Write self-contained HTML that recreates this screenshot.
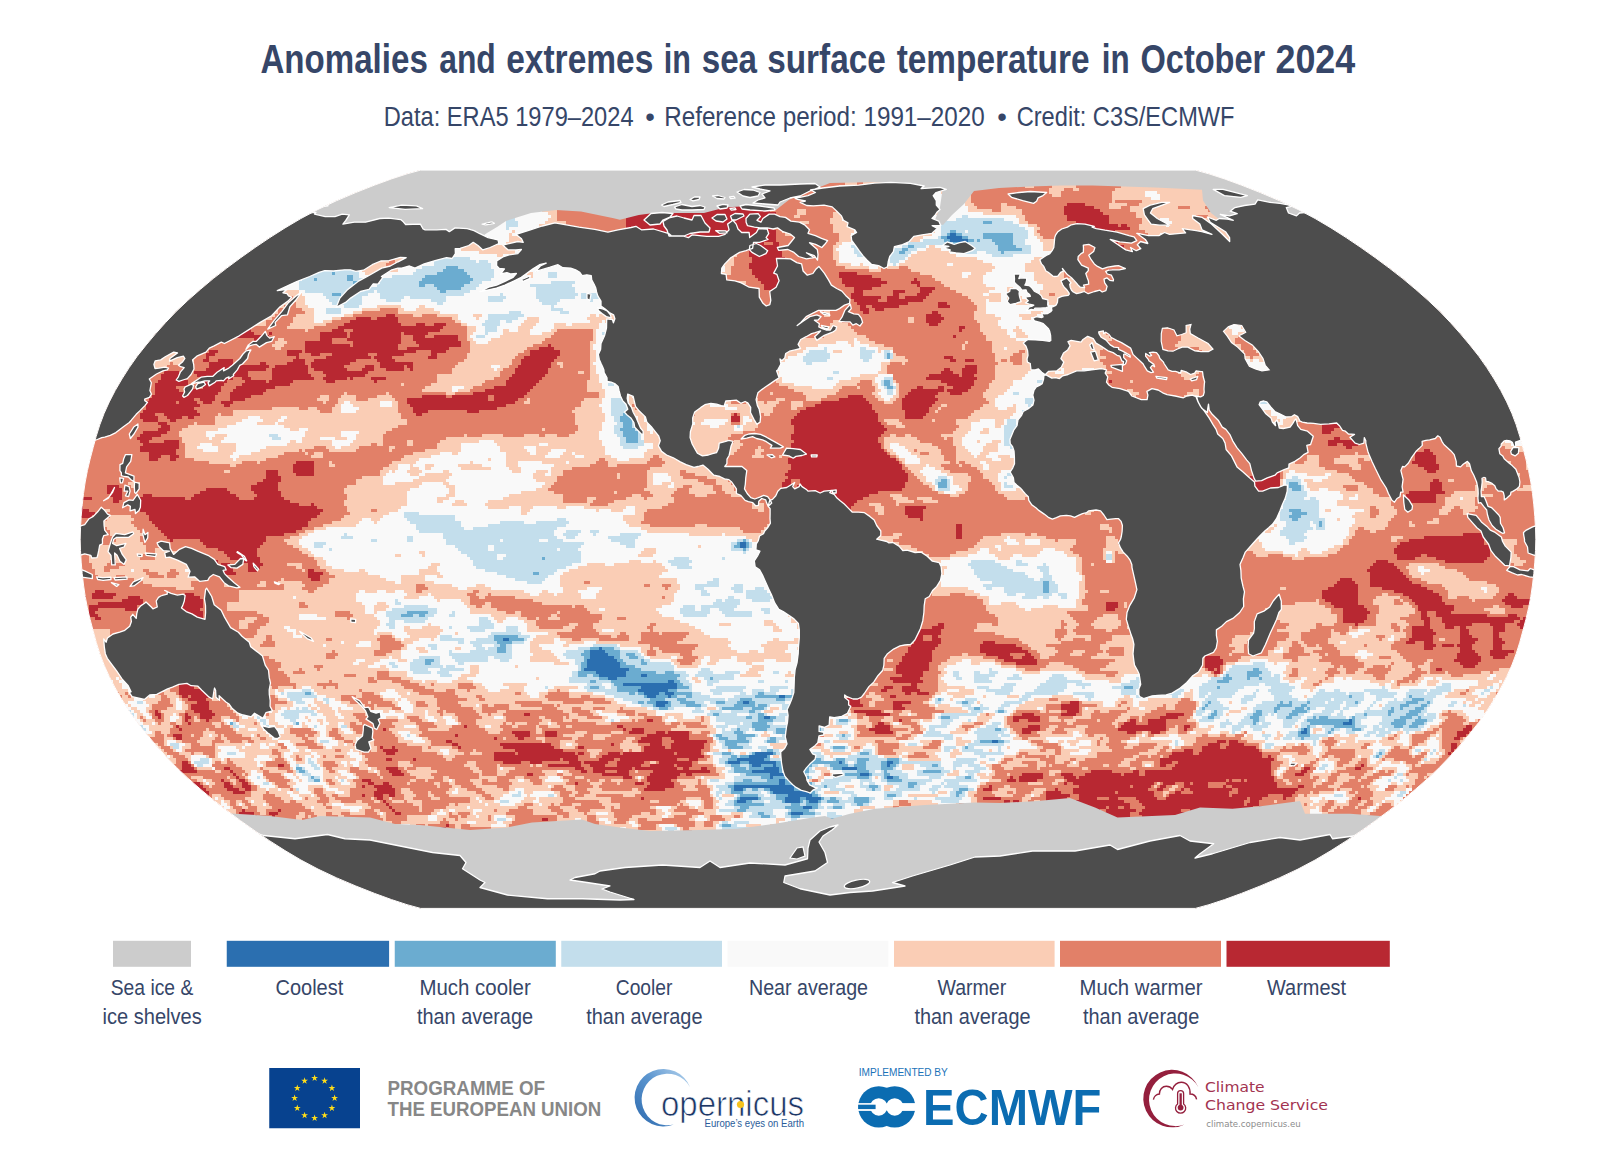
<!DOCTYPE html>
<html lang="en"><head><meta charset="utf-8"><title>Anomalies and extremes in sea surface temperature in October 2024</title>
<style>
html,body{margin:0;padding:0;background:#fff;}
body{width:1600px;height:1160px;overflow:hidden;}
svg{display:block;}
text{font-family:"Liberation Sans",sans-serif;}
</style></head><body>
<svg width="1600" height="1160" viewBox="0 0 1600 1160">
<defs>
<clipPath id="globe"><path d="M1195.4,908.4L1208.9,904.7L1224.5,899.6L1241.7,893.3L1260.2,886.0L1279.3,877.9L1298.0,869.1L1315.1,860.0L1331.0,850.6L1346.2,840.9L1360.9,831.0L1375.3,820.8L1389.3,810.4L1402.8,799.9L1415.7,789.1L1428.1,778.2L1439.7,767.2L1450.3,756.1L1460.3,744.9L1469.8,733.6L1478.8,722.3L1486.8,710.9L1494.1,699.5L1500.8,688.0L1506.7,676.6L1511.9,665.1L1516.2,653.7L1519.8,642.2L1522.9,630.8L1525.9,619.4L1528.6,607.9L1530.8,596.5L1532.5,585.0L1533.8,573.6L1534.8,562.1L1535.5,550.7L1535.8,539.2L1535.5,527.8L1534.8,516.4L1533.8,504.9L1532.5,493.5L1530.8,482.0L1528.6,470.6L1525.9,459.1L1522.9,447.7L1519.8,436.3L1516.2,424.8L1511.9,413.4L1506.7,401.9L1500.8,390.5L1494.1,379.0L1486.8,367.6L1478.8,356.2L1469.8,344.9L1460.3,333.6L1450.3,322.4L1439.7,311.3L1428.1,300.3L1415.7,289.4L1402.8,278.6L1389.3,268.1L1375.3,257.7L1360.9,247.5L1346.2,237.6L1331.0,227.9L1315.1,218.5L1298.0,209.4L1279.3,200.6L1260.2,192.5L1241.7,185.2L1224.5,178.9L1208.9,173.8L1195.4,170.1L420.6,170.1L407.1,173.8L391.5,178.9L374.3,185.2L355.8,192.5L336.7,200.6L318.0,209.4L300.9,218.5L285.0,227.9L269.8,237.6L255.1,247.5L240.7,257.7L226.7,268.1L213.2,278.6L200.3,289.4L187.9,300.3L176.3,311.3L165.7,322.4L155.7,333.6L146.2,344.9L137.2,356.2L129.2,367.6L121.9,379.0L115.2,390.5L109.3,401.9L104.1,413.4L99.8,424.8L96.2,436.3L93.1,447.7L90.1,459.1L87.4,470.6L85.2,482.0L83.5,493.5L82.2,504.9L81.2,516.4L80.5,527.8L80.2,539.2L80.5,550.7L81.2,562.1L82.2,573.6L83.5,585.0L85.2,596.5L87.4,607.9L90.1,619.4L93.1,630.8L96.2,642.2L99.8,653.7L104.1,665.1L109.3,676.6L115.2,688.0L121.9,699.5L129.2,710.9L137.2,722.3L146.2,733.6L155.7,744.9L165.7,756.1L176.3,767.2L187.9,778.2L200.3,789.1L213.2,799.9L226.7,810.4L240.7,820.8L255.1,831.0L269.8,840.9L285.0,850.6L300.9,860.0L318.0,869.1L336.7,877.9L355.8,886.0L374.3,893.3L391.5,899.6L407.1,904.7L420.6,908.4Z"/></clipPath>
<clipPath id="inl"><path d="M1162.9,349.4L1161.2,341.3L1161.3,333.6L1162.4,328.2L1167.5,327.8L1174.0,330.0L1176.9,335.8L1181.7,334.5L1186.2,332.7L1186.1,325.5L1191.0,324.6L1189.8,329.1L1190.3,333.6L1198.1,338.1L1208.1,343.5L1213.0,349.0L1208.4,351.7L1201.0,351.7L1195.0,350.8L1187.8,347.1L1182.2,347.1L1177.5,349.0L1173.0,351.2L1168.0,350.8ZM1228.1,326.9L1234.0,324.6L1241.7,325.5L1245.7,332.2L1241.6,334.5L1238.7,335.8L1244.9,340.4L1252.2,344.9L1258.4,351.7L1263.0,358.5L1265.2,365.3L1269.1,369.9L1262.0,370.8L1255.5,369.0L1249.4,366.2L1245.1,358.5L1244.7,354.0L1237.6,347.1L1231.5,342.6L1227.1,335.8L1223.5,331.3Z"/></clipPath>

</defs>
<rect width="1600" height="1160" fill="#fff"/>
<text y="72.9" font-size="40.2" font-weight="bold" fill="#364668"><tspan x="260.45" textLength="167.35" lengthAdjust="spacingAndGlyphs">Anomalies</tspan> <tspan x="439.2" textLength="56.6" lengthAdjust="spacingAndGlyphs">and</tspan> <tspan x="506.2" textLength="147.1" lengthAdjust="spacingAndGlyphs">extremes</tspan> <tspan x="663.7" textLength="27.1" lengthAdjust="spacingAndGlyphs">in</tspan> <tspan x="701.7" textLength="55.35" lengthAdjust="spacingAndGlyphs">sea</tspan> <tspan x="767.2" textLength="118.6" lengthAdjust="spacingAndGlyphs">surface</tspan> <tspan x="896.7" textLength="192.85" lengthAdjust="spacingAndGlyphs">temperature</tspan> <tspan x="1101.7" textLength="27.85" lengthAdjust="spacingAndGlyphs">in</tspan> <tspan x="1140.45" textLength="124.85" lengthAdjust="spacingAndGlyphs">October</tspan> <tspan x="1275.45" textLength="79.85" lengthAdjust="spacingAndGlyphs">2024</tspan></text>
<text y="125.7" font-size="27.3" font-weight="normal" fill="#364668"><tspan x="383.7" textLength="249.9" lengthAdjust="spacingAndGlyphs">Data: ERA5 1979–2024</tspan> <tspan x="645.3">•</tspan> <tspan x="664.2" textLength="320.5" lengthAdjust="spacingAndGlyphs">Reference period: 1991–2020</tspan> <tspan x="997.3">•</tspan> <tspan x="1016.7" textLength="217.85" lengthAdjust="spacingAndGlyphs">Credit: C3S/ECMWF</tspan></text>
<g clip-path="url(#globe)">
<rect x="60" y="160" width="1500" height="760" fill="#e8957c"/>
<g id="oc" fill="none" stroke-width="3.3" shape-rendering="crispEdges"><rect x="60" y="160" width="1500" height="760" fill="#e28068" stroke="none"/>
<path d="M626,171.5h75M704,171.5h57M626,174.5h72M704,174.5h57M629,177.5h57M689,177.5h6M704,177.5h57M632,180.5h129M635,183.5h129M635,186.5h132M632,189.5h69M704,189.5h66M632,192.5h72M719,192.5h48M632,195.5h78M716,195.5h48M629,198.5h135M623,201.5h141M623,204.5h141M1067,204.5h18M623,207.5h51M677,207.5h87M1064,207.5h30M620,210.5h51M677,210.5h21M704,210.5h66M1064,210.5h36M623,213.5h153M1064,213.5h39M626,216.5h150M1067,216.5h42M626,219.5h150M1067,219.5h42M626,222.5h153M1076,222.5h33M626,225.5h150M1079,225.5h39M1121,225.5h6M626,228.5h147M1076,228.5h54M593,231.5h9M626,231.5h150M1082,231.5h33M623,234.5h153M1085,234.5h15M623,237.5h153M1088,237.5h12M635,240.5h141M1091,240.5h21M1127,240.5h3M638,243.5h66M728,243.5h36M773,243.5h6M1094,243.5h24M638,246.5h63M737,246.5h42M1094,246.5h30M638,249.5h63M743,249.5h36M797,249.5h3M1100,249.5h24M635,252.5h63M749,252.5h33M1103,252.5h12M1121,252.5h3M635,255.5h60M749,255.5h33M1106,255.5h9M632,258.5h60M752,258.5h33M635,261.5h42M683,261.5h6M752,261.5h36M668,264.5h18M749,264.5h45M668,267.5h24M749,267.5h45M668,270.5h21M752,270.5h42M1109,270.5h3M668,273.5h18M752,273.5h48M839,273.5h18M668,276.5h15M755,276.5h45M839,276.5h33M668,279.5h18M758,279.5h42M842,279.5h39M914,279.5h3M668,282.5h15M761,282.5h36M842,282.5h45M911,282.5h9M668,285.5h12M764,285.5h36M845,285.5h36M917,285.5h3M671,288.5h9M764,288.5h30M854,288.5h18M920,288.5h15M677,291.5h6M854,291.5h9M893,291.5h12M920,291.5h12M209,294.5h9M851,294.5h12M893,294.5h6M917,294.5h12M209,297.5h12M749,297.5h6M851,297.5h30M887,297.5h12M905,297.5h21M209,300.5h15M854,300.5h24M887,300.5h36M212,303.5h12M857,303.5h51M938,303.5h9M209,306.5h12M860,306.5h6M872,306.5h27M938,306.5h12M209,309.5h9M860,309.5h9M875,309.5h9M209,312.5h15M863,312.5h6M932,312.5h6M209,315.5h21M386,315.5h9M926,315.5h15M221,318.5h6M356,318.5h15M377,318.5h21M926,318.5h18M350,321.5h48M926,321.5h15M344,324.5h57M416,324.5h9M434,324.5h12M725,324.5h6M929,324.5h9M338,327.5h105M959,327.5h6M233,330.5h3M242,330.5h9M332,330.5h12M353,330.5h87M959,330.5h3M227,333.5h27M269,333.5h3M320,333.5h27M350,333.5h51M404,333.5h24M227,336.5h42M320,336.5h27M350,336.5h51M413,336.5h12M434,336.5h24M953,336.5h3M254,339.5h9M320,339.5h12M347,339.5h54M413,339.5h45M305,342.5h27M353,342.5h48M416,342.5h45M305,345.5h45M353,345.5h45M419,345.5h42M548,345.5h3M305,348.5h93M407,348.5h42M539,348.5h15M209,351.5h9M287,351.5h15M305,351.5h111M431,351.5h15M530,351.5h30M206,354.5h9M245,354.5h3M287,354.5h12M311,354.5h9M332,354.5h36M377,354.5h27M431,354.5h6M530,354.5h30M206,357.5h3M296,357.5h3M326,357.5h45M374,357.5h18M428,357.5h9M524,357.5h33M944,357.5h9M203,360.5h6M218,360.5h15M293,360.5h12M314,360.5h42M377,360.5h18M521,360.5h33M950,360.5h6M965,360.5h9M209,363.5h24M260,363.5h6M287,363.5h18M311,363.5h39M380,363.5h33M521,363.5h30M209,366.5h60M275,366.5h33M311,366.5h33M365,366.5h9M380,366.5h24M407,366.5h6M518,366.5h33M965,366.5h12M206,369.5h60M272,369.5h36M314,369.5h33M362,369.5h12M386,369.5h18M410,369.5h3M515,369.5h33M944,369.5h6M962,369.5h15M164,372.5h15M194,372.5h54M272,372.5h36M323,372.5h45M515,372.5h33M941,372.5h12M962,372.5h15M161,375.5h21M197,375.5h51M272,375.5h39M326,375.5h39M512,375.5h33M929,375.5h30M962,375.5h12M161,378.5h24M206,378.5h27M242,378.5h9M272,378.5h42M323,378.5h24M350,378.5h3M371,378.5h15M509,378.5h33M926,378.5h51M158,381.5h30M203,381.5h24M245,381.5h21M269,381.5h24M326,381.5h9M374,381.5h3M506,381.5h33M941,381.5h33M1109,381.5h3M155,384.5h33M203,384.5h21M242,384.5h48M506,384.5h30M947,384.5h27M155,387.5h21M203,387.5h18M236,387.5h39M494,387.5h39M917,387.5h6M938,387.5h6M953,387.5h18M155,390.5h24M188,390.5h33M233,390.5h33M485,390.5h45M911,390.5h33M947,390.5h21M155,393.5h63M230,393.5h33M473,393.5h54M908,393.5h30M950,393.5h12M152,396.5h63M230,396.5h21M422,396.5h24M452,396.5h36M494,396.5h30M848,396.5h15M905,396.5h30M149,399.5h45M200,399.5h15M230,399.5h15M407,399.5h81M494,399.5h24M839,399.5h27M902,399.5h36M146,402.5h30M179,402.5h18M203,402.5h9M221,402.5h12M407,402.5h108M821,402.5h48M902,402.5h33M146,405.5h54M224,405.5h6M410,405.5h96M815,405.5h57M902,405.5h30M1091,405.5h9M146,408.5h48M413,408.5h84M806,408.5h66M902,408.5h27M1091,408.5h9M143,411.5h54M413,411.5h15M467,411.5h12M800,411.5h75M905,411.5h24M1097,411.5h6M140,414.5h15M164,414.5h36M416,414.5h6M734,414.5h3M797,414.5h81M905,414.5h21M140,417.5h18M167,417.5h15M188,417.5h6M731,417.5h9M794,417.5h84M905,417.5h18M143,420.5h15M170,420.5h6M731,420.5h9M791,420.5h87M1094,420.5h3M158,423.5h9M791,423.5h90M1094,423.5h6M1322,423.5h15M80,426.5h6M161,426.5h9M794,426.5h90M1322,426.5h18M1415,426.5h9M158,429.5h12M794,429.5h93M1322,429.5h12M1343,429.5h9M1418,429.5h9M143,432.5h24M794,432.5h90M1322,432.5h9M140,435.5h21M791,435.5h90M137,438.5h15M791,438.5h87M1334,438.5h6M1400,438.5h6M140,441.5h9M164,441.5h15M794,441.5h84M1328,441.5h27M1400,441.5h6M143,444.5h36M791,444.5h90M1328,444.5h9M1343,444.5h15M140,447.5h39M791,447.5h90M1346,447.5h6M140,450.5h36M791,450.5h93M1424,450.5h6M149,453.5h27M791,453.5h96M1382,453.5h6M1415,453.5h18M149,456.5h12M170,456.5h9M791,456.5h99M1379,456.5h18M1415,456.5h21M149,459.5h9M170,459.5h6M788,459.5h108M1379,459.5h21M1415,459.5h21M296,462.5h18M788,462.5h111M1412,462.5h24M293,465.5h21M791,465.5h111M1418,465.5h21M293,468.5h21M791,468.5h111M1424,468.5h15M266,471.5h12M293,471.5h21M788,471.5h117M1253,471.5h27M1427,471.5h9M266,474.5h12M296,474.5h18M785,474.5h123M1253,474.5h27M266,477.5h15M788,477.5h120M1250,477.5h30M263,480.5h18M785,480.5h6M800,480.5h108M1241,480.5h39M1433,480.5h6M257,483.5h21M782,483.5h9M800,483.5h105M1235,483.5h45M1430,483.5h12M107,486.5h12M251,486.5h27M782,486.5h12M797,486.5h108M1241,486.5h39M1430,486.5h12M107,489.5h15M206,489.5h21M251,489.5h27M782,489.5h120M1241,489.5h39M1430,489.5h12M107,492.5h15M200,492.5h30M254,492.5h27M779,492.5h99M1232,492.5h6M1241,492.5h27M1409,492.5h36M80,495.5h3M110,495.5h12M143,495.5h9M194,495.5h42M257,495.5h24M779,495.5h18M800,495.5h69M1223,495.5h15M1244,495.5h24M1406,495.5h30M80,498.5h12M113,498.5h9M140,498.5h45M191,498.5h48M254,498.5h30M782,498.5h12M806,498.5h57M1220,498.5h51M1406,498.5h30M113,501.5h6M137,501.5h153M785,501.5h6M806,501.5h51M1220,501.5h39M1409,501.5h27M137,504.5h162M311,504.5h3M779,504.5h15M809,504.5h45M1235,504.5h18M80,507.5h3M140,507.5h177M782,507.5h12M812,507.5h39M905,507.5h21M80,510.5h9M140,510.5h183M815,510.5h36M905,510.5h18M1202,510.5h12M80,513.5h15M146,513.5h174M821,513.5h30M905,513.5h18M1199,513.5h15M80,516.5h12M149,516.5h168M821,516.5h30M908,516.5h15M1202,516.5h9M149,519.5h162M818,519.5h33M920,519.5h3M152,522.5h156M818,522.5h33M155,525.5h153M821,525.5h27M956,525.5h6M1196,525.5h9M158,528.5h144M824,528.5h27M956,528.5h6M1196,528.5h6M1535,528.5h3M161,531.5h135M824,531.5h24M956,531.5h6M164,534.5h120M824,534.5h18M956,534.5h6M1463,534.5h21M167,537.5h99M827,537.5h6M956,537.5h6M1424,537.5h60M170,540.5h3M200,540.5h66M1409,540.5h75M203,543.5h60M1400,543.5h84M206,546.5h54M1397,546.5h93M218,549.5h39M1394,549.5h96M224,552.5h33M1394,552.5h96M227,555.5h30M1397,555.5h24M1427,555.5h63M230,558.5h30M1397,558.5h18M1436,558.5h51M215,561.5h3M242,561.5h18M1376,561.5h12M1445,561.5h39M221,564.5h9M248,564.5h15M1373,564.5h21M221,567.5h12M248,567.5h12M1370,567.5h27M224,570.5h9M248,570.5h9M308,570.5h6M1367,570.5h33M224,573.5h12M308,573.5h15M1172,573.5h3M1370,573.5h33M308,576.5h12M1370,576.5h36M311,579.5h9M1340,579.5h12M1370,579.5h39M1337,582.5h18M1370,582.5h42M1334,585.5h24M1370,585.5h51M1328,588.5h30M1382,588.5h45M95,591.5h9M1322,591.5h36M1394,591.5h39M92,594.5h24M185,594.5h9M1322,594.5h36M1403,594.5h36M1508,594.5h6M80,597.5h6M92,597.5h21M128,597.5h12M179,597.5h21M1322,597.5h36M1409,597.5h33M1505,597.5h12M80,600.5h6M122,600.5h21M176,600.5h27M1325,600.5h33M1412,600.5h30M1502,600.5h36M98,603.5h45M176,603.5h27M1106,603.5h12M1331,603.5h27M1415,603.5h30M1505,603.5h33M89,606.5h48M176,606.5h27M1106,606.5h12M1334,606.5h30M1418,606.5h36M1511,606.5h12M89,609.5h9M125,609.5h12M158,609.5h9M170,609.5h30M1106,609.5h9M1343,609.5h24M1418,609.5h36M89,612.5h6M155,612.5h48M881,612.5h12M1343,612.5h27M1421,612.5h6M1436,612.5h15M89,615.5h9M143,615.5h9M158,615.5h45M884,615.5h12M917,615.5h6M1343,615.5h24M1421,615.5h6M1436,615.5h51M1508,615.5h9M95,618.5h6M143,618.5h6M161,618.5h42M884,618.5h9M914,618.5h9M1343,618.5h24M1421,618.5h9M1442,618.5h78M1523,618.5h6M182,621.5h21M917,621.5h3M1343,621.5h21M1424,621.5h6M1442,621.5h72M1520,621.5h12M182,624.5h15M938,624.5h6M1355,624.5h3M1424,624.5h6M1445,624.5h27M1490,624.5h15M1517,624.5h21M134,627.5h6M149,627.5h18M179,627.5h15M932,627.5h12M1412,627.5h18M1445,627.5h9M1460,627.5h6M1493,627.5h12M1520,627.5h18M137,630.5h18M179,630.5h15M920,630.5h21M1412,630.5h21M1460,630.5h9M1493,630.5h12M1532,630.5h6M137,633.5h12M182,633.5h18M914,633.5h27M1193,633.5h21M1412,633.5h24M1460,633.5h9M1493,633.5h6M1532,633.5h6M134,636.5h15M182,636.5h21M914,636.5h9M932,636.5h6M1187,636.5h27M1412,636.5h21M1460,636.5h12M1493,636.5h6M137,639.5h12M182,639.5h21M914,639.5h9M932,639.5h9M1190,639.5h21M1409,639.5h24M1460,639.5h18M1493,639.5h9M182,642.5h18M914,642.5h27M983,642.5h12M1193,642.5h15M1262,642.5h3M1406,642.5h9M1424,642.5h9M1460,642.5h15M1493,642.5h12M191,645.5h6M911,645.5h27M980,645.5h36M1199,645.5h15M1256,645.5h9M1424,645.5h12M1442,645.5h12M1457,645.5h15M1493,645.5h9M908,648.5h27M980,648.5h42M1202,648.5h12M1424,648.5h9M1460,648.5h12M1493,648.5h9M908,651.5h24M980,651.5h48M1208,651.5h3M1460,651.5h15M1490,651.5h24M905,654.5h27M986,654.5h24M1025,654.5h6M1457,654.5h21M1490,654.5h18M902,657.5h30M998,657.5h15M1022,657.5h12M1205,657.5h15M1457,657.5h24M1493,657.5h12M902,660.5h30M1004,660.5h33M1205,660.5h18M1454,660.5h27M851,663.5h15M899,663.5h30M1016,663.5h21M1205,663.5h18M1460,663.5h18M851,666.5h18M896,666.5h33M1205,666.5h15M1463,666.5h12M854,669.5h12M896,669.5h33M1208,669.5h6M1217,669.5h3M1436,669.5h6M854,672.5h18M896,672.5h27M1214,672.5h6M854,675.5h18M902,675.5h21M890,678.5h30M185,681.5h6M848,681.5h12M893,681.5h30M179,684.5h12M911,684.5h6M179,687.5h15M884,687.5h9M902,687.5h15M179,690.5h24M881,690.5h6M902,690.5h18M179,693.5h27M905,693.5h6M917,693.5h12M182,696.5h6M191,696.5h18M890,696.5h6M188,699.5h18M845,699.5h15M197,702.5h12M836,702.5h24M893,702.5h18M1070,702.5h9M191,705.5h18M827,705.5h36M893,705.5h9M1061,705.5h18M191,708.5h18M833,708.5h6M893,708.5h12M1061,708.5h18M155,711.5h3M194,711.5h18M854,711.5h27M1067,711.5h12M155,714.5h6M185,714.5h3M200,714.5h15M524,714.5h6M866,714.5h24M1022,714.5h12M1061,714.5h15M1166,714.5h18M158,717.5h3M185,717.5h6M200,717.5h12M1013,717.5h27M1160,717.5h18M185,720.5h3M206,720.5h3M647,720.5h6M899,720.5h3M1013,720.5h6M1028,720.5h12M1130,720.5h6M1148,720.5h18M188,723.5h3M878,723.5h6M1124,723.5h12M1148,723.5h18M176,726.5h3M464,726.5h3M617,726.5h6M875,726.5h15M1028,726.5h12M1121,726.5h45M1184,726.5h6M1466,726.5h6M179,729.5h3M383,729.5h3M623,729.5h3M632,729.5h12M869,729.5h21M1022,729.5h18M1118,729.5h48M1184,729.5h3M1463,729.5h9M512,732.5h18M545,732.5h12M629,732.5h15M656,732.5h9M668,732.5h21M875,732.5h18M1022,732.5h9M1127,732.5h9M1151,732.5h9M1457,732.5h12M173,735.5h9M455,735.5h3M515,735.5h15M545,735.5h12M647,735.5h42M1457,735.5h9M176,738.5h6M494,738.5h3M518,738.5h6M641,738.5h21M671,738.5h18M1454,738.5h6M446,741.5h6M638,741.5h24M674,741.5h33M1217,741.5h9M1229,741.5h9M452,744.5h6M500,744.5h51M611,744.5h3M650,744.5h12M671,744.5h33M1208,744.5h12M1229,744.5h15M1451,744.5h6M380,747.5h3M392,747.5h3M458,747.5h3M503,747.5h51M578,747.5h6M644,747.5h21M671,747.5h33M1202,747.5h18M1226,747.5h30M1451,747.5h6M383,750.5h15M515,750.5h48M644,750.5h57M1184,750.5h9M1202,750.5h57M1451,750.5h3M1472,750.5h6M386,753.5h9M494,753.5h21M518,753.5h57M578,753.5h6M608,753.5h12M623,753.5h51M677,753.5h24M1172,753.5h21M1199,753.5h63M1448,753.5h3M1472,753.5h3M494,756.5h84M602,756.5h102M1169,756.5h93M1268,756.5h3M1526,756.5h3M386,759.5h6M413,759.5h3M494,759.5h66M563,759.5h15M599,759.5h15M620,759.5h57M689,759.5h9M1160,759.5h114M182,762.5h6M503,762.5h18M530,762.5h12M569,762.5h12M584,762.5h24M617,762.5h27M659,762.5h33M1160,762.5h12M1178,762.5h93M1532,762.5h6M155,765.5h9M182,765.5h9M278,765.5h6M548,765.5h33M590,765.5h15M617,765.5h24M650,765.5h24M677,765.5h15M1160,765.5h6M1175,765.5h96M1361,765.5h3M1526,765.5h12M155,768.5h12M182,768.5h12M224,768.5h6M386,768.5h12M575,768.5h9M593,768.5h39M635,768.5h42M683,768.5h6M701,768.5h6M1172,768.5h99M1304,768.5h6M1355,768.5h6M1520,768.5h9M1532,768.5h6M158,771.5h9M179,771.5h18M230,771.5h3M389,771.5h12M581,771.5h6M593,771.5h12M617,771.5h12M653,771.5h57M1091,771.5h21M1133,771.5h6M1145,771.5h126M1301,771.5h6M1520,771.5h3M1532,771.5h6M164,774.5h3M233,774.5h3M392,774.5h12M527,774.5h6M602,774.5h27M650,774.5h30M686,774.5h6M1022,774.5h21M1061,774.5h12M1085,774.5h36M1124,774.5h15M1145,774.5h126M1295,774.5h9M1526,774.5h12M236,777.5h3M623,777.5h9M647,777.5h30M1010,777.5h3M1019,777.5h24M1064,777.5h12M1079,777.5h195M1520,777.5h12M1535,777.5h3M221,780.5h3M239,780.5h6M362,780.5h9M647,780.5h24M1007,780.5h9M1019,780.5h18M1067,780.5h159M1229,780.5h3M1241,780.5h3M1247,780.5h27M1517,780.5h9M188,783.5h12M224,783.5h6M242,783.5h6M368,783.5h6M383,783.5h6M575,783.5h3M635,783.5h9M650,783.5h24M1064,783.5h3M1073,783.5h81M1163,783.5h12M1184,783.5h6M1193,783.5h15M1226,783.5h51M1514,783.5h9M191,786.5h12M224,786.5h9M242,786.5h9M362,786.5h3M374,786.5h18M647,786.5h27M989,786.5h3M1079,786.5h51M1133,786.5h18M1160,786.5h6M1184,786.5h24M1223,786.5h3M1232,786.5h45M1298,786.5h6M1508,786.5h15M1532,786.5h6M194,789.5h12M227,789.5h12M245,789.5h6M377,789.5h18M644,789.5h21M983,789.5h9M1055,789.5h3M1073,789.5h75M1157,789.5h6M1181,789.5h3M1190,789.5h42M1238,789.5h60M1484,789.5h9M1505,789.5h18M1529,789.5h3M200,792.5h9M233,792.5h12M374,792.5h21M1046,792.5h15M1073,792.5h42M1118,792.5h36M1175,792.5h6M1193,792.5h36M1238,792.5h57M1469,792.5h3M1481,792.5h9M1508,792.5h12M203,795.5h6M362,795.5h3M374,795.5h9M389,795.5h6M1046,795.5h24M1079,795.5h75M1169,795.5h60M1232,795.5h36M1283,795.5h9M1511,795.5h9M203,798.5h3M377,798.5h6M641,798.5h3M983,798.5h18M1046,798.5h21M1079,798.5h18M1109,798.5h9M1136,798.5h21M1166,798.5h81M1250,798.5h12M1283,798.5h3M1358,798.5h3M1448,798.5h3M1514,798.5h3M203,801.5h6M383,801.5h3M1004,801.5h6M1013,801.5h6M1046,801.5h15M1076,801.5h48M1139,801.5h105M1250,801.5h9M1406,801.5h3M1442,801.5h9M176,804.5h6M206,804.5h3M386,804.5h3M1010,804.5h6M1025,804.5h3M1073,804.5h57M1142,804.5h102M1247,804.5h12M1286,804.5h3M1439,804.5h12M176,807.5h15M389,807.5h3M968,807.5h9M998,807.5h18M1031,807.5h12M1070,807.5h36M1109,807.5h9M1124,807.5h6M1145,807.5h108M1259,807.5h9M1286,807.5h3M1439,807.5h9M173,810.5h18M203,810.5h9M242,810.5h3M278,810.5h3M392,810.5h3M1031,810.5h3M1073,810.5h12M1094,810.5h6M1106,810.5h30M1142,810.5h39M1190,810.5h48M1259,810.5h3M1391,810.5h6M1439,810.5h3M1463,810.5h3M128,813.5h3M152,813.5h3M176,813.5h12M206,813.5h9M239,813.5h15M269,813.5h9M395,813.5h6M1070,813.5h18M1094,813.5h36M1139,813.5h96M1388,813.5h6M206,816.5h9M239,816.5h18M272,816.5h3M1061,816.5h9M1076,816.5h9M1088,816.5h42M1142,816.5h63M1214,816.5h18M242,819.5h18M353,819.5h3M542,819.5h6M1058,819.5h3M1079,819.5h54M1142,819.5h60M1223,819.5h3M1277,819.5h3M1364,819.5h6M1397,819.5h6M1445,819.5h6M1466,819.5h3M251,822.5h12M329,822.5h6M353,822.5h3M371,822.5h3M1055,822.5h9M1076,822.5h126M1238,822.5h6M1274,822.5h6M1361,822.5h9M1394,822.5h9M1451,822.5h18M254,825.5h12M284,825.5h6M332,825.5h6M446,825.5h3M1058,825.5h3M1079,825.5h126M1214,825.5h3M1238,825.5h6M1274,825.5h3M1301,825.5h6M1361,825.5h12M1451,825.5h12M260,828.5h12M290,828.5h3M437,828.5h9M527,828.5h3M545,828.5h6M1088,828.5h24M1121,828.5h78M1208,828.5h6M1238,828.5h6M1268,828.5h6M1358,828.5h15M1418,828.5h3M161,831.5h3M266,831.5h9M362,831.5h6M371,831.5h6M437,831.5h12M527,831.5h30M1082,831.5h27M1118,831.5h30M1160,831.5h36M1208,831.5h3M1217,831.5h6M1238,831.5h3M1361,831.5h6M1415,831.5h12M1454,831.5h3M1463,831.5h9M161,834.5h6M209,834.5h3M269,834.5h9M350,834.5h3M362,834.5h15M440,834.5h6M470,834.5h3M527,834.5h33M995,834.5h3M1016,834.5h3M1079,834.5h51M1133,834.5h9M1160,834.5h39M1202,834.5h9M1214,834.5h9M1235,834.5h3M1292,834.5h3M1301,834.5h6M1412,834.5h9M1460,834.5h24M113,837.5h3M131,837.5h24M164,837.5h3M179,837.5h6M212,837.5h3M245,837.5h6M272,837.5h9M353,837.5h3M512,837.5h9M530,837.5h36M635,837.5h6M992,837.5h3M1076,837.5h48M1133,837.5h6M1157,837.5h63M1229,837.5h6M1289,837.5h18M1313,837.5h9M1409,837.5h6M1430,837.5h6M1457,837.5h6M1469,837.5h12M116,840.5h9M134,840.5h30M167,840.5h3M182,840.5h3M245,840.5h9M308,840.5h3M347,840.5h9M512,840.5h3M539,840.5h12M599,840.5h9M989,840.5h12M1073,840.5h18M1097,840.5h24M1127,840.5h12M1154,840.5h63M1289,840.5h15M1310,840.5h3M1331,840.5h6M1409,840.5h9M122,843.5h6M140,843.5h3M149,843.5h18M248,843.5h9M311,843.5h3M350,843.5h12M515,843.5h6M527,843.5h3M536,843.5h15M560,843.5h3M989,843.5h9M1070,843.5h15M1097,843.5h12M1124,843.5h12M1148,843.5h24M1175,843.5h9M1187,843.5h12M1229,843.5h3M1259,843.5h6M1325,843.5h9M1388,843.5h15M1409,843.5h9M161,846.5h9M200,846.5h3M215,846.5h6M254,846.5h6M263,846.5h6M356,846.5h6M413,846.5h6M563,846.5h3M599,846.5h3M1070,846.5h9M1094,846.5h39M1148,846.5h27M1187,846.5h9M1226,846.5h3M1238,846.5h3M1253,846.5h12M1322,846.5h6M1385,846.5h15M1412,846.5h3M1469,846.5h6M191,849.5h3M200,849.5h6M218,849.5h6M248,849.5h9M266,849.5h9M401,849.5h21M1043,849.5h9M1067,849.5h6M1094,849.5h42M1145,849.5h15M1163,849.5h42M1211,849.5h9M1250,849.5h12M1316,849.5h6M1367,849.5h6M1385,849.5h9M1418,849.5h3M1466,849.5h9M128,852.5h3M170,852.5h6M191,852.5h12M206,852.5h3M212,852.5h6M221,852.5h6M245,852.5h15M269,852.5h9M317,852.5h9M404,852.5h18M497,852.5h18M992,852.5h9M1091,852.5h66M1160,852.5h27M1193,852.5h27M1229,852.5h9M1268,852.5h3M1313,852.5h6M1364,852.5h6M1385,852.5h3M1442,852.5h6M1469,852.5h3M113,855.5h24M170,855.5h9M194,855.5h12M248,855.5h18M269,855.5h12M320,855.5h9M392,855.5h6M419,855.5h6M461,855.5h3M500,855.5h9M512,855.5h6M1073,855.5h42M1124,855.5h93M1220,855.5h24M1307,855.5h9M1364,855.5h6M1439,855.5h9M113,858.5h18M140,858.5h3M173,858.5h9M200,858.5h6M248,858.5h12M263,858.5h12M284,858.5h3M323,858.5h6M368,858.5h3M386,858.5h15M419,858.5h6M458,858.5h12M506,858.5h3M518,858.5h3M1067,858.5h48M1142,858.5h72M1217,858.5h30M1289,858.5h12M1304,858.5h6M1364,858.5h6M119,861.5h12M167,861.5h18M203,861.5h6M218,861.5h3M251,861.5h9M269,861.5h6M401,861.5h3M422,861.5h3M1064,861.5h66M1133,861.5h111M1271,861.5h3M1286,861.5h9M1301,861.5h3M1379,861.5h3M128,864.5h6M146,864.5h6M167,864.5h24M209,864.5h9M257,864.5h6M326,864.5h3M470,864.5h3M557,864.5h3M1058,864.5h123M1184,864.5h60M1268,864.5h3M1295,864.5h6M149,867.5h9M170,867.5h9M182,867.5h12M311,867.5h3M329,867.5h3M347,867.5h3M470,867.5h9M557,867.5h15M1058,867.5h117M1187,867.5h42M1235,867.5h6M1295,867.5h3M1496,867.5h12M152,870.5h9M242,870.5h6M296,870.5h6M329,870.5h9M347,870.5h9M461,870.5h21M557,870.5h9M626,870.5h6M986,870.5h3M1061,870.5h27M1103,870.5h48M1160,870.5h12M1190,870.5h24M1217,870.5h6M1235,870.5h3M1292,870.5h3M1490,870.5h15M113,873.5h9M155,873.5h6M248,873.5h6M332,873.5h9M350,873.5h9M464,873.5h9M479,873.5h9M506,873.5h12M557,873.5h9M1010,873.5h6M1037,873.5h3M1058,873.5h87M1163,873.5h12M1190,873.5h18M1226,873.5h12M1286,873.5h6M1427,873.5h3M113,876.5h12M170,876.5h6M236,876.5h12M296,876.5h3M335,876.5h21M512,876.5h6M578,876.5h6M1010,876.5h6M1064,876.5h9M1079,876.5h42M1124,876.5h21M1160,876.5h18M1187,876.5h9M1208,876.5h6M1220,876.5h18M1283,876.5h3M1352,876.5h6M1475,876.5h6M158,879.5h3M236,879.5h18M269,879.5h3M290,879.5h3M314,879.5h3M338,879.5h6M347,879.5h9M380,879.5h6M419,879.5h9M473,879.5h9M485,879.5h9M500,879.5h3M989,879.5h3M1028,879.5h6M1061,879.5h54M1118,879.5h33M1157,879.5h21M1181,879.5h9M1202,879.5h42M1265,879.5h12M1343,879.5h9M1409,879.5h3M1427,879.5h9M1469,879.5h6M194,882.5h3M245,882.5h30M290,882.5h6M314,882.5h9M341,882.5h12M377,882.5h9M425,882.5h6M473,882.5h24M500,882.5h12M557,882.5h9M1025,882.5h6M1055,882.5h54M1112,882.5h39M1157,882.5h87M1265,882.5h12M1343,882.5h3M1403,882.5h3M1427,882.5h3M197,885.5h6M257,885.5h15M308,885.5h3M314,885.5h12M347,885.5h6M380,885.5h6M419,885.5h3M428,885.5h9M470,885.5h42M1016,885.5h9M1061,885.5h3M1070,885.5h24M1112,885.5h24M1139,885.5h6M1154,885.5h18M1178,885.5h66M1262,885.5h15M1400,885.5h3M1409,885.5h3M1424,885.5h3M1514,885.5h9M119,888.5h3M200,888.5h9M260,888.5h9M311,888.5h12M377,888.5h6M419,888.5h3M437,888.5h3M464,888.5h12M503,888.5h9M572,888.5h9M1019,888.5h3M1067,888.5h6M1085,888.5h9M1112,888.5h18M1151,888.5h18M1175,888.5h27M1205,888.5h39M1247,888.5h27M1403,888.5h9M1424,888.5h3M1514,888.5h9M125,891.5h3M134,891.5h9M167,891.5h6M260,891.5h9M311,891.5h12M347,891.5h3M359,891.5h3M371,891.5h15M425,891.5h15M464,891.5h9M542,891.5h12M572,891.5h12M1037,891.5h3M1064,891.5h21M1109,891.5h27M1145,891.5h18M1172,891.5h12M1187,891.5h81M1403,891.5h9M1472,891.5h3M1514,891.5h3M140,894.5h9M170,894.5h9M263,894.5h9M314,894.5h9M377,894.5h15M431,894.5h15M491,894.5h3M548,894.5h6M578,894.5h6M1067,894.5h15M1109,894.5h39M1157,894.5h6M1172,894.5h3M1187,894.5h81M1382,894.5h6M1400,894.5h9M1466,894.5h6M86,897.5h3M143,897.5h12M272,897.5h3M308,897.5h15M380,897.5h15M434,897.5h9M494,897.5h3M539,897.5h6M1067,897.5h78M1154,897.5h6M1178,897.5h72M1256,897.5h9M1274,897.5h6M1412,897.5h6M1463,897.5h6M1523,897.5h3M80,900.5h24M143,900.5h12M308,900.5h15M386,900.5h6M434,900.5h9M542,900.5h3M578,900.5h15M623,900.5h12M1007,900.5h3M1064,900.5h78M1175,900.5h33M1223,900.5h21M1262,900.5h3M1271,900.5h6M1337,900.5h3M1391,900.5h3M1406,900.5h9M1433,900.5h3M1463,900.5h9M1481,900.5h3M1520,900.5h9M80,903.5h30M146,903.5h12M218,903.5h3M317,903.5h6M353,903.5h6M380,903.5h30M539,903.5h12M578,903.5h27M989,903.5h6M1061,903.5h12M1088,903.5h27M1121,903.5h24M1178,903.5h24M1223,903.5h18M1247,903.5h6M1256,903.5h15M1283,903.5h3M1331,903.5h6M1385,903.5h6M1403,903.5h6M1463,903.5h18M1517,903.5h18M80,906.5h39M152,906.5h12M248,906.5h3M302,906.5h12M350,906.5h15M401,906.5h12M461,906.5h9M515,906.5h3M542,906.5h15M578,906.5h18M1034,906.5h9M1058,906.5h15M1088,906.5h18M1124,906.5h21M1184,906.5h18M1220,906.5h18M1244,906.5h21M1331,906.5h18M1379,906.5h15M1436,906.5h6M1463,906.5h18M1499,906.5h3M1514,906.5h21" stroke="#b82832"/>
<path d="M323,171.5h51M380,171.5h60M476,171.5h15M548,171.5h12M575,171.5h9M593,171.5h12M824,171.5h9M869,171.5h36M935,171.5h21M962,171.5h18M1079,171.5h3M1115,171.5h54M1187,171.5h18M1208,171.5h120M1334,171.5h39M1421,171.5h117M131,174.5h3M323,174.5h114M473,174.5h18M533,174.5h9M545,174.5h15M869,174.5h36M938,174.5h45M1079,174.5h3M1112,174.5h57M1184,174.5h141M1331,174.5h21M1358,174.5h15M1421,174.5h114M110,177.5h27M167,177.5h12M323,177.5h78M413,177.5h27M455,177.5h30M533,177.5h39M869,177.5h36M938,177.5h39M1079,177.5h6M1112,177.5h57M1181,177.5h162M1358,177.5h12M1385,177.5h9M1421,177.5h18M1448,177.5h87M95,180.5h45M167,180.5h12M221,180.5h9M323,180.5h117M458,180.5h24M533,180.5h39M866,180.5h39M938,180.5h36M1064,180.5h9M1079,180.5h6M1115,180.5h63M1187,180.5h189M1379,180.5h9M1424,180.5h21M1448,180.5h3M1457,180.5h3M1472,180.5h66M83,183.5h57M170,183.5h6M224,183.5h9M329,183.5h114M473,183.5h12M530,183.5h39M845,183.5h12M863,183.5h42M947,183.5h27M1028,183.5h3M1058,183.5h18M1118,183.5h48M1190,183.5h138M1334,183.5h45M1415,183.5h123M83,186.5h57M155,186.5h9M227,186.5h3M332,186.5h129M479,186.5h9M527,186.5h42M839,186.5h18M866,186.5h42M941,186.5h30M1025,186.5h9M1052,186.5h24M1121,186.5h48M1172,186.5h6M1187,186.5h36M1229,186.5h150M1412,186.5h126M83,189.5h36M125,189.5h39M338,189.5h57M413,189.5h51M527,189.5h42M842,189.5h18M866,189.5h42M938,189.5h24M1049,189.5h15M1073,189.5h6M1115,189.5h111M1232,189.5h105M1340,189.5h36M1409,189.5h15M1430,189.5h15M1448,189.5h36M1493,189.5h45M80,192.5h36M125,192.5h30M344,192.5h51M419,192.5h42M530,192.5h27M563,192.5h6M845,192.5h60M941,192.5h27M1049,192.5h12M1112,192.5h33M1157,192.5h180M1346,192.5h30M1412,192.5h6M1436,192.5h24M1463,192.5h21M1493,192.5h45M80,195.5h36M122,195.5h33M272,195.5h6M326,195.5h6M344,195.5h54M419,195.5h42M542,195.5h15M839,195.5h66M947,195.5h24M1052,195.5h9M1112,195.5h33M1160,195.5h192M1361,195.5h3M1412,195.5h6M1433,195.5h30M1469,195.5h60M80,198.5h9M104,198.5h12M125,198.5h33M254,198.5h6M344,198.5h51M422,198.5h27M452,198.5h9M542,198.5h15M563,198.5h9M839,198.5h72M950,198.5h21M1112,198.5h39M1160,198.5h204M1406,198.5h12M1430,198.5h96M80,201.5h6M110,201.5h57M344,201.5h48M422,201.5h39M545,201.5h24M839,201.5h30M884,201.5h30M953,201.5h18M1112,201.5h3M1142,201.5h204M1403,201.5h18M1430,201.5h108M80,204.5h12M110,204.5h60M260,204.5h6M326,204.5h6M338,204.5h57M422,204.5h39M542,204.5h24M836,204.5h39M884,204.5h39M950,204.5h12M965,204.5h9M1001,204.5h6M1109,204.5h18M1139,204.5h69M1235,204.5h81M1331,204.5h6M1373,204.5h9M1400,204.5h24M1430,204.5h36M1469,204.5h33M1508,204.5h30M80,207.5h12M101,207.5h54M323,207.5h81M416,207.5h48M542,207.5h18M836,207.5h90M968,207.5h9M1001,207.5h15M1109,207.5h12M1130,207.5h48M1190,207.5h15M1220,207.5h60M1307,207.5h9M1397,207.5h141M80,210.5h81M323,210.5h81M416,210.5h54M542,210.5h15M797,210.5h9M836,210.5h93M968,210.5h24M1001,210.5h21M1130,210.5h78M1220,210.5h57M1394,210.5h72M1475,210.5h63M80,213.5h87M323,213.5h75M422,213.5h57M548,213.5h9M797,213.5h9M833,213.5h63M905,213.5h33M983,213.5h39M1136,213.5h135M1280,213.5h15M1385,213.5h63M1454,213.5h12M1478,213.5h60M80,216.5h36M122,216.5h21M155,216.5h9M191,216.5h3M323,216.5h72M434,216.5h24M464,216.5h18M551,216.5h6M794,216.5h6M833,216.5h96M1016,216.5h9M1136,216.5h60M1208,216.5h90M1379,216.5h66M1454,216.5h9M1478,216.5h60M80,219.5h6M95,219.5h18M125,219.5h27M161,219.5h3M323,219.5h75M440,219.5h18M470,219.5h18M548,219.5h9M830,219.5h12M851,219.5h75M1019,219.5h6M1142,219.5h18M1169,219.5h30M1202,219.5h81M1292,219.5h6M1376,219.5h42M1424,219.5h36M1478,219.5h60M80,222.5h6M98,222.5h30M137,222.5h9M164,222.5h3M323,222.5h21M350,222.5h48M440,222.5h51M545,222.5h21M800,222.5h9M830,222.5h30M866,222.5h21M890,222.5h39M1019,222.5h9M1142,222.5h15M1172,222.5h57M1238,222.5h24M1268,222.5h15M1289,222.5h9M1376,222.5h81M1478,222.5h60M80,225.5h9M101,225.5h36M164,225.5h18M326,225.5h69M455,225.5h30M539,225.5h27M833,225.5h24M866,225.5h18M893,225.5h24M920,225.5h15M1028,225.5h9M1139,225.5h27M1169,225.5h90M1274,225.5h24M1373,225.5h78M1481,225.5h57M80,228.5h9M98,228.5h42M161,228.5h21M224,228.5h12M329,228.5h69M455,228.5h27M539,228.5h24M785,228.5h6M833,228.5h21M866,228.5h18M896,228.5h39M1034,228.5h6M1139,228.5h63M1208,228.5h57M1271,228.5h33M1367,228.5h84M1478,228.5h60M80,231.5h69M161,231.5h18M224,231.5h12M335,231.5h66M455,231.5h27M512,231.5h3M530,231.5h30M782,231.5h12M833,231.5h21M869,231.5h9M896,231.5h12M911,231.5h24M1034,231.5h3M1145,231.5h147M1370,231.5h81M1475,231.5h63M80,234.5h72M164,234.5h9M347,234.5h57M458,234.5h24M509,234.5h3M524,234.5h45M785,234.5h9M839,234.5h12M866,234.5h6M893,234.5h12M914,234.5h18M1034,234.5h6M1148,234.5h12M1166,234.5h126M1370,234.5h57M1430,234.5h21M1475,234.5h51M80,237.5h78M161,237.5h15M230,237.5h6M239,237.5h12M359,237.5h45M461,237.5h18M509,237.5h63M839,237.5h15M899,237.5h24M1037,237.5h6M1058,237.5h18M1151,237.5h24M1178,237.5h33M1214,237.5h48M1268,237.5h18M1373,237.5h66M1448,237.5h21M1481,237.5h48M80,240.5h48M134,240.5h45M236,240.5h15M272,240.5h3M287,240.5h6M359,240.5h42M461,240.5h27M509,240.5h63M590,240.5h6M839,240.5h12M902,240.5h18M1040,240.5h39M1154,240.5h108M1265,240.5h15M1385,240.5h54M1454,240.5h9M1484,240.5h48M80,243.5h15M104,243.5h24M149,243.5h30M239,243.5h12M284,243.5h3M356,243.5h36M464,243.5h24M506,243.5h63M584,243.5h15M836,243.5h6M1043,243.5h30M1142,243.5h138M1355,243.5h90M1484,243.5h45M80,246.5h21M116,246.5h15M152,246.5h51M239,246.5h15M353,246.5h45M464,246.5h150M833,246.5h6M929,246.5h6M1043,246.5h30M1139,246.5h12M1157,246.5h60M1223,246.5h30M1349,246.5h99M1481,246.5h48M80,249.5h30M113,249.5h93M239,249.5h15M368,249.5h36M461,249.5h54M518,249.5h57M590,249.5h27M713,249.5h15M833,249.5h3M926,249.5h15M1043,249.5h30M1139,249.5h114M1346,249.5h24M1379,249.5h66M1481,249.5h57M80,252.5h123M212,252.5h3M356,252.5h48M416,252.5h3M479,252.5h36M524,252.5h24M593,252.5h6M605,252.5h15M707,252.5h27M833,252.5h6M917,252.5h33M1058,252.5h12M1139,252.5h114M1346,252.5h24M1382,252.5h24M1421,252.5h18M1481,252.5h57M80,255.5h69M152,255.5h51M359,255.5h45M416,255.5h9M497,255.5h6M614,255.5h6M704,255.5h9M722,255.5h15M833,255.5h6M872,255.5h3M911,255.5h45M1058,255.5h18M1139,255.5h120M1322,255.5h9M1346,255.5h60M1418,255.5h21M1484,255.5h54M80,258.5h102M197,258.5h6M362,258.5h42M419,258.5h9M617,258.5h6M704,258.5h9M719,258.5h15M833,258.5h6M908,258.5h69M1034,258.5h9M1061,258.5h15M1151,258.5h102M1319,258.5h15M1346,258.5h54M1403,258.5h39M1484,258.5h54M80,261.5h102M197,261.5h9M362,261.5h27M395,261.5h9M617,261.5h9M704,261.5h12M719,261.5h15M836,261.5h3M878,261.5h9M905,261.5h78M1031,261.5h15M1058,261.5h18M1148,261.5h102M1322,261.5h75M1409,261.5h24M1484,261.5h54M80,264.5h105M197,264.5h15M362,264.5h24M395,264.5h6M509,264.5h12M620,264.5h9M701,264.5h33M836,264.5h15M860,264.5h3M878,264.5h9M899,264.5h48M953,264.5h39M1025,264.5h24M1052,264.5h21M1139,264.5h81M1229,264.5h9M1244,264.5h9M1325,264.5h78M1415,264.5h9M1481,264.5h57M80,267.5h141M362,267.5h36M509,267.5h15M620,267.5h15M704,267.5h18M725,267.5h6M845,267.5h24M878,267.5h3M887,267.5h12M908,267.5h87M1025,267.5h48M1139,267.5h96M1247,267.5h6M1325,267.5h96M1430,267.5h12M1448,267.5h9M1475,267.5h63M80,270.5h117M203,270.5h21M362,270.5h36M515,270.5h9M623,270.5h27M710,270.5h12M725,270.5h6M869,270.5h12M911,270.5h81M1025,270.5h45M1151,270.5h78M1325,270.5h93M1427,270.5h30M1472,270.5h63M80,273.5h111M203,273.5h21M365,273.5h9M527,273.5h6M635,273.5h24M719,273.5h12M920,273.5h42M971,273.5h15M1034,273.5h30M1178,273.5h45M1325,273.5h84M1430,273.5h18M1472,273.5h66M86,276.5h24M125,276.5h24M155,276.5h36M206,276.5h18M530,276.5h3M650,276.5h9M932,276.5h30M968,276.5h15M1034,276.5h30M1184,276.5h33M1325,276.5h90M1433,276.5h21M1475,276.5h15M1502,276.5h36M86,279.5h24M119,279.5h81M215,279.5h12M653,279.5h6M704,279.5h3M935,279.5h48M1034,279.5h39M1187,279.5h18M1322,279.5h96M1436,279.5h18M1469,279.5h9M1490,279.5h6M1502,279.5h36M80,282.5h30M113,282.5h87M218,282.5h24M653,282.5h6M737,282.5h9M941,282.5h42M1037,282.5h42M1187,282.5h27M1319,282.5h96M1436,282.5h21M1472,282.5h9M1484,282.5h54M80,285.5h24M113,285.5h51M170,285.5h30M218,285.5h21M650,285.5h9M944,285.5h42M1043,285.5h39M1187,285.5h36M1271,285.5h6M1292,285.5h9M1313,285.5h78M1409,285.5h6M1451,285.5h9M1475,285.5h51M1535,285.5h3M80,288.5h72M170,288.5h30M218,288.5h24M650,288.5h9M950,288.5h45M1007,288.5h6M1043,288.5h42M1163,288.5h6M1187,288.5h33M1310,288.5h84M1412,288.5h6M1475,288.5h9M1490,288.5h36M1535,288.5h3M80,291.5h75M167,291.5h30M233,291.5h12M284,291.5h15M647,291.5h12M956,291.5h33M1007,291.5h6M1040,291.5h45M1187,291.5h30M1310,291.5h90M1472,291.5h9M1493,291.5h30M80,294.5h72M164,294.5h33M236,294.5h6M275,294.5h27M650,294.5h9M962,294.5h21M989,294.5h12M1007,294.5h9M1034,294.5h15M1055,294.5h30M1184,294.5h36M1307,294.5h93M1475,294.5h9M1493,294.5h33M80,297.5h72M167,297.5h30M239,297.5h3M275,297.5h12M293,297.5h12M653,297.5h9M968,297.5h33M1007,297.5h15M1034,297.5h51M1181,297.5h39M1307,297.5h93M1481,297.5h48M80,300.5h72M170,300.5h30M239,300.5h3M272,300.5h15M293,300.5h12M641,300.5h9M653,300.5h12M812,300.5h9M971,300.5h15M989,300.5h12M1007,300.5h36M1046,300.5h39M1181,300.5h39M1301,300.5h54M1361,300.5h12M1379,300.5h21M1484,300.5h51M80,303.5h36M119,303.5h36M173,303.5h24M239,303.5h6M272,303.5h15M296,303.5h9M644,303.5h27M812,303.5h12M974,303.5h12M1016,303.5h21M1049,303.5h36M1124,303.5h3M1181,303.5h39M1292,303.5h18M1322,303.5h33M1364,303.5h6M1379,303.5h15M1460,303.5h3M1475,303.5h24M1508,303.5h30M86,306.5h24M119,306.5h81M239,306.5h12M263,306.5h21M296,306.5h12M377,306.5h24M419,306.5h6M647,306.5h27M818,306.5h3M977,306.5h9M1070,306.5h15M1193,306.5h27M1289,306.5h24M1319,306.5h36M1361,306.5h24M1457,306.5h42M1505,306.5h33M95,309.5h18M116,309.5h84M233,309.5h45M302,309.5h12M362,309.5h18M398,309.5h6M416,309.5h18M623,309.5h6M647,309.5h30M977,309.5h9M1070,309.5h18M1190,309.5h33M1289,309.5h96M1463,309.5h33M1505,309.5h33M95,312.5h99M233,312.5h45M305,312.5h9M353,312.5h9M398,312.5h42M605,312.5h9M623,312.5h6M650,312.5h27M824,312.5h6M974,312.5h12M1031,312.5h12M1073,312.5h15M1190,312.5h33M1286,312.5h39M1334,312.5h51M1472,312.5h15M1514,312.5h24M83,315.5h45M140,315.5h51M248,315.5h27M296,315.5h18M344,315.5h9M413,315.5h9M437,315.5h21M473,315.5h9M590,315.5h6M599,315.5h30M653,315.5h24M824,315.5h6M974,315.5h21M1019,315.5h18M1073,315.5h15M1187,315.5h36M1250,315.5h12M1286,315.5h33M1334,315.5h42M1472,315.5h12M1514,315.5h24M80,318.5h45M143,318.5h15M164,318.5h27M245,318.5h27M293,318.5h21M332,318.5h9M452,318.5h6M476,318.5h3M527,318.5h12M587,318.5h27M620,318.5h6M653,318.5h24M908,318.5h6M974,318.5h27M1022,318.5h9M1076,318.5h21M1184,318.5h39M1250,318.5h18M1283,318.5h30M1325,318.5h48M1472,318.5h12M1490,318.5h48M80,321.5h45M143,321.5h15M167,321.5h24M248,321.5h18M293,321.5h21M323,321.5h9M455,321.5h6M524,321.5h15M590,321.5h12M605,321.5h6M653,321.5h24M833,321.5h9M908,321.5h6M977,321.5h21M1061,321.5h9M1076,321.5h24M1178,321.5h42M1253,321.5h18M1274,321.5h72M1355,321.5h18M1487,321.5h48M80,324.5h45M134,324.5h24M170,324.5h15M188,324.5h12M251,324.5h15M290,324.5h36M461,324.5h6M521,324.5h15M554,324.5h12M572,324.5h27M608,324.5h6M653,324.5h27M788,324.5h18M830,324.5h18M980,324.5h18M1067,324.5h45M1163,324.5h57M1238,324.5h111M1352,324.5h27M1487,324.5h51M80,327.5h42M131,327.5h24M173,327.5h30M287,327.5h27M467,327.5h9M518,327.5h15M554,327.5h45M611,327.5h6M623,327.5h9M650,327.5h30M785,327.5h24M824,327.5h27M980,327.5h21M1016,327.5h3M1070,327.5h36M1160,327.5h60M1226,327.5h3M1241,327.5h78M1325,327.5h66M1436,327.5h3M1487,327.5h51M80,330.5h39M131,330.5h24M167,330.5h33M305,330.5h3M467,330.5h9M503,330.5h6M518,330.5h12M551,330.5h6M593,330.5h3M614,330.5h21M641,330.5h15M665,330.5h15M779,330.5h27M824,330.5h30M980,330.5h27M1013,330.5h9M1052,330.5h6M1073,330.5h33M1175,330.5h57M1244,330.5h150M1490,330.5h48M80,333.5h75M167,333.5h24M467,333.5h6M503,333.5h27M542,333.5h12M593,333.5h3M614,333.5h63M773,333.5h24M824,333.5h33M983,333.5h24M1016,333.5h9M1058,333.5h24M1091,333.5h15M1181,333.5h51M1238,333.5h93M1337,333.5h39M1388,333.5h6M1496,333.5h42M80,336.5h75M167,336.5h21M467,336.5h3M500,336.5h51M593,336.5h3M611,336.5h66M704,336.5h6M773,336.5h27M824,336.5h42M986,336.5h24M1016,336.5h12M1061,336.5h48M1181,336.5h57M1253,336.5h117M1394,336.5h9M1412,336.5h12M1496,336.5h42M80,339.5h75M164,339.5h27M278,339.5h6M467,339.5h6M491,339.5h54M593,339.5h3M626,339.5h9M644,339.5h33M707,339.5h3M773,339.5h81M857,339.5h12M986,339.5h30M1061,339.5h51M1181,339.5h54M1262,339.5h81M1352,339.5h12M1394,339.5h9M1412,339.5h9M1496,339.5h42M80,342.5h126M275,342.5h12M470,342.5h6M488,342.5h54M590,342.5h6M626,342.5h9M650,342.5h36M773,342.5h63M848,342.5h6M860,342.5h15M965,342.5h3M992,342.5h33M1058,342.5h48M1178,342.5h57M1262,342.5h51M1322,342.5h21M1352,342.5h6M1397,342.5h3M1412,342.5h9M1508,342.5h30M80,345.5h123M272,345.5h12M470,345.5h63M590,345.5h3M623,345.5h15M647,345.5h42M773,345.5h45M851,345.5h3M869,345.5h15M962,345.5h3M992,345.5h36M1052,345.5h51M1175,345.5h66M1256,345.5h54M1325,345.5h36M1406,345.5h15M1490,345.5h9M1508,345.5h12M1529,345.5h9M80,348.5h114M275,348.5h6M470,348.5h57M590,348.5h3M638,348.5h69M773,348.5h33M878,348.5h15M962,348.5h3M992,348.5h12M1007,348.5h27M1052,348.5h51M1178,348.5h12M1199,348.5h42M1253,348.5h63M1325,348.5h18M1349,348.5h9M1487,348.5h33M1529,348.5h9M80,351.5h114M470,351.5h54M590,351.5h6M638,351.5h99M779,351.5h24M833,351.5h9M878,351.5h3M992,351.5h27M1025,351.5h9M1046,351.5h54M1178,351.5h21M1202,351.5h42M1256,351.5h9M1271,351.5h24M1304,351.5h39M1379,351.5h12M1487,351.5h51M80,354.5h114M467,354.5h51M590,354.5h6M653,354.5h45M704,354.5h30M752,354.5h6M764,354.5h9M782,354.5h15M893,354.5h3M995,354.5h18M1022,354.5h78M1181,354.5h39M1223,354.5h21M1259,354.5h30M1301,354.5h45M1376,354.5h27M1487,354.5h51M80,357.5h18M101,357.5h93M467,357.5h48M590,357.5h6M665,357.5h66M770,357.5h18M893,357.5h12M995,357.5h15M1022,357.5h84M1181,357.5h15M1205,357.5h45M1253,357.5h27M1304,357.5h42M1487,357.5h48M80,360.5h114M464,360.5h48M590,360.5h6M674,360.5h3M686,360.5h39M770,360.5h15M890,360.5h18M995,360.5h6M1007,360.5h3M1022,360.5h78M1181,360.5h15M1208,360.5h36M1250,360.5h3M1259,360.5h6M1274,360.5h12M1307,360.5h9M1322,360.5h21M1484,360.5h21M1517,360.5h18M80,363.5h54M137,363.5h33M173,363.5h15M458,363.5h54M557,363.5h6M590,363.5h3M686,363.5h36M770,363.5h9M881,363.5h9M902,363.5h3M998,363.5h15M1022,363.5h81M1178,363.5h21M1202,363.5h42M1274,363.5h12M1307,363.5h3M1319,363.5h24M1484,363.5h18M1517,363.5h21M80,366.5h51M137,366.5h30M455,366.5h36M500,366.5h9M560,366.5h3M590,366.5h6M677,366.5h42M767,366.5h9M881,366.5h6M995,366.5h36M1034,366.5h72M1178,366.5h72M1268,366.5h15M1301,366.5h12M1319,366.5h21M1427,366.5h6M1487,366.5h15M1517,366.5h21M92,369.5h27M140,369.5h3M452,369.5h42M497,369.5h6M590,369.5h6M677,369.5h39M770,369.5h6M881,369.5h6M995,369.5h36M1040,369.5h21M1064,369.5h18M1094,369.5h12M1178,369.5h48M1238,369.5h12M1286,369.5h48M1481,369.5h24M1520,369.5h18M110,372.5h6M452,372.5h48M578,372.5h6M590,372.5h6M677,372.5h39M770,372.5h9M878,372.5h9M995,372.5h33M1043,372.5h12M1064,372.5h15M1091,372.5h21M1178,372.5h21M1211,372.5h3M1235,372.5h12M1286,372.5h45M1481,372.5h27M1526,372.5h12M149,375.5h3M437,375.5h63M590,375.5h9M677,375.5h6M689,375.5h27M770,375.5h9M860,375.5h18M995,375.5h30M1046,375.5h36M1091,375.5h9M1181,375.5h15M1208,375.5h9M1235,375.5h9M1286,375.5h27M1481,375.5h39M1535,375.5h3M437,378.5h57M590,378.5h9M677,378.5h42M773,378.5h9M851,378.5h24M995,378.5h27M1052,378.5h27M1091,378.5h9M1184,378.5h12M1235,378.5h9M1295,378.5h21M1481,378.5h42M437,381.5h48M587,381.5h12M623,381.5h9M677,381.5h45M776,381.5h6M839,381.5h21M872,381.5h3M893,381.5h3M992,381.5h21M1052,381.5h48M1130,381.5h3M1238,381.5h6M1295,381.5h21M1484,381.5h42M401,384.5h3M431,384.5h51M587,384.5h15M623,384.5h9M680,384.5h45M779,384.5h15M836,384.5h21M872,384.5h6M896,384.5h3M989,384.5h24M1052,384.5h6M1061,384.5h33M1238,384.5h6M1289,384.5h27M1493,384.5h45M425,387.5h27M464,387.5h9M587,387.5h15M626,387.5h6M683,387.5h39M788,387.5h24M833,387.5h9M857,387.5h3M875,387.5h3M896,387.5h3M989,387.5h21M1067,387.5h21M1235,387.5h9M1292,387.5h12M1307,387.5h12M1496,387.5h42M422,390.5h30M458,390.5h12M587,390.5h18M680,390.5h42M794,390.5h45M875,390.5h6M896,390.5h3M986,390.5h21M1040,390.5h15M1064,390.5h24M1127,390.5h6M1193,390.5h6M1238,390.5h9M1295,390.5h6M1313,390.5h9M1394,390.5h6M1493,390.5h45M344,393.5h3M386,393.5h3M446,393.5h9M599,393.5h6M677,393.5h45M770,393.5h3M803,393.5h33M872,393.5h6M896,393.5h3M983,393.5h21M1043,393.5h42M1130,393.5h9M1187,393.5h12M1238,393.5h12M1295,393.5h9M1487,393.5h51M320,396.5h9M341,396.5h15M377,396.5h15M599,396.5h6M629,396.5h3M671,396.5h57M806,396.5h21M875,396.5h6M893,396.5h6M983,396.5h15M1046,396.5h36M1133,396.5h3M1184,396.5h15M1232,396.5h21M1298,396.5h9M1487,396.5h51M317,399.5h12M338,399.5h18M368,399.5h27M527,399.5h3M584,399.5h18M629,399.5h6M668,399.5h60M749,399.5h9M776,399.5h9M806,399.5h15M878,399.5h6M890,399.5h6M986,399.5h9M1046,399.5h30M1181,399.5h18M1229,399.5h21M1298,399.5h6M1487,399.5h51M323,402.5h3M338,402.5h6M350,402.5h30M392,402.5h6M524,402.5h6M581,402.5h21M629,402.5h9M671,402.5h60M746,402.5h18M767,402.5h12M791,402.5h12M884,402.5h9M989,402.5h6M1055,402.5h24M1184,402.5h12M1229,402.5h18M1295,402.5h12M1322,402.5h3M1481,402.5h57M335,405.5h6M353,405.5h27M392,405.5h6M581,405.5h18M629,405.5h3M635,405.5h3M668,405.5h42M728,405.5h48M791,405.5h12M941,405.5h6M983,405.5h12M1013,405.5h3M1058,405.5h21M1187,405.5h15M1244,405.5h6M1295,405.5h12M1316,405.5h9M1484,405.5h54M89,408.5h12M272,408.5h27M308,408.5h9M332,408.5h9M359,408.5h39M575,408.5h27M632,408.5h3M638,408.5h3M662,408.5h63M737,408.5h36M791,408.5h6M938,408.5h3M980,408.5h18M1007,408.5h9M1058,408.5h24M1175,408.5h6M1193,408.5h9M1247,408.5h9M1295,408.5h12M1316,408.5h9M1382,408.5h6M1487,408.5h51M89,411.5h12M233,411.5h87M332,411.5h9M356,411.5h42M572,411.5h30M632,411.5h9M659,411.5h114M935,411.5h3M974,411.5h42M1073,411.5h12M1172,411.5h12M1247,411.5h24M1295,411.5h15M1385,411.5h6M1484,411.5h30M1520,411.5h12M86,414.5h15M218,414.5h3M233,414.5h168M575,414.5h30M635,414.5h9M662,414.5h27M695,414.5h36M740,414.5h21M764,414.5h6M971,414.5h42M1073,414.5h12M1175,414.5h21M1247,414.5h24M1292,414.5h21M1472,414.5h60M80,417.5h24M215,417.5h33M260,417.5h21M287,417.5h114M575,417.5h30M638,417.5h6M659,417.5h72M740,417.5h3M749,417.5h9M968,417.5h42M1073,417.5h12M1178,417.5h27M1250,417.5h27M1286,417.5h24M1469,417.5h39M1511,417.5h27M101,420.5h3M215,420.5h27M263,420.5h15M284,420.5h123M575,420.5h30M638,420.5h6M656,420.5h48M728,420.5h3M740,420.5h3M752,420.5h6M884,420.5h15M932,420.5h3M956,420.5h24M995,420.5h9M1073,420.5h9M1181,420.5h24M1256,420.5h24M1283,420.5h24M1361,420.5h6M1472,420.5h33M1511,420.5h9M1529,420.5h9M194,423.5h3M215,423.5h21M257,423.5h18M278,423.5h129M575,423.5h27M638,423.5h9M656,423.5h33M695,423.5h6M725,423.5h6M740,423.5h3M746,423.5h12M887,423.5h15M956,423.5h15M995,423.5h9M1076,423.5h6M1187,423.5h15M1256,423.5h6M1283,423.5h12M1358,423.5h18M1475,423.5h21M1505,423.5h18M1532,423.5h6M188,426.5h39M284,426.5h114M578,426.5h24M638,426.5h9M653,426.5h57M719,426.5h15M743,426.5h15M896,426.5h9M959,426.5h12M995,426.5h6M1076,426.5h9M1256,426.5h36M1358,426.5h21M1454,426.5h6M1472,426.5h24M1502,426.5h24M1532,426.5h6M182,429.5h36M290,429.5h9M308,429.5h84M542,429.5h3M578,429.5h24M641,429.5h6M653,429.5h81M743,429.5h12M956,429.5h15M983,429.5h6M1079,429.5h6M1256,429.5h36M1451,429.5h72M1529,429.5h9M179,432.5h27M305,432.5h36M359,432.5h27M575,432.5h24M641,432.5h9M653,432.5h90M953,432.5h15M980,432.5h9M1079,432.5h6M1172,432.5h12M1256,432.5h39M1445,432.5h9M1457,432.5h12M1478,432.5h24M1505,432.5h33M179,435.5h27M215,435.5h12M305,435.5h36M356,435.5h27M464,435.5h3M482,435.5h21M524,435.5h15M545,435.5h12M569,435.5h30M644,435.5h18M671,435.5h60M890,435.5h6M905,435.5h6M941,435.5h24M1079,435.5h9M1175,435.5h9M1256,435.5h39M1466,435.5h21M1490,435.5h12M1508,435.5h30M182,438.5h27M212,438.5h12M302,438.5h18M335,438.5h12M356,438.5h27M446,438.5h153M644,438.5h15M671,438.5h57M884,438.5h33M944,438.5h3M953,438.5h9M1079,438.5h9M1259,438.5h39M1469,438.5h69M80,441.5h3M182,441.5h39M290,441.5h6M302,441.5h30M353,441.5h30M407,441.5h6M440,441.5h39M494,441.5h108M644,441.5h84M734,441.5h6M884,441.5h36M953,441.5h9M977,441.5h3M992,441.5h9M1079,441.5h9M1271,441.5h27M1475,441.5h30M185,444.5h15M212,444.5h24M287,444.5h45M350,444.5h21M377,444.5h6M407,444.5h6M437,444.5h24M497,444.5h42M548,444.5h54M653,444.5h90M884,444.5h6M899,444.5h33M953,444.5h9M986,444.5h12M1082,444.5h9M1271,444.5h15M1472,444.5h39M185,447.5h12M218,447.5h18M266,447.5h48M326,447.5h9M341,447.5h18M389,447.5h6M437,447.5h24M500,447.5h24M536,447.5h69M653,447.5h87M758,447.5h3M884,447.5h6M905,447.5h33M956,447.5h9M983,447.5h15M1079,447.5h21M1274,447.5h12M1469,447.5h18M1505,447.5h33M185,450.5h18M218,450.5h18M260,450.5h39M302,450.5h3M329,450.5h27M389,450.5h3M425,450.5h36M500,450.5h27M536,450.5h15M566,450.5h39M647,450.5h90M755,450.5h9M887,450.5h6M908,450.5h6M917,450.5h24M956,450.5h12M983,450.5h15M1073,450.5h30M1511,450.5h12M185,453.5h48M251,453.5h33M305,453.5h3M314,453.5h9M413,453.5h27M452,453.5h6M506,453.5h24M536,453.5h12M563,453.5h9M575,453.5h30M644,453.5h90M755,453.5h6M890,453.5h6M911,453.5h9M929,453.5h12M956,453.5h15M980,453.5h9M1058,453.5h45M1202,453.5h15M1289,453.5h9M1355,453.5h3M185,456.5h45M239,456.5h39M311,456.5h12M404,456.5h27M506,456.5h39M560,456.5h15M584,456.5h27M644,456.5h9M659,456.5h48M710,456.5h18M752,456.5h12M779,456.5h3M896,456.5h3M917,456.5h27M956,456.5h18M977,456.5h9M998,456.5h12M1019,456.5h9M1052,456.5h51M1202,456.5h18M1286,456.5h15M1307,456.5h12M1340,456.5h30M1490,456.5h6M194,459.5h39M236,459.5h30M401,459.5h18M488,459.5h3M506,459.5h93M605,459.5h12M629,459.5h21M662,459.5h36M716,459.5h9M899,459.5h6M920,459.5h24M956,459.5h36M1001,459.5h99M1205,459.5h12M1286,459.5h9M1307,459.5h12M1334,459.5h24M1364,459.5h6M1460,459.5h9M1481,459.5h18M1532,459.5h6M209,462.5h33M257,462.5h3M329,462.5h3M392,462.5h24M470,462.5h3M506,462.5h12M542,462.5h24M569,462.5h27M608,462.5h39M665,462.5h36M713,462.5h12M902,462.5h3M920,462.5h30M956,462.5h3M965,462.5h15M986,462.5h66M1079,462.5h18M1208,462.5h18M1283,462.5h12M1304,462.5h15M1334,462.5h24M1463,462.5h12M1490,462.5h21M1526,462.5h12M230,465.5h6M329,465.5h6M389,465.5h9M410,465.5h3M425,465.5h9M458,465.5h24M506,465.5h12M554,465.5h36M608,465.5h9M662,465.5h60M905,465.5h21M929,465.5h12M959,465.5h3M971,465.5h12M989,465.5h42M1037,465.5h12M1082,465.5h15M1133,465.5h9M1208,465.5h18M1277,465.5h42M1349,465.5h12M1466,465.5h18M1505,465.5h3M1526,465.5h12M383,468.5h15M410,468.5h9M425,468.5h6M461,468.5h30M509,468.5h12M551,468.5h21M650,468.5h75M908,468.5h15M935,468.5h9M977,468.5h6M989,468.5h24M1016,468.5h6M1037,468.5h12M1085,468.5h12M1133,468.5h12M1211,468.5h9M1280,468.5h45M1352,468.5h9M1475,468.5h12M1526,468.5h3M224,471.5h6M380,471.5h9M392,471.5h3M407,471.5h15M443,471.5h6M512,471.5h9M536,471.5h12M551,471.5h12M647,471.5h33M686,471.5h42M911,471.5h9M941,471.5h9M980,471.5h21M1040,471.5h9M1085,471.5h15M1283,471.5h6M1295,471.5h42M1481,471.5h6M1511,471.5h6M380,474.5h6M410,474.5h9M425,474.5h27M533,474.5h12M551,474.5h12M617,474.5h3M647,474.5h6M668,474.5h12M695,474.5h36M914,474.5h9M947,474.5h21M983,474.5h15M1040,474.5h9M1088,474.5h18M1283,474.5h3M1307,474.5h18M1331,474.5h18M1511,474.5h9M362,477.5h21M419,477.5h30M533,477.5h24M617,477.5h3M647,477.5h6M671,477.5h12M707,477.5h21M917,477.5h9M953,477.5h18M983,477.5h15M1037,477.5h9M1097,477.5h9M1283,477.5h3M1328,477.5h24M1487,477.5h12M356,480.5h27M413,480.5h33M536,480.5h21M647,480.5h6M671,480.5h27M716,480.5h12M920,480.5h6M953,480.5h18M989,480.5h9M1028,480.5h18M1088,480.5h15M1280,480.5h3M1304,480.5h9M1322,480.5h33M1448,480.5h6M1478,480.5h18M128,483.5h12M356,483.5h27M395,483.5h27M443,483.5h6M545,483.5h9M647,483.5h6M662,483.5h9M674,483.5h30M716,483.5h15M923,483.5h9M953,483.5h15M992,483.5h9M1034,483.5h12M1082,483.5h18M1133,483.5h12M1280,483.5h3M1307,483.5h57M1391,483.5h6M1478,483.5h15M131,486.5h6M347,486.5h72M446,486.5h9M542,486.5h9M647,486.5h21M674,486.5h9M692,486.5h21M722,486.5h12M929,486.5h6M959,486.5h9M995,486.5h6M1037,486.5h9M1079,486.5h21M1133,486.5h15M1196,486.5h6M1280,486.5h3M1307,486.5h36M1358,486.5h9M1475,486.5h12M1523,486.5h9M344,489.5h66M449,489.5h6M536,489.5h12M644,489.5h33M689,489.5h24M722,489.5h12M932,489.5h3M962,489.5h6M995,489.5h6M1016,489.5h9M1034,489.5h9M1085,489.5h12M1133,489.5h18M1175,489.5h6M1193,489.5h12M1280,489.5h3M1310,489.5h9M1328,489.5h18M1358,489.5h15M1475,489.5h9M1517,489.5h21M344,492.5h63M449,492.5h6M521,492.5h33M614,492.5h3M650,492.5h24M689,492.5h27M725,492.5h15M938,492.5h6M956,492.5h9M998,492.5h45M1088,492.5h9M1163,492.5h12M1277,492.5h6M1340,492.5h33M1454,492.5h27M1532,492.5h6M347,495.5h60M446,495.5h9M509,495.5h54M632,495.5h9M653,495.5h18M695,495.5h12M731,495.5h15M890,495.5h12M950,495.5h9M1004,495.5h30M1163,495.5h9M1277,495.5h3M1343,495.5h12M1358,495.5h21M1451,495.5h42M347,498.5h60M437,498.5h12M503,498.5h60M587,498.5h9M626,498.5h18M647,498.5h27M893,498.5h15M917,498.5h15M1007,498.5h18M1277,498.5h3M1343,498.5h6M1358,498.5h33M1445,498.5h15M1463,498.5h12M344,501.5h63M437,501.5h6M455,501.5h9M488,501.5h75M587,501.5h6M614,501.5h60M896,501.5h18M923,501.5h15M1277,501.5h3M1337,501.5h54M1445,501.5h30M344,504.5h63M452,504.5h15M485,504.5h105M608,504.5h60M752,504.5h12M869,504.5h12M896,504.5h3M1103,504.5h3M1274,504.5h6M1337,504.5h54M1445,504.5h30M347,507.5h54M488,507.5h21M521,507.5h12M557,507.5h9M584,507.5h42M635,507.5h27M752,507.5h12M875,507.5h9M1088,507.5h9M1100,507.5h6M1268,507.5h9M1349,507.5h21M1376,507.5h18M1442,507.5h12M1460,507.5h18M104,510.5h6M347,510.5h24M377,510.5h21M521,510.5h9M596,510.5h3M611,510.5h12M635,510.5h12M758,510.5h6M875,510.5h9M1088,510.5h6M1235,510.5h15M1262,510.5h12M1325,510.5h6M1364,510.5h6M1379,510.5h18M1439,510.5h12M1463,510.5h12M350,513.5h39M521,513.5h6M635,513.5h9M878,513.5h6M1085,513.5h6M1223,513.5h45M1355,513.5h15M1379,513.5h18M1439,513.5h9M1463,513.5h6M110,516.5h21M344,516.5h39M623,516.5h21M1223,516.5h12M1352,516.5h18M1376,516.5h18M107,519.5h27M341,519.5h21M371,519.5h9M623,519.5h21M1226,519.5h9M1337,519.5h3M1355,519.5h36M1433,519.5h6M104,522.5h27M332,522.5h27M374,522.5h3M626,522.5h15M770,522.5h3M1220,522.5h15M1355,522.5h33M1409,522.5h3M1427,522.5h12M104,525.5h30M323,525.5h33M629,525.5h21M695,525.5h12M767,525.5h15M785,525.5h6M1100,525.5h9M1220,525.5h9M1250,525.5h3M1274,525.5h3M1352,525.5h36M1409,525.5h6M107,528.5h30M314,528.5h12M641,528.5h99M764,528.5h27M1100,528.5h12M1130,528.5h3M1217,528.5h27M1268,528.5h6M1349,528.5h9M1364,528.5h21M110,531.5h30M305,531.5h9M647,531.5h96M761,531.5h27M1109,531.5h3M1124,531.5h15M1214,531.5h33M1265,531.5h6M1349,531.5h6M1370,531.5h6M110,534.5h33M299,534.5h9M689,534.5h33M725,534.5h45M773,534.5h18M893,534.5h9M1001,534.5h24M1031,534.5h6M1127,534.5h12M1211,534.5h42M1349,534.5h6M116,537.5h24M290,537.5h12M746,537.5h21M782,537.5h9M872,537.5h27M983,537.5h24M1010,537.5h36M1106,537.5h9M1229,537.5h24M1346,537.5h6M1391,537.5h12M1496,537.5h3M116,540.5h24M284,540.5h15M752,540.5h12M779,540.5h9M866,540.5h27M980,540.5h24M1016,540.5h9M1040,540.5h15M1058,540.5h18M1106,540.5h12M1229,540.5h30M1343,540.5h6M1391,540.5h6M1493,540.5h24M110,543.5h33M287,543.5h12M782,543.5h6M836,543.5h6M869,543.5h30M977,543.5h30M1019,543.5h6M1040,543.5h36M1106,543.5h12M1127,543.5h3M1238,543.5h24M1343,543.5h6M1499,543.5h18M98,546.5h48M293,546.5h9M698,546.5h3M782,546.5h24M836,546.5h6M866,546.5h45M974,546.5h21M1001,546.5h72M1106,546.5h24M1139,546.5h9M1247,546.5h15M1334,546.5h9M1502,546.5h12M92,549.5h54M155,549.5h12M299,549.5h9M644,549.5h12M782,549.5h45M836,549.5h6M854,549.5h63M968,549.5h12M989,549.5h9M1001,549.5h42M1055,549.5h15M1103,549.5h27M1142,549.5h3M1247,549.5h18M1301,549.5h6M1328,549.5h12M1499,549.5h15M89,552.5h57M155,552.5h21M302,552.5h9M419,552.5h6M641,552.5h15M788,552.5h60M851,552.5h72M956,552.5h21M989,552.5h51M1064,552.5h9M1103,552.5h3M1112,552.5h3M1118,552.5h12M1196,552.5h18M1253,552.5h30M1298,552.5h12M1322,552.5h15M1499,552.5h15M89,555.5h54M155,555.5h30M191,555.5h9M308,555.5h6M395,555.5h6M422,555.5h3M638,555.5h15M812,555.5h117M950,555.5h18M995,555.5h18M1022,555.5h15M1067,555.5h12M1103,555.5h3M1112,555.5h3M1199,555.5h27M1256,555.5h12M1283,555.5h12M1298,555.5h30M1502,555.5h15M89,558.5h51M155,558.5h33M314,558.5h9M821,558.5h9M842,558.5h15M869,558.5h81M998,558.5h12M1076,558.5h6M1103,558.5h3M1112,558.5h3M1202,558.5h24M1292,558.5h12M1505,558.5h15M89,561.5h21M116,561.5h72M317,561.5h9M629,561.5h12M653,561.5h3M836,561.5h105M1076,561.5h6M1112,561.5h3M1202,561.5h18M1511,561.5h15M92,564.5h15M125,564.5h78M287,564.5h15M317,564.5h9M431,564.5h9M587,564.5h18M614,564.5h48M836,564.5h102M1076,564.5h6M1091,564.5h3M1208,564.5h12M1409,564.5h30M1514,564.5h9M92,567.5h12M119,567.5h84M296,567.5h6M320,567.5h12M428,567.5h9M578,567.5h87M839,567.5h72M917,567.5h30M1076,567.5h6M1217,567.5h9M1406,567.5h12M1424,567.5h21M95,570.5h9M110,570.5h21M134,570.5h9M149,570.5h21M176,570.5h9M191,570.5h6M302,570.5h3M326,570.5h18M359,570.5h6M419,570.5h18M569,570.5h99M839,570.5h72M917,570.5h27M1076,570.5h6M1217,570.5h9M1409,570.5h9M1430,570.5h27M95,573.5h51M158,573.5h9M179,573.5h18M329,573.5h39M419,573.5h21M563,573.5h99M836,573.5h39M881,573.5h63M1079,573.5h3M1409,573.5h12M1424,573.5h39M98,576.5h18M125,576.5h24M164,576.5h3M176,576.5h24M335,576.5h45M401,576.5h24M437,576.5h6M560,576.5h99M827,576.5h51M884,576.5h24M914,576.5h27M1082,576.5h3M1412,576.5h54M134,579.5h66M281,579.5h3M329,579.5h57M401,579.5h24M560,579.5h117M776,579.5h3M824,579.5h54M881,579.5h27M917,579.5h24M1082,579.5h3M1421,579.5h48M143,582.5h48M260,582.5h6M278,582.5h24M329,582.5h66M401,582.5h33M560,582.5h24M590,582.5h87M776,582.5h6M824,582.5h45M875,582.5h33M923,582.5h18M1079,582.5h6M1145,582.5h6M1427,582.5h60M152,585.5h39M224,585.5h9M257,585.5h9M284,585.5h21M323,585.5h93M425,585.5h27M476,585.5h9M560,585.5h84M650,585.5h12M671,585.5h9M821,585.5h42M878,585.5h9M896,585.5h45M1079,585.5h6M1142,585.5h15M1442,585.5h54M176,588.5h18M284,588.5h18M317,588.5h99M428,588.5h30M467,588.5h24M563,588.5h24M602,588.5h63M668,588.5h12M806,588.5h6M821,588.5h15M842,588.5h18M908,588.5h60M1079,588.5h6M1148,588.5h9M1280,588.5h6M1445,588.5h36M1487,588.5h12M239,591.5h69M314,591.5h45M365,591.5h12M386,591.5h9M404,591.5h12M422,591.5h51M479,591.5h45M542,591.5h6M563,591.5h15M599,591.5h78M809,591.5h3M818,591.5h12M848,591.5h9M911,591.5h63M1079,591.5h9M1100,591.5h9M1448,591.5h36M1487,591.5h12M239,594.5h117M407,594.5h21M431,594.5h36M476,594.5h12M491,594.5h39M539,594.5h15M557,594.5h24M596,594.5h78M806,594.5h24M839,594.5h15M908,594.5h15M932,594.5h18M965,594.5h15M1079,594.5h6M1382,594.5h6M1448,594.5h48M239,597.5h54M296,597.5h60M404,597.5h15M434,597.5h36M479,597.5h6M515,597.5h66M596,597.5h66M665,597.5h9M803,597.5h54M977,597.5h12M1079,597.5h6M1376,597.5h24M1448,597.5h9M1469,597.5h24M239,600.5h117M437,600.5h3M461,600.5h9M533,600.5h141M800,600.5h54M983,600.5h6M1076,600.5h6M1217,600.5h12M1316,600.5h3M1373,600.5h21M1400,600.5h3M1472,600.5h3M227,603.5h72M305,603.5h57M377,603.5h9M464,603.5h6M485,603.5h6M542,603.5h129M797,603.5h57M983,603.5h6M1001,603.5h15M1076,603.5h6M1124,603.5h3M1133,603.5h9M1184,603.5h9M1214,603.5h18M1295,603.5h24M1373,603.5h21M1403,603.5h6M227,606.5h72M308,606.5h57M374,606.5h15M467,606.5h9M482,606.5h9M572,606.5h3M584,606.5h78M794,606.5h12M812,606.5h36M986,606.5h33M1043,606.5h15M1076,606.5h12M1124,606.5h3M1130,606.5h18M1211,606.5h12M1229,606.5h9M1280,606.5h45M1379,606.5h33M1493,606.5h6M227,609.5h138M374,609.5h12M470,609.5h27M587,609.5h12M605,609.5h51M788,609.5h66M986,609.5h39M1031,609.5h57M1133,609.5h18M1226,609.5h15M1265,609.5h6M1277,609.5h54M1379,609.5h36M1484,609.5h21M257,612.5h78M350,612.5h15M374,612.5h3M470,612.5h36M515,612.5h6M557,612.5h3M590,612.5h69M788,612.5h66M989,612.5h78M1133,612.5h42M1232,612.5h3M1277,612.5h54M1379,612.5h36M1490,612.5h15M263,615.5h36M317,615.5h18M353,615.5h21M491,615.5h30M551,615.5h6M602,615.5h60M788,615.5h57M995,615.5h75M1103,615.5h15M1130,615.5h45M1277,615.5h60M1376,615.5h33M245,618.5h12M269,618.5h30M326,618.5h21M350,618.5h27M494,618.5h12M518,618.5h9M536,618.5h3M548,618.5h12M602,618.5h15M626,618.5h48M791,618.5h51M998,618.5h75M1097,618.5h21M1133,618.5h45M1277,618.5h60M1376,618.5h24M239,621.5h15M269,621.5h111M497,621.5h6M524,621.5h12M599,621.5h81M764,621.5h9M791,621.5h36M830,621.5h12M998,621.5h63M1064,621.5h12M1094,621.5h27M1133,621.5h48M1220,621.5h6M1280,621.5h57M1376,621.5h30M239,624.5h9M266,624.5h114M428,624.5h3M527,624.5h9M569,624.5h9M593,624.5h57M656,624.5h33M719,624.5h12M764,624.5h12M797,624.5h42M977,624.5h15M998,624.5h63M1067,624.5h12M1091,624.5h30M1130,624.5h51M1289,624.5h27M1322,624.5h12M1376,624.5h15M1397,624.5h12M80,627.5h9M239,627.5h9M260,627.5h24M290,627.5h87M404,627.5h6M422,627.5h18M527,627.5h12M563,627.5h12M593,627.5h54M653,627.5h42M773,627.5h6M797,627.5h42M977,627.5h84M1064,627.5h12M1094,627.5h24M1127,627.5h51M1286,627.5h30M1349,627.5h3M1358,627.5h33M1400,627.5h6M80,630.5h30M257,630.5h30M296,630.5h78M404,630.5h39M527,630.5h45M596,630.5h6M614,630.5h36M653,630.5h48M773,630.5h9M809,630.5h51M974,630.5h81M1067,630.5h6M1106,630.5h6M1130,630.5h6M1142,630.5h33M1259,630.5h3M1277,630.5h33M1331,630.5h3M1349,630.5h9M1370,630.5h24M1400,630.5h3M86,633.5h24M257,633.5h36M296,633.5h78M377,633.5h15M407,633.5h33M455,633.5h3M548,633.5h9M599,633.5h21M626,633.5h15M659,633.5h3M689,633.5h15M812,633.5h36M995,633.5h60M1067,633.5h9M1130,633.5h42M1250,633.5h15M1289,633.5h12M1331,633.5h9M1346,633.5h3M1364,633.5h42M80,636.5h33M254,636.5h12M272,636.5h21M302,636.5h78M392,636.5h3M410,636.5h27M536,636.5h24M611,636.5h6M629,636.5h12M686,636.5h24M800,636.5h45M881,636.5h3M1004,636.5h51M1064,636.5h27M1112,636.5h60M1235,636.5h18M1259,636.5h3M1289,636.5h12M1331,636.5h21M1358,636.5h18M1385,636.5h6M1394,636.5h12M80,639.5h30M236,639.5h30M272,639.5h54M332,639.5h45M395,639.5h6M404,639.5h15M431,639.5h3M533,639.5h21M560,639.5h12M581,639.5h18M629,639.5h12M683,639.5h45M773,639.5h6M794,639.5h51M875,639.5h27M1019,639.5h39M1061,639.5h12M1085,639.5h6M1112,639.5h63M1232,639.5h18M1286,639.5h15M1328,639.5h51M1382,639.5h6M1394,639.5h6M1439,639.5h6M80,642.5h27M245,642.5h18M275,642.5h66M344,642.5h15M371,642.5h9M401,642.5h12M530,642.5h24M566,642.5h18M596,642.5h42M677,642.5h54M767,642.5h48M821,642.5h21M878,642.5h15M1022,642.5h39M1106,642.5h66M1232,642.5h15M1277,642.5h15M1298,642.5h6M1328,642.5h12M1346,642.5h48M80,645.5h30M245,645.5h15M275,645.5h48M326,645.5h30M371,645.5h9M404,645.5h3M530,645.5h9M563,645.5h6M620,645.5h30M698,645.5h30M761,645.5h27M800,645.5h42M1028,645.5h18M1100,645.5h72M1229,645.5h15M1277,645.5h15M1301,645.5h6M1316,645.5h3M1334,645.5h30M1367,645.5h24M80,648.5h45M137,648.5h18M245,648.5h135M401,648.5h6M416,648.5h9M455,648.5h6M530,648.5h12M641,648.5h9M653,648.5h6M695,648.5h36M764,648.5h24M797,648.5h45M1031,648.5h24M1100,648.5h9M1124,648.5h51M1235,648.5h9M1274,648.5h6M1283,648.5h6M1304,648.5h18M1337,648.5h54M1523,648.5h3M80,651.5h45M131,651.5h27M242,651.5h90M335,651.5h39M392,651.5h9M419,651.5h9M530,651.5h21M641,651.5h6M656,651.5h6M692,651.5h45M749,651.5h9M764,651.5h21M800,651.5h9M821,651.5h6M833,651.5h9M1037,651.5h21M1073,651.5h12M1103,651.5h3M1124,651.5h75M1232,651.5h12M1268,651.5h6M1283,651.5h6M1304,651.5h9M1340,651.5h18M1367,651.5h30M1520,651.5h12M86,654.5h75M239,654.5h87M338,654.5h36M386,654.5h15M533,654.5h21M644,654.5h3M656,654.5h24M692,654.5h99M836,654.5h6M866,654.5h6M962,654.5h6M1040,654.5h15M1070,654.5h12M1097,654.5h12M1124,654.5h78M1229,654.5h3M1268,654.5h15M1310,654.5h9M1325,654.5h3M1340,654.5h15M1373,654.5h27M1517,654.5h12M89,657.5h60M155,657.5h6M236,657.5h27M269,657.5h57M335,657.5h54M392,657.5h9M530,657.5h27M650,657.5h21M677,657.5h6M698,657.5h6M710,657.5h21M737,657.5h54M836,657.5h6M869,657.5h6M950,657.5h33M1040,657.5h9M1091,657.5h105M1241,657.5h42M1298,657.5h24M1355,657.5h6M1367,657.5h12M1391,657.5h12M86,660.5h60M158,660.5h6M200,660.5h3M236,660.5h24M275,660.5h81M365,660.5h15M398,660.5h9M530,660.5h30M671,660.5h6M695,660.5h6M710,660.5h9M737,660.5h27M776,660.5h15M800,660.5h12M833,660.5h6M887,660.5h6M947,660.5h15M971,660.5h24M1115,660.5h27M1160,660.5h39M1238,660.5h12M1268,660.5h24M1298,660.5h21M1358,660.5h48M1427,660.5h6M1532,660.5h6M80,663.5h3M86,663.5h45M158,663.5h6M200,663.5h9M239,663.5h6M254,663.5h6M281,663.5h72M359,663.5h15M554,663.5h15M674,663.5h6M692,663.5h9M707,663.5h9M746,663.5h6M806,663.5h3M827,663.5h12M941,663.5h15M971,663.5h9M995,663.5h6M1049,663.5h15M1109,663.5h33M1160,663.5h18M1187,663.5h12M1226,663.5h9M1274,663.5h3M1289,663.5h42M1364,663.5h27M1394,663.5h18M1424,663.5h6M1514,663.5h6M1529,663.5h9M80,666.5h48M158,666.5h3M242,666.5h3M257,666.5h6M281,666.5h33M323,666.5h45M380,666.5h6M470,666.5h9M515,666.5h3M677,666.5h21M752,666.5h12M818,666.5h27M938,666.5h9M1001,666.5h15M1046,666.5h27M1106,666.5h33M1187,666.5h15M1223,666.5h3M1286,666.5h48M1340,666.5h3M1364,666.5h9M1385,666.5h3M1391,666.5h21M1418,666.5h12M1511,666.5h6M1529,666.5h9M80,669.5h6M92,669.5h33M155,669.5h6M239,669.5h24M278,669.5h21M302,669.5h15M320,669.5h69M470,669.5h9M749,669.5h15M815,669.5h15M839,669.5h6M884,669.5h9M938,669.5h6M1016,669.5h9M1040,669.5h39M1100,669.5h39M1187,669.5h3M1196,669.5h9M1223,669.5h3M1286,669.5h6M1298,669.5h15M1316,669.5h12M1337,669.5h9M1358,669.5h9M1391,669.5h24M1421,669.5h9M1499,669.5h15M80,672.5h45M155,672.5h6M236,672.5h27M284,672.5h9M305,672.5h72M389,672.5h18M470,672.5h9M746,672.5h12M788,672.5h3M815,672.5h12M839,672.5h3M941,672.5h6M1022,672.5h18M1076,672.5h9M1118,672.5h21M1187,672.5h24M1283,672.5h9M1298,672.5h27M1340,672.5h6M1355,672.5h9M1388,672.5h24M1427,672.5h3M1445,672.5h3M1481,672.5h9M1493,672.5h27M80,675.5h48M137,675.5h3M152,675.5h12M239,675.5h6M257,675.5h6M287,675.5h57M356,675.5h21M389,675.5h18M461,675.5h15M740,675.5h21M785,675.5h9M827,675.5h18M938,675.5h6M1082,675.5h24M1115,675.5h9M1193,675.5h9M1208,675.5h6M1217,675.5h3M1286,675.5h3M1298,675.5h30M1334,675.5h39M1385,675.5h24M1421,675.5h30M1463,675.5h27M1496,675.5h33M83,678.5h9M107,678.5h9M119,678.5h9M161,678.5h6M239,678.5h3M260,678.5h3M290,678.5h78M374,678.5h3M401,678.5h12M458,678.5h9M536,678.5h3M692,678.5h6M818,678.5h12M938,678.5h3M1085,678.5h36M1283,678.5h18M1307,678.5h18M1328,678.5h6M1343,678.5h3M1352,678.5h24M1385,678.5h18M1418,678.5h6M1433,678.5h3M1442,678.5h45M1493,678.5h18M1514,678.5h24M89,681.5h15M113,681.5h6M167,681.5h3M239,681.5h6M260,681.5h6M290,681.5h39M332,681.5h36M377,681.5h15M410,681.5h12M425,681.5h12M452,681.5h21M695,681.5h6M797,681.5h33M938,681.5h6M1109,681.5h12M1289,681.5h6M1304,681.5h15M1322,681.5h12M1370,681.5h21M1394,681.5h3M1409,681.5h3M1415,681.5h6M1427,681.5h12M1478,681.5h21M1502,681.5h3M1514,681.5h18M92,684.5h30M149,684.5h3M164,684.5h6M239,684.5h6M260,684.5h6M296,684.5h21M338,684.5h63M419,684.5h12M434,684.5h24M473,684.5h9M503,684.5h24M824,684.5h6M869,684.5h9M938,684.5h9M1301,684.5h12M1319,684.5h3M1379,684.5h6M1391,684.5h6M1400,684.5h18M1427,684.5h9M1478,684.5h15M1499,684.5h6M1511,684.5h27M98,687.5h24M131,687.5h3M146,687.5h21M215,687.5h3M239,687.5h12M260,687.5h12M278,687.5h15M296,687.5h6M311,687.5h12M326,687.5h9M338,687.5h66M425,687.5h33M476,687.5h9M509,687.5h15M554,687.5h24M818,687.5h9M938,687.5h27M1301,687.5h15M1391,687.5h9M1469,687.5h18M1499,687.5h39M107,690.5h21M149,690.5h6M158,690.5h3M164,690.5h6M209,690.5h3M242,690.5h33M278,690.5h6M314,690.5h45M362,690.5h24M395,690.5h18M434,690.5h12M455,690.5h12M470,690.5h18M500,690.5h24M548,690.5h9M560,690.5h9M809,690.5h12M938,690.5h9M959,690.5h15M1190,690.5h3M1310,690.5h3M1454,690.5h12M1469,690.5h6M1496,690.5h6M1505,690.5h3M1511,690.5h15M1529,690.5h6M86,693.5h3M110,693.5h3M119,693.5h6M128,693.5h3M155,693.5h3M164,693.5h12M212,693.5h6M233,693.5h42M317,693.5h45M374,693.5h6M398,693.5h9M410,693.5h9M455,693.5h60M521,693.5h6M539,693.5h9M569,693.5h24M818,693.5h6M839,693.5h12M869,693.5h6M935,693.5h6M947,693.5h27M1184,693.5h9M1448,693.5h12M1466,693.5h6M1490,693.5h6M1499,693.5h3M1508,693.5h3M1517,693.5h18M83,696.5h15M113,696.5h3M122,696.5h6M131,696.5h3M143,696.5h6M155,696.5h6M167,696.5h12M212,696.5h9M224,696.5h3M236,696.5h30M275,696.5h3M326,696.5h15M356,696.5h6M380,696.5h3M401,696.5h33M458,696.5h18M482,696.5h48M539,696.5h6M569,696.5h12M590,696.5h15M818,696.5h6M842,696.5h6M866,696.5h15M932,696.5h3M953,696.5h12M983,696.5h3M1007,696.5h12M1052,696.5h21M1124,696.5h6M1184,696.5h9M1304,696.5h3M1445,696.5h33M1487,696.5h9M1514,696.5h18M86,699.5h3M95,699.5h15M119,699.5h15M143,699.5h18M170,699.5h6M179,699.5h3M212,699.5h6M224,699.5h9M245,699.5h15M278,699.5h9M314,699.5h3M335,699.5h6M383,699.5h12M398,699.5h3M407,699.5h30M467,699.5h12M485,699.5h63M605,699.5h9M821,699.5h3M872,699.5h12M929,699.5h3M950,699.5h3M1034,699.5h15M1058,699.5h21M1118,699.5h15M1148,699.5h33M1190,699.5h3M1466,699.5h9M1478,699.5h15M1511,699.5h18M1535,699.5h3M86,702.5h12M110,702.5h3M122,702.5h6M146,702.5h12M170,702.5h6M182,702.5h3M227,702.5h3M233,702.5h9M257,702.5h6M287,702.5h6M314,702.5h9M341,702.5h9M368,702.5h3M392,702.5h6M410,702.5h6M425,702.5h12M458,702.5h57M542,702.5h21M584,702.5h9M611,702.5h6M821,702.5h3M869,702.5h6M923,702.5h6M977,702.5h3M1025,702.5h36M1082,702.5h21M1115,702.5h6M1127,702.5h6M1139,702.5h39M1196,702.5h3M1229,702.5h3M1463,702.5h3M1472,702.5h9M1484,702.5h9M1508,702.5h24M83,705.5h3M89,705.5h6M113,705.5h3M128,705.5h3M149,705.5h3M173,705.5h3M182,705.5h6M227,705.5h3M242,705.5h3M257,705.5h6M275,705.5h18M308,705.5h3M317,705.5h12M347,705.5h18M374,705.5h3M395,705.5h3M413,705.5h3M428,705.5h9M461,705.5h15M479,705.5h3M488,705.5h6M509,705.5h12M554,705.5h3M560,705.5h66M869,705.5h6M929,705.5h6M938,705.5h12M1019,705.5h27M1097,705.5h6M1115,705.5h3M1121,705.5h12M1139,705.5h24M1166,705.5h9M1196,705.5h3M1379,705.5h3M1469,705.5h6M1481,705.5h12M1499,705.5h21M1535,705.5h3M80,708.5h3M86,708.5h3M113,708.5h6M131,708.5h6M146,708.5h6M167,708.5h9M182,708.5h6M230,708.5h3M248,708.5h18M275,708.5h6M287,708.5h3M311,708.5h6M320,708.5h12M338,708.5h3M353,708.5h18M374,708.5h18M413,708.5h27M473,708.5h9M509,708.5h33M557,708.5h15M581,708.5h12M605,708.5h15M623,708.5h24M707,708.5h9M770,708.5h9M821,708.5h6M935,708.5h27M1016,708.5h21M1043,708.5h3M1082,708.5h3M1088,708.5h39M1130,708.5h9M1145,708.5h12M1166,708.5h9M1241,708.5h6M1478,708.5h12M1496,708.5h18M1532,708.5h3M86,711.5h6M113,711.5h3M119,711.5h3M134,711.5h6M146,711.5h3M161,711.5h24M233,711.5h3M257,711.5h12M272,711.5h6M317,711.5h18M338,711.5h33M383,711.5h6M395,711.5h9M413,711.5h12M428,711.5h9M443,711.5h3M476,711.5h6M497,711.5h9M563,711.5h9M590,711.5h6M602,711.5h15M635,711.5h21M764,711.5h9M818,711.5h12M842,711.5h9M884,711.5h9M902,711.5h9M944,711.5h24M1013,711.5h3M1040,711.5h6M1049,711.5h12M1082,711.5h12M1100,711.5h9M1127,711.5h24M1193,711.5h3M1229,711.5h12M1442,711.5h6M1451,711.5h12M1484,711.5h3M1499,711.5h3M1505,711.5h6M1526,711.5h12M86,714.5h6M113,714.5h3M122,714.5h3M137,714.5h6M149,714.5h3M164,714.5h9M176,714.5h3M236,714.5h3M248,714.5h3M260,714.5h6M269,714.5h6M323,714.5h12M341,714.5h12M365,714.5h12M404,714.5h21M428,714.5h12M443,714.5h12M479,714.5h9M491,714.5h12M569,714.5h9M593,714.5h6M617,714.5h9M635,714.5h3M647,714.5h9M665,714.5h18M833,714.5h3M842,714.5h6M851,714.5h6M899,714.5h9M911,714.5h6M932,714.5h3M980,714.5h6M989,714.5h6M1010,714.5h3M1082,714.5h9M1121,714.5h24M1226,714.5h3M1439,714.5h3M1457,714.5h9M1496,714.5h12M1532,714.5h6M113,717.5h3M122,717.5h3M137,717.5h3M143,717.5h3M164,717.5h6M179,717.5h3M194,717.5h3M221,717.5h9M239,717.5h3M248,717.5h6M266,717.5h9M305,717.5h3M326,717.5h12M344,717.5h12M371,717.5h9M386,717.5h12M404,717.5h3M419,717.5h6M434,717.5h9M452,717.5h6M482,717.5h12M503,717.5h3M539,717.5h6M563,717.5h3M569,717.5h18M602,717.5h6M629,717.5h15M662,717.5h6M674,717.5h9M695,717.5h6M704,717.5h6M848,717.5h9M863,717.5h6M884,717.5h9M932,717.5h3M977,717.5h15M1004,717.5h3M1049,717.5h9M1073,717.5h18M1118,717.5h12M1139,717.5h3M1190,717.5h3M1439,717.5h9M1463,717.5h6M1484,717.5h3M1496,717.5h9M1529,717.5h9M122,720.5h3M140,720.5h3M146,720.5h9M164,720.5h6M176,720.5h6M194,720.5h6M221,720.5h3M233,720.5h3M239,720.5h18M269,720.5h6M308,720.5h3M317,720.5h6M326,720.5h33M398,720.5h12M422,720.5h6M437,720.5h9M455,720.5h3M476,720.5h30M542,720.5h9M563,720.5h9M578,720.5h27M620,720.5h12M635,720.5h3M662,720.5h3M677,720.5h24M704,720.5h6M818,720.5h3M827,720.5h6M857,720.5h12M881,720.5h12M911,720.5h9M923,720.5h9M977,720.5h12M1004,720.5h3M1049,720.5h12M1064,720.5h12M1097,720.5h3M1115,720.5h12M1139,720.5h3M1187,720.5h9M1442,720.5h3M1466,720.5h3M1475,720.5h3M1484,720.5h3M1493,720.5h3M1502,720.5h6M1529,720.5h9M98,723.5h3M119,723.5h6M143,723.5h9M155,723.5h3M161,723.5h9M176,723.5h6M212,723.5h9M224,723.5h3M239,723.5h15M257,723.5h3M269,723.5h9M302,723.5h3M320,723.5h3M329,723.5h9M344,723.5h6M356,723.5h6M392,723.5h24M434,723.5h12M458,723.5h3M476,723.5h27M506,723.5h6M515,723.5h12M539,723.5h9M551,723.5h6M596,723.5h15M665,723.5h6M680,723.5h3M701,723.5h9M824,723.5h9M857,723.5h15M890,723.5h3M899,723.5h3M917,723.5h3M962,723.5h12M983,723.5h3M1004,723.5h3M1067,723.5h6M1112,723.5h6M1196,723.5h3M1439,723.5h3M1463,723.5h6M1481,723.5h9M1499,723.5h6M1514,723.5h6M1535,723.5h3M101,726.5h6M149,726.5h24M215,726.5h6M230,726.5h3M245,726.5h18M275,726.5h9M287,726.5h6M302,726.5h6M326,726.5h12M347,726.5h3M395,726.5h9M416,726.5h3M437,726.5h15M479,726.5h6M491,726.5h9M512,726.5h6M536,726.5h3M548,726.5h12M566,726.5h6M677,726.5h9M707,726.5h6M824,726.5h18M851,726.5h6M866,726.5h6M893,726.5h18M920,726.5h3M959,726.5h3M974,726.5h6M1004,726.5h6M1049,726.5h9M1076,726.5h12M1115,726.5h3M1175,726.5h3M1196,726.5h3M1208,726.5h6M1295,726.5h3M1430,726.5h9M1478,726.5h21M1508,726.5h12M1532,726.5h3M107,729.5h3M149,729.5h21M206,729.5h3M233,729.5h3M239,729.5h9M257,729.5h6M284,729.5h6M311,729.5h3M326,729.5h6M338,729.5h3M350,729.5h3M389,729.5h30M428,729.5h21M485,729.5h18M536,729.5h6M671,729.5h45M854,729.5h3M908,729.5h6M920,729.5h6M956,729.5h9M968,729.5h3M1010,729.5h3M1046,729.5h9M1064,729.5h21M1169,729.5h9M1193,729.5h18M1313,729.5h9M1427,729.5h6M1439,729.5h3M1475,729.5h21M1505,729.5h6M1514,729.5h15M1532,729.5h3M152,732.5h3M161,732.5h9M203,732.5h12M236,732.5h30M272,732.5h6M284,732.5h6M317,732.5h3M326,732.5h3M338,732.5h6M353,732.5h3M365,732.5h3M392,732.5h6M410,732.5h12M488,732.5h12M536,732.5h6M575,732.5h12M611,732.5h12M692,732.5h9M710,732.5h6M764,732.5h3M839,732.5h9M854,732.5h6M896,732.5h15M950,732.5h18M1010,732.5h6M1037,732.5h15M1067,732.5h6M1079,732.5h6M1142,732.5h6M1166,732.5h12M1187,732.5h3M1196,732.5h12M1220,732.5h9M1241,732.5h3M1262,732.5h3M1277,732.5h3M1313,732.5h3M1397,732.5h6M1415,732.5h9M1436,732.5h6M1481,732.5h12M1499,732.5h6M1511,732.5h3M1520,732.5h3M1529,732.5h6M140,735.5h3M146,735.5h9M164,735.5h3M191,735.5h3M203,735.5h6M212,735.5h6M221,735.5h3M242,735.5h9M254,735.5h3M260,735.5h9M275,735.5h21M305,735.5h3M314,735.5h6M326,735.5h3M341,735.5h30M395,735.5h6M416,735.5h3M563,735.5h21M593,735.5h18M707,735.5h3M761,735.5h9M809,735.5h9M824,735.5h9M854,735.5h3M896,735.5h6M911,735.5h6M1016,735.5h3M1040,735.5h33M1082,735.5h6M1094,735.5h12M1136,735.5h6M1145,735.5h3M1154,735.5h15M1178,735.5h24M1208,735.5h12M1226,735.5h9M1247,735.5h6M1277,735.5h6M1334,735.5h6M1349,735.5h9M1388,735.5h6M1397,735.5h3M1409,735.5h3M1430,735.5h6M1439,735.5h3M1481,735.5h9M1493,735.5h6M1508,735.5h3M1526,735.5h6M140,738.5h6M164,738.5h9M200,738.5h15M221,738.5h6M251,738.5h9M266,738.5h6M278,738.5h24M308,738.5h9M332,738.5h3M344,738.5h12M359,738.5h12M398,738.5h6M422,738.5h6M503,738.5h3M536,738.5h9M572,738.5h6M593,738.5h12M626,738.5h9M854,738.5h42M908,738.5h6M956,738.5h6M1013,738.5h9M1028,738.5h18M1076,738.5h24M1103,738.5h6M1130,738.5h6M1139,738.5h12M1181,738.5h15M1241,738.5h12M1274,738.5h6M1322,738.5h6M1334,738.5h21M1382,738.5h6M1394,738.5h6M1409,738.5h3M1427,738.5h3M1436,738.5h6M1463,738.5h3M1478,738.5h6M1493,738.5h3M1505,738.5h3M1514,738.5h6M1523,738.5h9M140,741.5h3M146,741.5h3M164,741.5h3M176,741.5h6M197,741.5h15M224,741.5h6M242,741.5h6M254,741.5h24M290,741.5h15M314,741.5h3M338,741.5h6M353,741.5h21M398,741.5h15M425,741.5h6M542,741.5h3M560,741.5h15M623,741.5h9M713,741.5h3M803,741.5h3M812,741.5h6M833,741.5h42M884,741.5h15M920,741.5h12M941,741.5h3M956,741.5h15M1028,741.5h3M1043,741.5h6M1058,741.5h6M1067,741.5h12M1091,741.5h6M1100,741.5h9M1121,741.5h6M1139,741.5h33M1184,741.5h12M1247,741.5h18M1319,741.5h3M1337,741.5h3M1346,741.5h9M1358,741.5h18M1379,741.5h18M1409,741.5h3M1424,741.5h3M1439,741.5h3M1460,741.5h18M1490,741.5h15M1511,741.5h3M1523,741.5h9M80,744.5h21M140,744.5h3M149,744.5h9M164,744.5h3M185,744.5h6M200,744.5h12M215,744.5h30M251,744.5h9M266,744.5h3M275,744.5h3M293,744.5h3M317,744.5h6M338,744.5h6M347,744.5h6M362,744.5h12M407,744.5h24M560,744.5h6M572,744.5h6M620,744.5h18M710,744.5h6M770,744.5h18M800,744.5h3M821,744.5h3M848,744.5h18M872,744.5h6M899,744.5h6M923,744.5h6M956,744.5h9M1031,744.5h6M1058,744.5h3M1070,744.5h6M1091,744.5h6M1100,744.5h6M1127,744.5h12M1157,744.5h12M1184,744.5h9M1259,744.5h3M1286,744.5h9M1298,744.5h3M1304,744.5h6M1319,744.5h6M1334,744.5h3M1340,744.5h24M1370,744.5h3M1382,744.5h21M1409,744.5h3M1418,744.5h9M1439,744.5h3M1469,744.5h24M1502,744.5h3M1523,744.5h9M86,747.5h21M131,747.5h6M143,747.5h3M149,747.5h3M158,747.5h3M170,747.5h3M182,747.5h9M215,747.5h3M236,747.5h6M245,747.5h15M269,747.5h12M296,747.5h12M323,747.5h3M332,747.5h27M365,747.5h12M422,747.5h6M431,747.5h21M560,747.5h15M620,747.5h21M710,747.5h3M773,747.5h18M803,747.5h21M851,747.5h3M860,747.5h3M875,747.5h3M899,747.5h24M938,747.5h3M1007,747.5h3M1037,747.5h6M1061,747.5h3M1079,747.5h30M1124,747.5h9M1154,747.5h9M1169,747.5h3M1175,747.5h6M1259,747.5h3M1274,747.5h9M1286,747.5h6M1307,747.5h6M1322,747.5h6M1331,747.5h30M1391,747.5h3M1400,747.5h9M1412,747.5h3M1439,747.5h3M1466,747.5h6M1484,747.5h6M1499,747.5h6M1523,747.5h3M1529,747.5h9M80,750.5h3M101,750.5h9M113,750.5h6M149,750.5h3M155,750.5h3M161,750.5h3M173,750.5h3M182,750.5h3M215,750.5h6M239,750.5h33M278,750.5h12M299,750.5h6M311,750.5h24M341,750.5h9M353,750.5h6M371,750.5h6M422,750.5h18M449,750.5h9M473,750.5h3M587,750.5h15M623,750.5h6M632,750.5h9M710,750.5h9M728,750.5h3M788,750.5h3M806,750.5h3M821,750.5h9M851,750.5h9M875,750.5h3M893,750.5h48M953,750.5h6M989,750.5h3M1019,750.5h21M1046,750.5h9M1061,750.5h18M1091,750.5h21M1148,750.5h12M1166,750.5h6M1262,750.5h18M1310,750.5h3M1322,750.5h6M1355,750.5h18M1388,750.5h3M1409,750.5h3M1424,750.5h6M1439,750.5h6M1463,750.5h3M1481,750.5h6M1496,750.5h12M1520,750.5h3M104,753.5h21M152,753.5h15M179,753.5h12M194,753.5h9M215,753.5h3M245,753.5h27M281,753.5h3M293,753.5h18M317,753.5h30M359,753.5h3M437,753.5h6M449,753.5h15M470,753.5h12M590,753.5h9M704,753.5h3M740,753.5h6M824,753.5h27M875,753.5h3M896,753.5h6M908,753.5h6M926,753.5h9M950,753.5h12M1016,753.5h3M1028,753.5h27M1061,753.5h9M1088,753.5h9M1139,753.5h18M1280,753.5h18M1307,753.5h6M1319,753.5h6M1355,753.5h18M1385,753.5h3M1409,753.5h3M1418,753.5h3M1436,753.5h3M1442,753.5h3M1460,753.5h3M1487,753.5h12M1511,753.5h9M119,756.5h3M143,756.5h3M158,756.5h9M170,756.5h3M185,756.5h6M206,756.5h3M215,756.5h3M245,756.5h12M269,756.5h9M281,756.5h3M290,756.5h6M299,756.5h6M311,756.5h3M320,756.5h3M326,756.5h9M344,756.5h6M362,756.5h3M443,756.5h12M590,756.5h6M710,756.5h3M773,756.5h6M830,756.5h3M884,756.5h15M902,756.5h6M929,756.5h9M950,756.5h6M1004,756.5h12M1022,756.5h3M1046,756.5h3M1055,756.5h42M1133,756.5h6M1148,756.5h3M1160,756.5h3M1277,756.5h6M1292,756.5h24M1319,756.5h3M1328,756.5h6M1355,756.5h3M1361,756.5h9M1382,756.5h3M1412,756.5h3M1424,756.5h3M1439,756.5h3M1478,756.5h12M1493,756.5h3M1508,756.5h6M122,759.5h3M128,759.5h6M152,759.5h6M164,759.5h12M188,759.5h3M212,759.5h9M224,759.5h3M230,759.5h24M272,759.5h3M284,759.5h3M293,759.5h3M302,759.5h3M317,759.5h39M362,759.5h6M446,759.5h6M707,759.5h6M908,759.5h33M1001,759.5h3M1013,759.5h27M1055,759.5h15M1076,759.5h9M1124,759.5h12M1277,759.5h12M1295,759.5h21M1319,759.5h6M1328,759.5h12M1352,759.5h9M1367,759.5h3M1379,759.5h3M1385,759.5h9M1421,759.5h3M1430,759.5h9M1469,759.5h24M1508,759.5h3M107,762.5h15M128,762.5h6M140,762.5h12M170,762.5h6M212,762.5h3M221,762.5h6M233,762.5h24M260,762.5h6M287,762.5h3M296,762.5h9M317,762.5h6M335,762.5h6M347,762.5h3M359,762.5h6M398,762.5h12M467,762.5h9M650,762.5h6M698,762.5h15M980,762.5h6M998,762.5h3M1007,762.5h15M1037,762.5h9M1055,762.5h9M1070,762.5h3M1076,762.5h3M1121,762.5h9M1142,762.5h12M1283,762.5h6M1292,762.5h18M1316,762.5h3M1334,762.5h3M1349,762.5h9M1367,762.5h3M1376,762.5h6M1391,762.5h9M1403,762.5h3M1418,762.5h3M1424,762.5h12M1448,762.5h6M1466,762.5h18M1490,762.5h3M1505,762.5h6M107,765.5h6M125,765.5h3M137,765.5h6M236,765.5h21M263,765.5h3M320,765.5h3M338,765.5h6M347,765.5h6M359,765.5h9M398,765.5h15M464,765.5h12M497,765.5h3M530,765.5h3M536,765.5h6M713,765.5h3M788,765.5h6M902,765.5h12M986,765.5h6M1001,765.5h27M1037,765.5h9M1049,765.5h3M1067,765.5h12M1103,765.5h6M1118,765.5h12M1142,765.5h3M1151,765.5h3M1280,765.5h12M1298,765.5h3M1313,765.5h6M1334,765.5h3M1343,765.5h12M1367,765.5h12M1406,765.5h6M1415,765.5h6M1445,765.5h3M1466,765.5h12M1502,765.5h9M1514,765.5h6M107,768.5h3M128,768.5h12M146,768.5h3M197,768.5h15M242,768.5h18M263,768.5h15M290,768.5h3M323,768.5h3M332,768.5h18M359,768.5h9M371,768.5h6M404,768.5h3M416,768.5h15M470,768.5h9M497,768.5h3M503,768.5h12M716,768.5h9M785,768.5h9M815,768.5h12M902,768.5h12M989,768.5h3M1004,768.5h9M1037,768.5h3M1082,768.5h6M1130,768.5h6M1277,768.5h3M1286,768.5h3M1295,768.5h6M1334,768.5h12M1373,768.5h3M1382,768.5h15M1409,768.5h3M1442,768.5h9M1457,768.5h12M1475,768.5h3M1484,768.5h6M1499,768.5h9M1514,768.5h3M110,771.5h3M131,771.5h3M137,771.5h3M149,771.5h6M215,771.5h6M245,771.5h6M257,771.5h6M269,771.5h18M293,771.5h3M323,771.5h6M335,771.5h3M347,771.5h3M368,771.5h6M377,771.5h3M407,771.5h30M473,771.5h9M497,771.5h12M542,771.5h15M563,771.5h6M635,771.5h3M716,771.5h6M821,771.5h9M953,771.5h6M992,771.5h3M1049,771.5h12M1274,771.5h3M1283,771.5h3M1325,771.5h3M1331,771.5h6M1367,771.5h6M1376,771.5h3M1385,771.5h3M1394,771.5h3M1406,771.5h3M1439,771.5h3M1448,771.5h6M1460,771.5h6M1475,771.5h6M1484,771.5h12M1502,771.5h3M1511,771.5h3M116,774.5h3M125,774.5h18M149,774.5h12M173,774.5h6M242,774.5h3M248,774.5h3M281,774.5h3M293,774.5h3M323,774.5h18M353,774.5h3M377,774.5h3M410,774.5h21M479,774.5h3M497,774.5h9M545,774.5h12M563,774.5h9M719,774.5h6M821,774.5h3M830,774.5h6M947,774.5h12M977,774.5h9M989,774.5h6M1007,774.5h3M1049,774.5h6M1274,774.5h3M1280,774.5h3M1310,774.5h21M1340,774.5h9M1364,774.5h9M1391,774.5h3M1403,774.5h3M1409,774.5h9M1427,774.5h9M1448,774.5h3M1457,774.5h3M1475,774.5h3M1484,774.5h6M1502,774.5h15M122,777.5h9M134,777.5h9M176,777.5h3M182,777.5h3M191,777.5h12M227,777.5h3M245,777.5h3M263,777.5h3M284,777.5h3M296,777.5h3M323,777.5h12M338,777.5h9M356,777.5h3M380,777.5h3M416,777.5h18M443,777.5h6M479,777.5h18M515,777.5h9M539,777.5h9M560,777.5h3M575,777.5h9M635,777.5h3M641,777.5h3M695,777.5h6M704,777.5h21M818,777.5h6M875,777.5h3M980,777.5h12M1277,777.5h6M1310,777.5h3M1319,777.5h9M1337,777.5h18M1361,777.5h6M1379,777.5h3M1406,777.5h12M1424,777.5h3M1430,777.5h3M1445,777.5h3M1454,777.5h9M1472,777.5h6M1481,777.5h6M1502,777.5h12M104,780.5h15M128,780.5h6M140,780.5h6M197,780.5h6M206,780.5h6M230,780.5h6M248,780.5h3M266,780.5h3M290,780.5h3M299,780.5h3M323,780.5h3M332,780.5h6M347,780.5h6M410,780.5h6M425,780.5h3M443,780.5h6M452,780.5h3M470,780.5h12M488,780.5h9M509,780.5h9M524,780.5h6M542,780.5h3M563,780.5h6M587,780.5h3M599,780.5h6M611,780.5h12M638,780.5h3M677,780.5h21M701,780.5h6M809,780.5h3M818,780.5h3M989,780.5h12M1055,780.5h9M1283,780.5h6M1298,780.5h3M1316,780.5h6M1325,780.5h3M1337,780.5h12M1358,780.5h3M1373,780.5h3M1409,780.5h6M1430,780.5h3M1442,780.5h12M1457,780.5h21M1481,780.5h12M1502,780.5h9M1529,780.5h6M95,783.5h6M107,783.5h3M122,783.5h6M146,783.5h15M203,783.5h3M209,783.5h6M233,783.5h3M251,783.5h3M272,783.5h3M287,783.5h9M326,783.5h3M335,783.5h6M350,783.5h6M407,783.5h3M434,783.5h6M449,783.5h6M473,783.5h9M512,783.5h21M542,783.5h24M590,783.5h12M617,783.5h3M680,783.5h18M701,783.5h6M980,783.5h6M1028,783.5h15M1052,783.5h6M1157,783.5h3M1286,783.5h6M1313,783.5h9M1334,783.5h9M1370,783.5h3M1391,783.5h6M1403,783.5h12M1427,783.5h18M1454,783.5h12M1472,783.5h15M1502,783.5h9M1526,783.5h6M110,786.5h3M131,786.5h3M149,786.5h9M164,786.5h3M182,786.5h6M209,786.5h3M257,786.5h3M275,786.5h3M290,786.5h3M308,786.5h15M329,786.5h27M437,786.5h3M452,786.5h9M476,786.5h21M509,786.5h39M551,786.5h3M563,786.5h12M593,786.5h6M686,786.5h9M707,786.5h6M845,786.5h9M884,786.5h9M977,786.5h3M1004,786.5h6M1154,786.5h3M1172,786.5h6M1313,786.5h3M1328,786.5h12M1361,786.5h3M1367,786.5h12M1397,786.5h9M1409,786.5h3M1421,786.5h15M1448,786.5h18M1472,786.5h6M1499,786.5h9M95,789.5h6M110,789.5h6M134,789.5h3M152,789.5h15M185,789.5h6M257,789.5h9M269,789.5h9M281,789.5h9M293,789.5h3M308,789.5h6M323,789.5h3M338,789.5h12M401,789.5h9M449,789.5h6M458,789.5h9M482,789.5h21M509,789.5h6M524,789.5h27M566,789.5h9M587,789.5h15M632,789.5h6M683,789.5h15M710,789.5h3M884,789.5h6M998,789.5h18M1034,789.5h12M1169,789.5h6M1334,789.5h3M1340,789.5h12M1370,789.5h6M1394,789.5h12M1418,789.5h3M1424,789.5h6M1442,789.5h3M1448,789.5h18M83,792.5h3M92,792.5h18M131,792.5h12M152,792.5h12M188,792.5h9M251,792.5h15M269,792.5h18M293,792.5h6M311,792.5h3M323,792.5h12M344,792.5h6M401,792.5h12M428,792.5h3M446,792.5h6M458,792.5h18M485,792.5h24M524,792.5h9M554,792.5h6M572,792.5h6M590,792.5h51M824,792.5h15M938,792.5h9M968,792.5h9M992,792.5h15M1013,792.5h3M1031,792.5h12M1163,792.5h6M1310,792.5h3M1319,792.5h15M1346,792.5h3M1355,792.5h3M1373,792.5h21M1418,792.5h6M1433,792.5h6M1448,792.5h15M1535,792.5h3M89,795.5h6M101,795.5h6M134,795.5h15M152,795.5h9M170,795.5h12M188,795.5h9M212,795.5h9M251,795.5h12M275,795.5h15M299,795.5h12M314,795.5h3M326,795.5h6M338,795.5h12M404,795.5h12M428,795.5h6M449,795.5h33M491,795.5h12M527,795.5h3M557,795.5h3M569,795.5h6M584,795.5h12M623,795.5h12M710,795.5h3M722,795.5h12M908,795.5h30M968,795.5h6M995,795.5h18M1025,795.5h6M1034,795.5h6M1163,795.5h3M1298,795.5h6M1307,795.5h12M1346,795.5h9M1373,795.5h18M1412,795.5h9M1427,795.5h3M1445,795.5h3M1487,795.5h9M1523,795.5h12M104,798.5h9M134,798.5h24M173,798.5h12M188,798.5h9M212,798.5h3M218,798.5h6M245,798.5h18M281,798.5h12M302,798.5h3M308,798.5h12M329,798.5h6M371,798.5h3M389,798.5h3M404,798.5h9M431,798.5h9M470,798.5h6M479,798.5h6M494,798.5h6M524,798.5h12M539,798.5h24M575,798.5h36M686,798.5h15M713,798.5h3M971,798.5h6M1022,798.5h9M1295,798.5h15M1322,798.5h3M1349,798.5h3M1370,798.5h15M1415,798.5h3M1421,798.5h3M1427,798.5h3M1469,798.5h6M1478,798.5h3M1490,798.5h9M1520,798.5h12M80,801.5h15M104,801.5h3M110,801.5h30M143,801.5h6M155,801.5h9M179,801.5h3M191,801.5h6M215,801.5h6M224,801.5h6M236,801.5h6M248,801.5h3M254,801.5h12M284,801.5h6M296,801.5h21M329,801.5h12M356,801.5h6M374,801.5h6M392,801.5h12M407,801.5h15M470,801.5h9M482,801.5h12M521,801.5h12M539,801.5h24M599,801.5h12M650,801.5h9M680,801.5h6M701,801.5h3M713,801.5h6M893,801.5h6M908,801.5h24M971,801.5h6M1022,801.5h6M1034,801.5h6M1274,801.5h3M1295,801.5h18M1319,801.5h9M1334,801.5h3M1346,801.5h3M1361,801.5h6M1373,801.5h9M1385,801.5h9M1400,801.5h3M1412,801.5h15M1436,801.5h3M1466,801.5h3M1493,801.5h15M1514,801.5h12M1535,801.5h3M80,804.5h3M98,804.5h9M110,804.5h3M116,804.5h3M134,804.5h6M146,804.5h6M158,804.5h3M218,804.5h3M227,804.5h3M236,804.5h3M242,804.5h3M251,804.5h12M266,804.5h3M302,804.5h21M326,804.5h6M344,804.5h24M413,804.5h9M449,804.5h6M458,804.5h27M488,804.5h12M515,804.5h9M533,804.5h6M542,804.5h9M554,804.5h6M572,804.5h9M602,804.5h18M677,804.5h3M683,804.5h6M701,804.5h3M713,804.5h3M893,804.5h6M911,804.5h27M956,804.5h3M1295,804.5h9M1307,804.5h3M1313,804.5h12M1334,804.5h15M1358,804.5h6M1373,804.5h3M1379,804.5h3M1391,804.5h3M1397,804.5h3M1412,804.5h12M1430,804.5h3M1469,804.5h3M1475,804.5h3M1499,804.5h6M1517,804.5h12M80,807.5h3M92,807.5h6M116,807.5h3M122,807.5h3M137,807.5h15M161,807.5h3M218,807.5h6M230,807.5h3M242,807.5h6M257,807.5h15M305,807.5h6M314,807.5h12M332,807.5h9M362,807.5h9M419,807.5h3M446,807.5h21M470,807.5h48M527,807.5h21M560,807.5h15M605,807.5h6M614,807.5h6M650,807.5h6M671,807.5h6M689,807.5h6M698,807.5h6M713,807.5h6M860,807.5h15M884,807.5h9M899,807.5h33M947,807.5h9M1295,807.5h21M1319,807.5h3M1331,807.5h6M1340,807.5h3M1355,807.5h3M1367,807.5h3M1376,807.5h3M1412,807.5h9M1472,807.5h3M1484,807.5h3M1499,807.5h3M1514,807.5h6M1526,807.5h9M80,810.5h6M92,810.5h6M101,810.5h9M116,810.5h6M131,810.5h15M152,810.5h3M161,810.5h6M224,810.5h12M257,810.5h9M311,810.5h39M359,810.5h6M374,810.5h6M419,810.5h3M434,810.5h6M443,810.5h6M455,810.5h18M482,810.5h12M497,810.5h12M533,810.5h18M563,810.5h15M590,810.5h21M656,810.5h6M668,810.5h6M698,810.5h18M854,810.5h9M875,810.5h12M899,810.5h15M947,810.5h6M989,810.5h3M1013,810.5h6M1058,810.5h6M1292,810.5h18M1319,810.5h3M1328,810.5h6M1361,810.5h6M1373,810.5h3M1409,810.5h12M1472,810.5h3M1478,810.5h3M1484,810.5h3M1496,810.5h3M1511,810.5h6M1520,810.5h18M86,813.5h9M110,813.5h12M140,813.5h6M158,813.5h12M221,813.5h15M260,813.5h6M299,813.5h6M314,813.5h12M332,813.5h9M350,813.5h15M377,813.5h3M383,813.5h3M431,813.5h6M446,813.5h3M452,813.5h6M470,813.5h3M476,813.5h30M533,813.5h24M569,813.5h15M587,813.5h9M608,813.5h6M641,813.5h9M656,813.5h9M671,813.5h15M704,813.5h12M731,813.5h12M854,813.5h18M881,813.5h39M932,813.5h27M1037,813.5h3M1055,813.5h6M1241,813.5h9M1265,813.5h6M1292,813.5h18M1322,813.5h6M1361,813.5h9M1397,813.5h12M1412,813.5h6M1427,813.5h9M1445,813.5h3M1466,813.5h3M1472,813.5h9M1487,813.5h6M1505,813.5h3M1511,813.5h6M1526,813.5h6M89,816.5h3M104,816.5h3M113,816.5h3M122,816.5h3M161,816.5h18M221,816.5h6M296,816.5h9M308,816.5h3M317,816.5h9M338,816.5h6M380,816.5h6M407,816.5h21M437,816.5h12M458,816.5h3M467,816.5h9M479,816.5h9M491,816.5h3M506,816.5h9M557,816.5h6M569,816.5h18M596,816.5h18M632,816.5h30M668,816.5h6M692,816.5h6M704,816.5h6M722,816.5h12M740,816.5h3M851,816.5h12M872,816.5h3M941,816.5h27M974,816.5h6M986,816.5h63M1238,816.5h9M1259,816.5h12M1304,816.5h3M1322,816.5h3M1358,816.5h6M1397,816.5h3M1406,816.5h9M1424,816.5h6M1442,816.5h3M1463,816.5h6M1472,816.5h12M1502,816.5h3M1511,816.5h3M1526,816.5h3M1535,816.5h3M89,819.5h3M104,819.5h15M128,819.5h3M161,819.5h9M176,819.5h6M230,819.5h9M296,819.5h6M311,819.5h12M341,819.5h6M359,819.5h6M383,819.5h3M407,819.5h21M437,819.5h6M446,819.5h9M458,819.5h30M491,819.5h3M512,819.5h3M557,819.5h18M581,819.5h6M596,819.5h3M608,819.5h9M629,819.5h9M647,819.5h15M689,819.5h6M707,819.5h3M725,819.5h6M776,819.5h9M845,819.5h6M941,819.5h21M971,819.5h9M992,819.5h9M1019,819.5h27M1208,819.5h12M1232,819.5h6M1310,819.5h12M1331,819.5h18M1355,819.5h6M1379,819.5h6M1472,819.5h3M1478,819.5h3M1499,819.5h3M1505,819.5h12M1523,819.5h3M1532,819.5h6M83,822.5h6M92,822.5h3M104,822.5h3M113,822.5h6M128,822.5h6M140,822.5h3M146,822.5h3M155,822.5h3M167,822.5h6M182,822.5h3M191,822.5h6M200,822.5h3M230,822.5h3M266,822.5h9M296,822.5h3M302,822.5h3M314,822.5h6M362,822.5h3M377,822.5h15M401,822.5h39M449,822.5h18M476,822.5h21M503,822.5h9M563,822.5h12M581,822.5h6M599,822.5h6M611,822.5h3M626,822.5h3M635,822.5h3M695,822.5h9M713,822.5h6M776,822.5h3M863,822.5h3M941,822.5h30M977,822.5h9M995,822.5h9M1010,822.5h12M1040,822.5h9M1208,822.5h9M1262,822.5h9M1313,822.5h12M1328,822.5h18M1352,822.5h6M1376,822.5h6M1409,822.5h3M1427,822.5h9M1469,822.5h3M1478,822.5h3M1487,822.5h12M1505,822.5h9M1520,822.5h6M1532,822.5h6M86,825.5h3M98,825.5h9M119,825.5h3M128,825.5h6M140,825.5h6M152,825.5h3M170,825.5h6M185,825.5h9M206,825.5h3M212,825.5h3M218,825.5h3M233,825.5h9M269,825.5h9M296,825.5h12M347,825.5h3M365,825.5h3M380,825.5h3M395,825.5h6M410,825.5h6M425,825.5h3M455,825.5h6M470,825.5h21M506,825.5h3M569,825.5h9M584,825.5h3M599,825.5h33M638,825.5h3M656,825.5h3M674,825.5h3M695,825.5h9M713,825.5h3M746,825.5h15M770,825.5h12M836,825.5h9M926,825.5h9M947,825.5h30M992,825.5h18M1019,825.5h30M1220,825.5h6M1256,825.5h12M1313,825.5h9M1325,825.5h9M1337,825.5h6M1352,825.5h3M1382,825.5h9M1403,825.5h3M1409,825.5h3M1427,825.5h9M1466,825.5h12M1481,825.5h12M1502,825.5h6M1511,825.5h6M1520,825.5h3M1532,825.5h6M80,828.5h3M86,828.5h6M122,828.5h12M146,828.5h3M152,828.5h3M173,828.5h3M188,828.5h3M203,828.5h6M221,828.5h3M239,828.5h3M251,828.5h3M299,828.5h3M329,828.5h3M350,828.5h6M386,828.5h27M455,828.5h6M491,828.5h18M572,828.5h6M584,828.5h6M605,828.5h15M626,828.5h12M656,828.5h6M680,828.5h3M689,828.5h27M770,828.5h12M833,828.5h3M839,828.5h6M914,828.5h24M950,828.5h3M1004,828.5h3M1019,828.5h9M1202,828.5h3M1322,828.5h6M1337,828.5h3M1349,828.5h6M1379,828.5h3M1388,828.5h3M1400,828.5h15M1436,828.5h12M1478,828.5h6M1490,828.5h12M1505,828.5h3M1511,828.5h3M1532,828.5h6M80,831.5h6M89,831.5h9M104,831.5h9M125,831.5h3M134,831.5h6M149,831.5h6M173,831.5h6M191,831.5h3M203,831.5h3M212,831.5h3M233,831.5h3M329,831.5h9M386,831.5h12M491,831.5h9M599,831.5h9M614,831.5h48M680,831.5h3M692,831.5h27M755,831.5h6M836,831.5h6M950,831.5h6M968,831.5h15M1004,831.5h6M1022,831.5h15M1046,831.5h21M1070,831.5h3M1199,831.5h6M1229,831.5h3M1316,831.5h6M1346,831.5h9M1376,831.5h3M1388,831.5h24M1433,831.5h9M1490,831.5h6M1502,831.5h3M1508,831.5h3M1514,831.5h12M1532,831.5h6M83,834.5h9M101,834.5h3M125,834.5h3M194,834.5h12M215,834.5h3M290,834.5h3M326,834.5h15M407,834.5h9M434,834.5h3M452,834.5h9M494,834.5h12M569,834.5h6M581,834.5h6M602,834.5h9M623,834.5h3M644,834.5h3M680,834.5h3M863,834.5h12M950,834.5h21M974,834.5h6M1055,834.5h6M1064,834.5h12M1145,834.5h3M1226,834.5h6M1241,834.5h3M1331,834.5h3M1343,834.5h6M1352,834.5h3M1370,834.5h12M1388,834.5h3M1394,834.5h15M1490,834.5h3M1499,834.5h6M1514,834.5h9M1529,834.5h3M83,837.5h9M95,837.5h3M122,837.5h6M203,837.5h6M218,837.5h3M230,837.5h9M254,837.5h6M287,837.5h12M320,837.5h3M329,837.5h6M380,837.5h9M407,837.5h9M437,837.5h6M452,837.5h18M491,837.5h12M575,837.5h3M581,837.5h6M608,837.5h12M647,837.5h6M680,837.5h24M710,837.5h3M857,837.5h18M920,837.5h9M968,837.5h9M1031,837.5h3M1052,837.5h3M1061,837.5h9M1142,837.5h6M1223,837.5h3M1238,837.5h6M1343,837.5h3M1349,837.5h3M1358,837.5h27M1388,837.5h9M1484,837.5h9M1496,837.5h3M1505,837.5h3M1517,837.5h6M86,840.5h6M173,840.5h3M203,840.5h9M221,840.5h6M233,840.5h3M257,840.5h6M287,840.5h3M296,840.5h6M323,840.5h15M368,840.5h3M380,840.5h9M413,840.5h6M431,840.5h6M458,840.5h21M497,840.5h6M569,840.5h21M644,840.5h51M710,840.5h6M842,840.5h3M860,840.5h27M896,840.5h15M926,840.5h3M959,840.5h6M1004,840.5h3M1055,840.5h12M1223,840.5h3M1343,840.5h6M1355,840.5h24M1436,840.5h3M1463,840.5h3M1481,840.5h6M1496,840.5h12M1514,840.5h6M92,843.5h3M107,843.5h12M173,843.5h6M221,843.5h6M230,843.5h6M272,843.5h12M299,843.5h3M329,843.5h12M368,843.5h24M419,843.5h3M431,843.5h3M440,843.5h3M458,843.5h24M503,843.5h3M569,843.5h21M635,843.5h33M677,843.5h6M704,843.5h12M860,843.5h12M893,843.5h18M914,843.5h15M935,843.5h15M959,843.5h12M977,843.5h6M1052,843.5h15M1217,843.5h6M1268,843.5h6M1352,843.5h3M1367,843.5h9M1433,843.5h6M1451,843.5h15M1505,843.5h3M1514,843.5h6M1535,843.5h3M80,846.5h18M110,846.5h9M137,846.5h3M182,846.5h3M209,846.5h3M275,846.5h18M302,846.5h6M320,846.5h6M335,846.5h6M368,846.5h9M380,846.5h3M386,846.5h9M422,846.5h12M446,846.5h9M461,846.5h6M506,846.5h6M572,846.5h15M629,846.5h3M641,846.5h6M662,846.5h6M674,846.5h6M695,846.5h6M707,846.5h9M767,846.5h3M776,846.5h6M833,846.5h15M869,846.5h33M908,846.5h9M926,846.5h21M962,846.5h12M977,846.5h6M998,846.5h21M1055,846.5h9M1244,846.5h3M1268,846.5h3M1301,846.5h18M1364,846.5h3M1433,846.5h21M1457,846.5h6M1502,846.5h15M1532,846.5h6M80,849.5h3M107,849.5h3M131,849.5h18M161,849.5h3M176,849.5h3M233,849.5h3M278,849.5h9M290,849.5h6M308,849.5h3M326,849.5h3M374,849.5h3M425,849.5h21M455,849.5h15M545,849.5h3M557,849.5h3M575,849.5h6M590,849.5h3M614,849.5h3M629,849.5h15M656,849.5h6M680,849.5h6M716,849.5h3M767,849.5h9M902,849.5h24M932,849.5h21M959,849.5h18M1001,849.5h18M1079,849.5h12M1298,849.5h6M1346,849.5h3M1376,849.5h3M1400,849.5h3M1427,849.5h9M1439,849.5h6M1451,849.5h12M1478,849.5h6M1505,849.5h9M83,852.5h3M92,852.5h6M107,852.5h3M134,852.5h6M152,852.5h3M161,852.5h6M182,852.5h6M236,852.5h6M299,852.5h3M305,852.5h6M428,852.5h6M440,852.5h30M482,852.5h12M584,852.5h15M629,852.5h9M647,852.5h12M680,852.5h24M725,852.5h3M767,852.5h12M911,852.5h3M938,852.5h18M959,852.5h15M986,852.5h3M1082,852.5h6M1277,852.5h3M1298,852.5h12M1337,852.5h12M1376,852.5h3M1394,852.5h6M1406,852.5h9M1427,852.5h6M1436,852.5h3M1457,852.5h6M1475,852.5h3M1481,852.5h6M1496,852.5h18M83,855.5h3M92,855.5h6M101,855.5h3M107,855.5h3M140,855.5h3M155,855.5h12M185,855.5h6M233,855.5h12M305,855.5h9M377,855.5h3M440,855.5h12M488,855.5h6M572,855.5h6M593,855.5h12M641,855.5h3M677,855.5h3M695,855.5h9M716,855.5h12M761,855.5h15M800,855.5h6M866,855.5h3M884,855.5h3M908,855.5h12M935,855.5h15M971,855.5h15M1049,855.5h12M1253,855.5h6M1271,855.5h21M1322,855.5h15M1340,855.5h12M1388,855.5h9M1400,855.5h6M1412,855.5h3M1424,855.5h12M1472,855.5h3M1490,855.5h6M1505,855.5h12M83,858.5h6M98,858.5h12M158,858.5h3M185,858.5h3M191,858.5h3M218,858.5h9M236,858.5h9M302,858.5h15M377,858.5h6M410,858.5h3M428,858.5h24M476,858.5h3M488,858.5h6M497,858.5h3M536,858.5h6M596,858.5h12M626,858.5h3M641,858.5h6M677,858.5h3M695,858.5h27M743,858.5h3M755,858.5h3M761,858.5h24M911,858.5h9M932,858.5h24M962,858.5h12M1010,858.5h3M1049,858.5h3M1058,858.5h6M1253,858.5h3M1271,858.5h15M1319,858.5h18M1343,858.5h3M1388,858.5h15M1409,858.5h3M1418,858.5h15M1457,858.5h6M1469,858.5h3M1481,858.5h15M1508,858.5h9M1535,858.5h3M101,861.5h3M113,861.5h3M149,861.5h3M158,861.5h3M188,861.5h3M194,861.5h3M224,861.5h9M236,861.5h12M281,861.5h6M308,861.5h6M317,861.5h3M380,861.5h9M443,861.5h6M479,861.5h21M527,861.5h3M539,861.5h6M611,861.5h12M647,861.5h3M680,861.5h6M689,861.5h33M755,861.5h6M773,861.5h6M782,861.5h9M905,861.5h12M938,861.5h21M971,861.5h12M1001,861.5h12M1043,861.5h6M1055,861.5h6M1250,861.5h3M1277,861.5h3M1307,861.5h12M1322,861.5h12M1343,861.5h3M1385,861.5h9M1397,861.5h12M1412,861.5h3M1418,861.5h18M1439,861.5h6M1451,861.5h3M1463,861.5h9M1478,861.5h6M1490,861.5h18M1517,861.5h21M86,864.5h3M98,864.5h9M119,864.5h3M137,864.5h3M155,864.5h3M161,864.5h3M197,864.5h9M227,864.5h18M281,864.5h12M299,864.5h3M314,864.5h6M356,864.5h3M368,864.5h9M380,864.5h6M392,864.5h6M404,864.5h9M440,864.5h12M482,864.5h15M524,864.5h6M539,864.5h9M632,864.5h9M659,864.5h27M689,864.5h6M701,864.5h18M752,864.5h6M926,864.5h51M989,864.5h9M1013,864.5h18M1040,864.5h3M1247,864.5h6M1304,864.5h3M1310,864.5h3M1331,864.5h3M1340,864.5h3M1382,864.5h3M1397,864.5h9M1409,864.5h3M1415,864.5h9M1427,864.5h12M1445,864.5h6M1463,864.5h15M1514,864.5h21M89,867.5h12M104,867.5h3M125,867.5h3M161,867.5h3M200,867.5h3M209,867.5h3M221,867.5h12M245,867.5h9M281,867.5h12M317,867.5h6M338,867.5h3M356,867.5h6M371,867.5h6M386,867.5h12M407,867.5h12M437,867.5h6M449,867.5h6M485,867.5h27M530,867.5h9M542,867.5h9M581,867.5h9M614,867.5h3M632,867.5h12M665,867.5h18M698,867.5h6M707,867.5h15M752,867.5h6M896,867.5h6M932,867.5h18M953,867.5h21M998,867.5h6M1013,867.5h6M1025,867.5h24M1244,867.5h6M1268,867.5h3M1304,867.5h6M1313,867.5h9M1331,867.5h9M1355,867.5h9M1373,867.5h6M1397,867.5h12M1427,867.5h12M1460,867.5h6M1469,867.5h6M1487,867.5h3M1523,867.5h3M122,870.5h6M137,870.5h3M194,870.5h6M215,870.5h6M230,870.5h6M251,870.5h3M284,870.5h6M305,870.5h3M341,870.5h3M359,870.5h18M389,870.5h6M410,870.5h9M431,870.5h3M446,870.5h3M452,870.5h6M530,870.5h12M611,870.5h3M641,870.5h15M662,870.5h6M671,870.5h6M683,870.5h21M713,870.5h9M731,870.5h6M749,870.5h15M926,870.5h15M956,870.5h3M965,870.5h6M995,870.5h12M1022,870.5h6M1226,870.5h3M1274,870.5h3M1304,870.5h3M1310,870.5h12M1352,870.5h6M1370,870.5h6M1394,870.5h3M1400,870.5h6M1421,870.5h6M1433,870.5h3M1445,870.5h3M1451,870.5h9M1463,870.5h12M1484,870.5h3M1517,870.5h3M125,873.5h6M137,873.5h3M191,873.5h3M215,873.5h18M311,873.5h12M362,873.5h18M413,873.5h6M434,873.5h6M446,873.5h3M458,873.5h3M524,873.5h9M542,873.5h3M641,873.5h9M668,873.5h15M698,873.5h6M710,873.5h9M728,873.5h12M755,873.5h9M836,873.5h3M926,873.5h15M953,873.5h6M971,873.5h15M1184,873.5h3M1298,873.5h6M1313,873.5h3M1370,873.5h12M1391,873.5h3M1403,873.5h3M1409,873.5h9M1436,873.5h6M1448,873.5h18M1469,873.5h6M1505,873.5h3M1514,873.5h3M1532,873.5h6M128,876.5h3M134,876.5h3M146,876.5h3M182,876.5h15M212,876.5h6M227,876.5h3M260,876.5h3M314,876.5h6M323,876.5h3M362,876.5h12M431,876.5h9M443,876.5h21M524,876.5h27M593,876.5h3M611,876.5h3M641,876.5h9M653,876.5h9M674,876.5h6M695,876.5h15M725,876.5h15M770,876.5h12M875,876.5h3M926,876.5h6M944,876.5h9M977,876.5h6M1043,876.5h6M1181,876.5h3M1292,876.5h9M1319,876.5h6M1367,876.5h12M1388,876.5h3M1400,876.5h6M1442,876.5h15M1460,876.5h9M1505,876.5h6M89,879.5h6M128,879.5h3M146,879.5h6M164,879.5h3M182,879.5h9M197,879.5h6M212,879.5h6M320,879.5h9M368,879.5h3M434,879.5h18M455,879.5h6M527,879.5h21M590,879.5h9M611,879.5h15M644,879.5h45M704,879.5h6M929,879.5h18M953,879.5h6M962,879.5h21M1001,879.5h9M1037,879.5h9M1250,879.5h12M1289,879.5h3M1316,879.5h3M1322,879.5h3M1358,879.5h3M1373,879.5h3M1385,879.5h18M1415,879.5h9M1442,879.5h3M1448,879.5h18M1481,879.5h6M1499,879.5h9M1514,879.5h6M80,882.5h21M104,882.5h6M116,882.5h9M131,882.5h3M146,882.5h9M167,882.5h6M185,882.5h6M203,882.5h3M209,882.5h9M221,882.5h3M278,882.5h6M392,882.5h6M410,882.5h3M437,882.5h24M521,882.5h12M542,882.5h9M572,882.5h3M593,882.5h21M626,882.5h3M650,882.5h66M749,882.5h3M770,882.5h3M827,882.5h9M944,882.5h3M956,882.5h18M983,882.5h6M1247,882.5h6M1256,882.5h3M1313,882.5h9M1355,882.5h9M1373,882.5h3M1385,882.5h6M1394,882.5h6M1415,882.5h6M1433,882.5h9M1448,882.5h6M1460,882.5h3M1472,882.5h3M1484,882.5h3M1493,882.5h6M1502,882.5h3M1508,882.5h3M1514,882.5h3M80,885.5h12M101,885.5h6M110,885.5h3M122,885.5h6M131,885.5h3M146,885.5h15M167,885.5h9M191,885.5h3M209,885.5h12M227,885.5h3M236,885.5h6M278,885.5h3M287,885.5h3M362,885.5h6M392,885.5h3M401,885.5h3M443,885.5h3M518,885.5h27M587,885.5h9M626,885.5h6M647,885.5h3M656,885.5h6M668,885.5h27M698,885.5h9M728,885.5h3M758,885.5h6M773,885.5h3M923,885.5h6M947,885.5h6M959,885.5h12M986,885.5h6M998,885.5h12M1247,885.5h6M1310,885.5h9M1331,885.5h6M1352,885.5h3M1358,885.5h6M1373,885.5h3M1379,885.5h6M1391,885.5h6M1433,885.5h9M1445,885.5h6M1460,885.5h12M1481,885.5h3M1490,885.5h3M1499,885.5h12M89,888.5h3M104,888.5h3M113,888.5h3M137,888.5h3M152,888.5h9M173,888.5h21M215,888.5h6M230,888.5h24M275,888.5h6M302,888.5h3M335,888.5h6M365,888.5h3M392,888.5h15M518,888.5h21M584,888.5h12M605,888.5h6M620,888.5h6M644,888.5h18M668,888.5h18M758,888.5h12M935,888.5h6M947,888.5h6M959,888.5h15M983,888.5h3M995,888.5h3M1100,888.5h9M1295,888.5h9M1328,888.5h15M1349,888.5h3M1355,888.5h6M1376,888.5h21M1430,888.5h3M1445,888.5h3M1457,888.5h3M1466,888.5h21M1499,888.5h6M1526,888.5h3M110,891.5h3M116,891.5h3M146,891.5h3M158,891.5h3M179,891.5h6M194,891.5h6M221,891.5h3M233,891.5h9M245,891.5h6M281,891.5h3M290,891.5h3M332,891.5h3M338,891.5h3M392,891.5h3M404,891.5h9M494,891.5h9M518,891.5h3M527,891.5h12M587,891.5h42M647,891.5h3M659,891.5h12M749,891.5h6M767,891.5h6M926,891.5h48M980,891.5h6M989,891.5h24M1022,891.5h9M1100,891.5h6M1280,891.5h3M1292,891.5h9M1316,891.5h3M1331,891.5h27M1376,891.5h3M1391,891.5h6M1436,891.5h3M1442,891.5h15M1499,891.5h9M92,894.5h6M113,894.5h3M119,894.5h3M152,894.5h3M164,894.5h6M182,894.5h6M197,894.5h12M224,894.5h9M236,894.5h3M242,894.5h3M248,894.5h6M275,894.5h3M329,894.5h9M398,894.5h18M458,894.5h6M509,894.5h15M530,894.5h3M590,894.5h12M608,894.5h12M623,894.5h6M650,894.5h12M665,894.5h3M692,894.5h6M761,894.5h12M914,894.5h9M932,894.5h9M956,894.5h6M965,894.5h3M974,894.5h6M989,894.5h27M1025,894.5h6M1046,894.5h15M1310,894.5h6M1331,894.5h27M1361,894.5h3M1391,894.5h3M1430,894.5h6M1445,894.5h9M1475,894.5h3M1493,894.5h9M1508,894.5h3M1535,894.5h3M98,897.5h6M116,897.5h9M128,897.5h12M158,897.5h3M170,897.5h3M182,897.5h9M194,897.5h15M227,897.5h6M236,897.5h3M245,897.5h3M257,897.5h6M278,897.5h15M296,897.5h3M329,897.5h9M359,897.5h15M410,897.5h6M473,897.5h12M521,897.5h12M557,897.5h9M590,897.5h36M644,897.5h12M662,897.5h6M683,897.5h21M764,897.5h6M803,897.5h6M827,897.5h3M905,897.5h3M923,897.5h6M956,897.5h3M965,897.5h18M986,897.5h39M1043,897.5h18M1298,897.5h12M1337,897.5h3M1343,897.5h3M1358,897.5h6M1424,897.5h3M1430,897.5h3M1442,897.5h12M1472,897.5h12M1496,897.5h3M1514,897.5h6M1532,897.5h6M119,900.5h3M131,900.5h3M137,900.5h3M161,900.5h15M182,900.5h18M233,900.5h3M248,900.5h3M260,900.5h6M281,900.5h9M293,900.5h9M326,900.5h9M413,900.5h9M452,900.5h3M470,900.5h3M485,900.5h9M500,900.5h9M527,900.5h9M554,900.5h12M641,900.5h3M656,900.5h6M680,900.5h6M692,900.5h9M710,900.5h3M755,900.5h18M791,900.5h18M839,900.5h6M905,900.5h6M914,900.5h6M959,900.5h27M1043,900.5h6M1052,900.5h9M1157,900.5h15M1295,900.5h12M1322,900.5h6M1349,900.5h15M1373,900.5h6M1418,900.5h3M1427,900.5h3M1439,900.5h12M1457,900.5h3M1493,900.5h3M1505,900.5h3M1514,900.5h3M131,903.5h3M137,903.5h6M164,903.5h12M188,903.5h3M230,903.5h9M251,903.5h3M260,903.5h9M281,903.5h12M329,903.5h9M422,903.5h3M428,903.5h6M473,903.5h3M482,903.5h27M557,903.5h15M641,903.5h3M662,903.5h3M680,903.5h15M704,903.5h6M713,903.5h6M749,903.5h27M824,903.5h6M842,903.5h3M905,903.5h6M926,903.5h12M953,903.5h15M1046,903.5h12M1079,903.5h6M1163,903.5h9M1205,903.5h12M1295,903.5h6M1310,903.5h9M1322,903.5h3M1355,903.5h6M1373,903.5h3M1415,903.5h3M1424,903.5h3M1433,903.5h3M1448,903.5h9M1490,903.5h12M128,906.5h21M170,906.5h3M206,906.5h9M227,906.5h15M254,906.5h3M260,906.5h9M278,906.5h6M287,906.5h6M332,906.5h9M425,906.5h15M479,906.5h3M497,906.5h9M623,906.5h3M629,906.5h3M662,906.5h6M680,906.5h3M704,906.5h6M752,906.5h24M785,906.5h3M818,906.5h24M914,906.5h21M953,906.5h6M965,906.5h6M977,906.5h6M995,906.5h9M1049,906.5h6M1076,906.5h3M1166,906.5h3M1205,906.5h9M1292,906.5h9M1307,906.5h3M1322,906.5h3M1352,906.5h9M1409,906.5h6M1421,906.5h9M1448,906.5h9M1490,906.5h6M1505,906.5h6" stroke="#facdb5"/>
<path d="M80,171.5h60M146,171.5h12M161,171.5h102M275,171.5h9M314,171.5h9M374,171.5h6M440,171.5h9M455,171.5h21M491,171.5h15M515,171.5h33M905,171.5h30M1169,171.5h18M1373,171.5h48M80,174.5h51M134,174.5h69M212,174.5h54M272,174.5h18M314,174.5h9M437,174.5h36M491,174.5h42M542,174.5h3M905,174.5h33M1169,174.5h15M1373,174.5h48M80,177.5h30M137,177.5h30M179,177.5h24M209,177.5h84M314,177.5h9M401,177.5h12M440,177.5h15M485,177.5h15M509,177.5h24M905,177.5h33M1169,177.5h12M1370,177.5h15M1394,177.5h27M80,180.5h15M140,180.5h27M179,180.5h42M230,180.5h69M314,180.5h9M440,180.5h18M482,180.5h15M512,180.5h21M905,180.5h33M1178,180.5h9M1376,180.5h3M1388,180.5h36M80,183.5h3M140,183.5h30M176,183.5h48M233,183.5h69M314,183.5h15M443,183.5h30M485,183.5h45M905,183.5h42M1166,183.5h24M1328,183.5h6M1379,183.5h36M80,186.5h3M140,186.5h15M164,186.5h30M197,186.5h30M230,186.5h45M278,186.5h21M317,186.5h15M461,186.5h18M488,186.5h39M908,186.5h33M1169,186.5h3M1178,186.5h9M1223,186.5h6M1379,186.5h33M80,189.5h3M164,189.5h33M200,189.5h93M320,189.5h18M395,189.5h18M464,189.5h39M515,189.5h12M908,189.5h30M1226,189.5h6M1337,189.5h3M1376,189.5h33M1424,189.5h6M155,192.5h138M314,192.5h30M395,192.5h24M461,192.5h42M515,192.5h15M905,192.5h36M1145,192.5h12M1337,192.5h9M1376,192.5h36M1418,192.5h18M155,195.5h54M215,195.5h57M278,195.5h18M314,195.5h12M332,195.5h12M398,195.5h21M461,195.5h42M515,195.5h27M905,195.5h42M1145,195.5h15M1352,195.5h9M1364,195.5h48M1418,195.5h15M1529,195.5h9M158,198.5h51M215,198.5h39M260,198.5h39M314,198.5h30M395,198.5h27M461,198.5h42M512,198.5h30M911,198.5h39M1151,198.5h9M1364,198.5h42M1418,198.5h12M1526,198.5h12M167,201.5h135M314,201.5h30M392,201.5h30M461,201.5h45M515,201.5h30M869,201.5h15M914,201.5h39M1346,201.5h57M1421,201.5h9M170,204.5h90M266,204.5h36M311,204.5h15M332,204.5h6M395,204.5h27M461,204.5h48M518,204.5h24M875,204.5h9M923,204.5h27M962,204.5h3M1316,204.5h15M1337,204.5h36M1382,204.5h18M1424,204.5h6M1502,204.5h6M155,207.5h150M308,207.5h15M404,207.5h12M464,207.5h42M521,207.5h21M926,207.5h42M1280,207.5h27M1316,207.5h81M161,210.5h144M311,210.5h12M404,210.5h12M470,210.5h39M518,210.5h24M929,210.5h39M1277,210.5h117M167,213.5h51M224,213.5h78M311,213.5h12M398,213.5h24M479,213.5h69M896,213.5h9M938,213.5h45M1271,213.5h9M1295,213.5h90M1448,213.5h6M116,216.5h6M143,216.5h12M164,216.5h27M194,216.5h102M314,216.5h9M395,216.5h39M482,216.5h69M929,216.5h33M968,216.5h48M1298,216.5h81M1445,216.5h9M113,219.5h12M152,219.5h9M164,219.5h36M209,219.5h84M314,219.5h9M398,219.5h42M488,219.5h18M515,219.5h33M842,219.5h9M926,219.5h30M1004,219.5h15M1160,219.5h9M1298,219.5h42M1346,219.5h30M128,222.5h9M146,222.5h18M167,222.5h30M212,222.5h81M314,222.5h9M398,222.5h42M491,222.5h15M518,222.5h27M860,222.5h6M887,222.5h3M929,222.5h15M1013,222.5h6M1157,222.5h15M1229,222.5h9M1298,222.5h78M137,225.5h27M182,225.5h15M209,225.5h84M314,225.5h12M395,225.5h60M485,225.5h21M518,225.5h21M857,225.5h9M884,225.5h9M917,225.5h3M935,225.5h6M1019,225.5h9M1166,225.5h3M1298,225.5h75M140,228.5h21M182,228.5h42M236,228.5h57M314,228.5h15M398,228.5h57M482,228.5h24M509,228.5h30M854,228.5h12M884,228.5h12M935,228.5h6M1025,228.5h9M1202,228.5h6M1304,228.5h63M149,231.5h12M179,231.5h45M236,231.5h63M326,231.5h9M401,231.5h54M482,231.5h30M515,231.5h15M854,231.5h15M878,231.5h18M935,231.5h6M965,231.5h3M1028,231.5h6M1292,231.5h60M1355,231.5h15M152,234.5h12M173,234.5h129M326,234.5h21M404,234.5h54M482,234.5h27M512,234.5h12M851,234.5h15M872,234.5h21M932,234.5h9M1028,234.5h6M1160,234.5h6M1292,234.5h15M1313,234.5h57M1427,234.5h3M158,237.5h3M176,237.5h54M236,237.5h3M251,237.5h54M326,237.5h33M404,237.5h57M479,237.5h30M854,237.5h45M923,237.5h15M1028,237.5h9M1211,237.5h3M1286,237.5h15M1322,237.5h51M128,240.5h6M179,240.5h57M251,240.5h21M275,240.5h12M293,240.5h12M335,240.5h24M401,240.5h45M452,240.5h9M488,240.5h21M851,240.5h51M920,240.5h3M1025,240.5h15M1280,240.5h36M1322,240.5h63M95,243.5h9M128,243.5h21M179,243.5h60M251,243.5h33M287,243.5h30M338,243.5h18M392,243.5h48M446,243.5h18M488,243.5h18M842,243.5h66M1025,243.5h18M1280,243.5h75M101,246.5h15M131,246.5h21M203,246.5h36M254,246.5h42M305,246.5h15M338,246.5h15M398,246.5h66M839,246.5h12M860,246.5h21M893,246.5h9M926,246.5h3M935,246.5h12M1031,246.5h12M1151,246.5h6M1253,246.5h96M110,249.5h3M206,249.5h33M254,249.5h39M308,249.5h15M341,249.5h27M404,249.5h57M515,249.5h3M575,249.5h15M836,249.5h18M866,249.5h15M917,249.5h9M941,249.5h12M1031,249.5h12M1253,249.5h54M1316,249.5h30M203,252.5h9M215,252.5h81M341,252.5h15M404,252.5h12M419,252.5h60M515,252.5h9M548,252.5h45M599,252.5h6M839,252.5h15M866,252.5h21M911,252.5h6M950,252.5h12M977,252.5h9M1031,252.5h27M1253,252.5h54M1316,252.5h30M1406,252.5h15M203,255.5h93M338,255.5h21M404,255.5h12M425,255.5h18M452,255.5h45M503,255.5h111M713,255.5h9M839,255.5h18M866,255.5h6M875,255.5h15M908,255.5h3M956,255.5h36M1013,255.5h45M1259,255.5h63M1331,255.5h15M1406,255.5h12M203,258.5h93M338,258.5h24M404,258.5h15M428,258.5h9M470,258.5h78M551,258.5h66M713,258.5h6M839,258.5h51M905,258.5h3M977,258.5h57M1043,258.5h18M1253,258.5h66M1334,258.5h12M1400,258.5h3M206,261.5h87M338,261.5h15M356,261.5h6M404,261.5h30M476,261.5h3M488,261.5h129M716,261.5h3M839,261.5h39M887,261.5h3M899,261.5h6M983,261.5h48M1046,261.5h12M1250,261.5h12M1265,261.5h57M1397,261.5h12M212,264.5h81M338,264.5h12M356,264.5h6M401,264.5h33M491,264.5h18M521,264.5h99M851,264.5h9M863,264.5h15M887,264.5h6M896,264.5h3M947,264.5h6M992,264.5h33M1049,264.5h3M1238,264.5h6M1253,264.5h72M1403,264.5h12M221,267.5h75M308,267.5h3M338,267.5h12M356,267.5h6M398,267.5h24M491,267.5h18M524,267.5h96M722,267.5h3M869,267.5h9M995,267.5h30M1235,267.5h12M1253,267.5h72M224,270.5h33M263,270.5h27M356,270.5h6M398,270.5h18M494,270.5h21M524,270.5h99M722,270.5h3M992,270.5h33M1229,270.5h96M1535,270.5h3M224,273.5h30M266,273.5h9M359,273.5h6M374,273.5h39M494,273.5h33M533,273.5h15M557,273.5h78M962,273.5h9M986,273.5h48M1223,273.5h102M149,276.5h6M224,276.5h45M359,276.5h33M494,276.5h36M533,276.5h15M557,276.5h45M608,276.5h42M962,276.5h6M983,276.5h51M1217,276.5h108M227,279.5h75M365,279.5h6M491,279.5h105M611,279.5h42M983,279.5h51M1205,279.5h51M1262,279.5h60M242,282.5h57M371,282.5h9M482,282.5h69M575,282.5h21M611,282.5h42M983,282.5h54M1214,282.5h105M164,285.5h6M239,285.5h60M371,285.5h6M479,285.5h51M572,285.5h27M608,285.5h42M986,285.5h57M1223,285.5h9M1238,285.5h33M1277,285.5h15M1301,285.5h12M152,288.5h18M242,288.5h57M476,288.5h60M575,288.5h75M995,288.5h12M1013,288.5h30M1220,288.5h9M1247,288.5h63M1484,288.5h6M155,291.5h12M245,291.5h39M299,291.5h6M374,291.5h3M470,291.5h66M575,291.5h39M629,291.5h18M989,291.5h18M1013,291.5h27M1217,291.5h12M1250,291.5h60M1481,291.5h12M152,294.5h12M242,294.5h33M302,294.5h21M368,294.5h12M464,294.5h36M503,294.5h33M578,294.5h3M599,294.5h18M623,294.5h27M983,294.5h6M1001,294.5h6M1016,294.5h18M1220,294.5h9M1232,294.5h75M1484,294.5h9M152,297.5h15M242,297.5h33M305,297.5h21M362,297.5h18M404,297.5h6M446,297.5h42M506,297.5h30M575,297.5h6M599,297.5h54M1001,297.5h6M1022,297.5h12M1220,297.5h87M152,300.5h18M242,300.5h30M305,300.5h24M362,300.5h24M401,300.5h30M446,300.5h42M503,300.5h36M560,300.5h30M593,300.5h48M650,300.5h3M986,300.5h3M1001,300.5h6M1043,300.5h3M1220,300.5h81M116,303.5h3M155,303.5h18M245,303.5h27M305,303.5h27M362,303.5h75M443,303.5h99M557,303.5h87M986,303.5h30M1037,303.5h12M1220,303.5h72M1310,303.5h12M80,306.5h6M110,306.5h9M251,306.5h12M308,306.5h36M359,306.5h18M401,306.5h18M425,306.5h126M554,306.5h93M986,306.5h84M1220,306.5h27M1262,306.5h27M1313,306.5h6M80,309.5h15M113,309.5h3M314,309.5h12M341,309.5h21M404,309.5h12M434,309.5h117M563,309.5h60M629,309.5h18M986,309.5h84M1223,309.5h24M1259,309.5h30M80,312.5h15M314,312.5h12M341,312.5h12M440,312.5h69M521,312.5h39M569,312.5h36M614,312.5h9M629,312.5h21M986,312.5h45M1043,312.5h30M1223,312.5h63M1325,312.5h9M80,315.5h3M128,315.5h12M314,315.5h30M458,315.5h15M482,315.5h6M524,315.5h66M596,315.5h3M629,315.5h24M995,315.5h24M1037,315.5h36M1223,315.5h27M1262,315.5h24M1319,315.5h15M125,318.5h18M314,318.5h18M458,318.5h18M479,318.5h9M518,318.5h9M539,318.5h48M614,318.5h6M626,318.5h27M1001,318.5h21M1031,318.5h45M1223,318.5h27M1268,318.5h15M1313,318.5h12M125,321.5h18M314,321.5h9M461,321.5h24M500,321.5h6M512,321.5h12M539,321.5h51M602,321.5h3M611,321.5h42M998,321.5h63M1070,321.5h6M1220,321.5h33M1271,321.5h3M1346,321.5h9M125,324.5h9M467,324.5h15M500,324.5h21M536,324.5h18M566,324.5h6M599,324.5h9M614,324.5h39M998,324.5h69M1220,324.5h18M1349,324.5h3M122,327.5h9M476,327.5h9M497,327.5h21M533,327.5h21M599,327.5h12M617,327.5h6M632,327.5h18M1001,327.5h15M1019,327.5h51M1220,327.5h6M1229,327.5h12M119,330.5h12M476,330.5h9M497,330.5h6M509,330.5h9M530,330.5h21M596,330.5h18M635,330.5h6M656,330.5h9M1007,330.5h6M1022,330.5h30M1058,330.5h15M1232,330.5h12M473,333.5h12M488,333.5h15M530,333.5h12M596,333.5h6M605,333.5h9M1007,333.5h9M1025,333.5h33M1082,333.5h9M1232,333.5h6M1331,333.5h6M470,336.5h6M485,336.5h15M596,336.5h15M1010,336.5h6M1028,336.5h33M473,339.5h18M596,339.5h30M635,339.5h9M854,339.5h3M1016,339.5h45M476,342.5h12M596,342.5h30M635,342.5h15M836,342.5h12M854,342.5h6M1025,342.5h33M593,345.5h30M638,345.5h9M818,345.5h33M854,345.5h15M1028,345.5h9M1046,345.5h6M1520,345.5h9M593,348.5h45M806,348.5h18M827,348.5h33M866,348.5h12M1004,348.5h3M1034,348.5h18M1520,348.5h9M596,351.5h42M803,351.5h6M827,351.5h6M842,351.5h18M875,351.5h3M881,351.5h3M890,351.5h3M1034,351.5h12M1265,351.5h6M1295,351.5h9M596,354.5h57M797,354.5h9M830,354.5h30M872,354.5h12M1289,354.5h12M98,357.5h3M596,357.5h69M788,357.5h15M830,357.5h30M872,357.5h12M1280,357.5h24M1535,357.5h3M596,360.5h78M677,360.5h9M785,360.5h18M827,360.5h36M869,360.5h21M1244,360.5h6M1253,360.5h6M1265,360.5h9M1286,360.5h21M1316,360.5h6M1535,360.5h3M593,363.5h9M608,363.5h78M779,363.5h27M812,363.5h69M1244,363.5h30M1286,363.5h21M1310,363.5h9M491,366.5h9M596,366.5h81M776,366.5h105M1031,366.5h3M1250,366.5h18M1283,366.5h18M1313,366.5h6M494,369.5h3M596,369.5h81M776,369.5h105M1031,369.5h9M1061,369.5h3M1082,369.5h12M1250,369.5h36M596,372.5h81M779,372.5h54M839,372.5h39M1028,372.5h15M1055,372.5h9M1079,372.5h12M1247,372.5h39M599,375.5h78M779,375.5h81M878,375.5h15M1025,375.5h21M1082,375.5h9M1244,375.5h42M599,378.5h54M665,378.5h12M782,378.5h45M833,378.5h18M875,378.5h9M1022,378.5h30M1079,378.5h12M1244,378.5h51M599,381.5h24M632,381.5h18M665,381.5h12M782,381.5h57M875,381.5h6M1013,381.5h24M1043,381.5h9M1244,381.5h51M602,384.5h6M614,384.5h9M632,384.5h15M665,384.5h15M794,384.5h42M878,384.5h3M893,384.5h3M1013,384.5h39M1058,384.5h3M1244,384.5h45M452,387.5h12M602,387.5h24M632,387.5h6M659,387.5h24M812,387.5h21M878,387.5h6M1010,387.5h57M1244,387.5h48M452,390.5h6M605,390.5h36M650,390.5h30M881,390.5h6M893,390.5h3M1007,390.5h33M1055,390.5h9M1247,390.5h48M605,393.5h72M878,393.5h9M893,393.5h3M1004,393.5h9M1019,393.5h24M1250,393.5h15M1274,393.5h21M605,396.5h24M632,396.5h6M647,396.5h24M881,396.5h12M998,396.5h48M1253,396.5h6M1274,396.5h24M602,399.5h9M623,399.5h6M635,399.5h3M647,399.5h21M884,399.5h6M995,399.5h30M1034,399.5h12M1250,399.5h9M1271,399.5h27M344,402.5h6M380,402.5h12M602,402.5h9M626,402.5h3M638,402.5h3M644,402.5h27M995,402.5h30M1037,402.5h18M1247,402.5h9M1268,402.5h27M341,405.5h12M380,405.5h12M599,405.5h12M626,405.5h3M638,405.5h30M710,405.5h18M995,405.5h18M1016,405.5h12M1031,405.5h27M1250,405.5h45M341,408.5h18M602,408.5h9M629,408.5h3M641,408.5h21M725,408.5h12M998,408.5h9M1016,408.5h42M1256,408.5h39M341,411.5h15M602,411.5h9M641,411.5h18M1016,411.5h6M1037,411.5h36M1271,411.5h24M1514,411.5h6M605,414.5h6M644,414.5h18M1013,414.5h9M1043,414.5h6M1052,414.5h21M1271,414.5h21M248,417.5h12M281,417.5h6M605,417.5h9M635,417.5h3M644,417.5h15M743,417.5h6M1010,417.5h12M1058,417.5h15M1277,417.5h9M242,420.5h21M278,420.5h6M605,420.5h9M635,420.5h3M644,420.5h12M704,420.5h24M743,420.5h9M980,420.5h15M1004,420.5h3M1016,420.5h3M1064,420.5h9M1280,420.5h3M1520,420.5h9M236,423.5h21M275,423.5h3M602,423.5h15M635,423.5h3M647,423.5h9M689,423.5h6M701,423.5h24M743,423.5h3M971,423.5h24M1004,423.5h3M1016,423.5h3M1067,423.5h9M1262,423.5h21M1523,423.5h9M227,426.5h57M602,426.5h12M647,426.5h6M710,426.5h9M734,426.5h3M740,426.5h3M971,426.5h24M1001,426.5h3M1067,426.5h9M1526,426.5h6M218,429.5h72M299,429.5h9M602,429.5h12M638,429.5h3M647,429.5h6M734,429.5h9M971,429.5h12M989,429.5h15M1070,429.5h9M1523,429.5h6M206,432.5h99M341,432.5h18M599,432.5h15M650,432.5h3M968,432.5h12M989,432.5h15M1073,432.5h6M206,435.5h9M227,435.5h42M278,435.5h27M341,435.5h15M599,435.5h18M641,435.5h3M965,435.5h39M1073,435.5h6M1487,435.5h3M209,438.5h3M224,438.5h48M281,438.5h21M320,438.5h15M347,438.5h9M599,438.5h21M641,438.5h3M962,438.5h42M1070,438.5h9M221,441.5h69M296,441.5h6M332,441.5h21M479,441.5h15M602,441.5h18M962,441.5h15M980,441.5h12M1001,441.5h3M1073,441.5h6M1505,441.5h33M200,444.5h12M236,444.5h51M332,444.5h18M461,444.5h36M539,444.5h9M602,444.5h18M644,444.5h9M890,444.5h9M962,444.5h24M998,444.5h6M1073,444.5h9M1511,444.5h27M197,447.5h21M236,447.5h30M335,447.5h6M461,447.5h39M524,447.5h12M605,447.5h18M638,447.5h15M890,447.5h15M965,447.5h18M998,447.5h12M1070,447.5h9M203,450.5h15M236,450.5h24M461,450.5h39M527,450.5h9M551,450.5h15M605,450.5h42M893,450.5h15M968,450.5h15M998,450.5h33M1043,450.5h30M233,453.5h18M440,453.5h12M458,453.5h48M530,453.5h6M548,453.5h15M572,453.5h3M605,453.5h39M896,453.5h15M971,453.5h9M989,453.5h69M230,456.5h9M431,456.5h75M545,456.5h15M575,456.5h9M611,456.5h33M707,456.5h3M899,456.5h18M974,456.5h3M986,456.5h12M1010,456.5h9M1028,456.5h24M233,459.5h3M419,459.5h69M491,459.5h15M617,459.5h12M698,459.5h18M905,459.5h15M992,459.5h9M416,462.5h54M473,462.5h33M518,462.5h24M566,462.5h3M701,462.5h12M905,462.5h15M980,462.5h6M398,465.5h12M413,465.5h12M434,465.5h24M482,465.5h24M518,465.5h36M926,465.5h3M983,465.5h6M1031,465.5h6M398,468.5h12M419,468.5h6M431,468.5h30M491,468.5h18M521,468.5h30M923,468.5h12M983,468.5h6M1013,468.5h3M1022,468.5h15M389,471.5h3M395,471.5h12M422,471.5h21M449,471.5h63M521,471.5h15M548,471.5h3M920,471.5h21M1001,471.5h39M1289,471.5h6M386,474.5h24M419,474.5h6M452,474.5h81M545,474.5h6M653,474.5h15M923,474.5h24M998,474.5h9M1013,474.5h27M1286,474.5h21M1325,474.5h6M383,477.5h36M449,477.5h84M653,477.5h18M926,477.5h12M947,477.5h6M998,477.5h6M1007,477.5h30M1286,477.5h6M1298,477.5h30M383,480.5h30M446,480.5h90M653,480.5h18M926,480.5h9M950,480.5h3M998,480.5h30M1283,480.5h3M1301,480.5h3M1313,480.5h9M383,483.5h12M422,483.5h21M449,483.5h96M653,483.5h9M671,483.5h3M932,483.5h3M950,483.5h3M1001,483.5h3M1007,483.5h27M1283,483.5h3M1301,483.5h6M419,486.5h27M455,486.5h87M668,486.5h6M935,486.5h3M950,486.5h9M1001,486.5h3M1013,486.5h24M1283,486.5h3M1304,486.5h3M410,489.5h39M455,489.5h81M935,489.5h3M950,489.5h12M1001,489.5h15M1025,489.5h9M1283,489.5h3M1304,489.5h6M1319,489.5h9M407,492.5h42M455,492.5h66M944,492.5h12M1283,492.5h3M1307,492.5h33M407,495.5h39M455,495.5h54M1280,495.5h6M1307,495.5h36M1355,495.5h3M407,498.5h30M449,498.5h54M1280,498.5h6M1304,498.5h6M1316,498.5h27M1349,498.5h9M1460,498.5h3M407,501.5h30M443,501.5h12M464,501.5h24M1280,501.5h3M1319,501.5h18M407,504.5h45M467,504.5h18M1280,504.5h3M1319,504.5h18M401,507.5h87M509,507.5h12M533,507.5h24M566,507.5h18M626,507.5h9M1277,507.5h6M1319,507.5h30M398,510.5h123M530,510.5h66M599,510.5h12M623,510.5h12M1274,510.5h6M1319,510.5h6M1331,510.5h33M389,513.5h15M419,513.5h102M527,513.5h108M1268,513.5h12M1319,513.5h36M383,516.5h21M455,516.5h168M1235,516.5h45M1319,516.5h33M362,519.5h9M380,519.5h27M455,519.5h102M566,519.5h57M1235,519.5h45M1325,519.5h12M1340,519.5h15M359,522.5h15M377,522.5h33M461,522.5h39M524,522.5h12M569,522.5h57M1235,522.5h51M1310,522.5h3M1325,522.5h30M356,525.5h60M461,525.5h27M566,525.5h63M1229,525.5h21M1253,525.5h21M1277,525.5h9M1310,525.5h6M1325,525.5h27M326,528.5h90M464,528.5h9M557,528.5h84M1244,528.5h24M1274,528.5h9M1313,528.5h3M1325,528.5h24M314,531.5h105M554,531.5h12M581,531.5h9M599,531.5h48M1247,531.5h18M1271,531.5h9M1307,531.5h42M308,534.5h36M347,534.5h96M554,534.5h9M578,534.5h15M596,534.5h24M641,534.5h48M722,534.5h3M770,534.5h3M1253,534.5h27M1304,534.5h45M302,537.5h39M353,537.5h54M413,537.5h30M557,537.5h9M575,537.5h33M638,537.5h108M767,537.5h15M1007,537.5h3M1253,537.5h33M1307,537.5h39M299,540.5h72M377,540.5h30M413,540.5h33M500,540.5h3M539,540.5h9M563,540.5h48M635,540.5h102M749,540.5h3M764,540.5h15M1004,540.5h12M1025,540.5h15M1259,540.5h30M1304,540.5h39M299,543.5h15M326,543.5h120M584,543.5h36M635,543.5h96M752,543.5h30M1007,543.5h12M1025,543.5h15M1262,543.5h27M1295,543.5h48M302,546.5h12M323,546.5h132M488,546.5h6M581,546.5h45M635,546.5h63M701,546.5h30M752,546.5h30M995,546.5h6M1262,546.5h72M308,549.5h21M332,549.5h126M488,549.5h6M557,549.5h3M578,549.5h66M656,549.5h75M749,549.5h15M770,549.5h12M980,549.5h9M998,549.5h3M1043,549.5h12M1265,549.5h36M1307,549.5h21M311,552.5h108M425,552.5h36M581,552.5h60M656,552.5h87M746,552.5h42M977,552.5h12M1040,552.5h24M1106,552.5h6M1283,552.5h15M1310,552.5h12M314,555.5h81M401,555.5h21M425,555.5h42M497,555.5h9M581,555.5h57M653,555.5h159M968,555.5h27M1013,555.5h9M1037,555.5h30M1295,555.5h3M323,558.5h147M497,558.5h6M581,558.5h93M689,558.5h33M725,558.5h96M830,558.5h12M950,558.5h48M1010,558.5h66M326,561.5h147M581,561.5h48M641,561.5h12M656,561.5h12M692,561.5h144M941,561.5h30M995,561.5h21M1022,561.5h54M1106,561.5h6M326,564.5h105M440,564.5h33M572,564.5h15M605,564.5h9M662,564.5h9M689,564.5h147M938,564.5h30M1001,564.5h15M1028,564.5h15M1046,564.5h30M332,567.5h96M437,567.5h39M566,567.5h12M665,567.5h12M692,567.5h78M785,567.5h54M911,567.5h6M947,567.5h24M1007,567.5h30M1049,567.5h27M1418,567.5h6M131,570.5h3M185,570.5h6M344,570.5h15M365,570.5h54M437,570.5h48M557,570.5h12M668,570.5h102M779,570.5h60M911,570.5h6M944,570.5h30M1013,570.5h27M1049,570.5h27M1418,570.5h12M368,573.5h51M440,573.5h57M554,573.5h9M662,573.5h174M944,573.5h30M1025,573.5h18M1049,573.5h30M1421,573.5h3M380,576.5h21M425,576.5h12M443,576.5h63M548,576.5h12M659,576.5h168M908,576.5h6M941,576.5h36M1028,576.5h15M1052,576.5h30M386,579.5h15M425,579.5h90M545,579.5h15M677,579.5h36M719,579.5h57M779,579.5h45M908,579.5h9M941,579.5h39M1034,579.5h6M1052,579.5h30M395,582.5h6M434,582.5h93M542,582.5h18M677,582.5h30M719,582.5h57M782,582.5h42M908,582.5h15M941,582.5h51M1055,582.5h24M452,585.5h24M485,585.5h75M680,585.5h15M719,585.5h15M743,585.5h78M941,585.5h42M1058,585.5h21M458,588.5h9M491,588.5h72M587,588.5h15M680,588.5h15M704,588.5h27M743,588.5h12M764,588.5h27M794,588.5h12M812,588.5h9M968,588.5h18M992,588.5h12M1058,588.5h21M1481,588.5h6M359,591.5h6M377,591.5h9M395,591.5h9M524,591.5h18M548,591.5h15M578,591.5h21M677,591.5h24M707,591.5h27M743,591.5h3M767,591.5h24M797,591.5h12M812,591.5h6M974,591.5h30M1058,591.5h21M1484,591.5h3M356,594.5h51M428,594.5h3M530,594.5h9M554,594.5h3M581,594.5h15M674,594.5h27M710,594.5h36M770,594.5h18M797,594.5h9M980,594.5h27M1016,594.5h9M1052,594.5h6M1067,594.5h12M293,597.5h3M356,597.5h48M419,597.5h15M581,597.5h15M674,597.5h54M734,597.5h12M773,597.5h15M794,597.5h9M989,597.5h33M1037,597.5h6M1049,597.5h12M1067,597.5h12M356,600.5h39M398,600.5h39M440,600.5h21M674,600.5h42M722,600.5h3M740,600.5h12M770,600.5h30M989,600.5h87M362,603.5h15M386,603.5h9M401,603.5h63M671,603.5h42M740,603.5h57M989,603.5h12M1016,603.5h60M365,606.5h9M389,606.5h15M428,606.5h39M662,606.5h21M695,606.5h6M737,606.5h57M1019,606.5h24M1058,606.5h18M365,609.5h9M386,609.5h6M437,609.5h33M599,609.5h6M656,609.5h24M695,609.5h6M710,609.5h9M734,609.5h27M770,609.5h18M1025,609.5h6M365,612.5h9M377,612.5h9M437,612.5h15M455,612.5h15M659,612.5h21M710,612.5h12M752,612.5h12M770,612.5h18M299,615.5h18M374,615.5h12M434,615.5h15M455,615.5h36M662,615.5h21M707,615.5h18M752,615.5h36M299,618.5h27M377,618.5h12M428,618.5h51M488,618.5h6M506,618.5h12M674,618.5h117M380,621.5h9M395,621.5h9M425,621.5h54M491,621.5h6M503,621.5h21M680,621.5h84M773,621.5h18M827,621.5h3M380,624.5h6M395,624.5h33M431,624.5h48M494,624.5h33M689,624.5h30M731,624.5h33M776,624.5h21M284,627.5h6M377,627.5h12M395,627.5h9M410,627.5h12M440,627.5h9M452,627.5h15M494,627.5h12M518,627.5h9M695,627.5h78M779,627.5h18M287,630.5h9M374,630.5h30M443,630.5h27M485,630.5h21M518,630.5h9M602,630.5h12M701,630.5h72M782,630.5h27M1136,630.5h6M1358,630.5h12M293,633.5h3M374,633.5h3M392,633.5h15M440,633.5h15M458,633.5h33M521,633.5h27M704,633.5h108M1349,633.5h15M293,636.5h9M395,636.5h15M437,636.5h3M452,636.5h36M530,636.5h6M710,636.5h90M1352,636.5h6M1391,636.5h3M401,639.5h3M419,639.5h12M434,639.5h6M464,639.5h12M527,639.5h6M554,639.5h6M728,639.5h45M779,639.5h15M1388,639.5h6M341,642.5h3M359,642.5h12M413,642.5h45M464,642.5h6M524,642.5h6M554,642.5h12M584,642.5h12M731,642.5h36M815,642.5h6M1340,642.5h6M323,645.5h3M356,645.5h15M407,645.5h21M437,645.5h36M482,645.5h12M512,645.5h18M539,645.5h24M569,645.5h24M617,645.5h3M728,645.5h33M788,645.5h12M407,648.5h9M425,648.5h6M437,648.5h18M461,648.5h15M485,648.5h3M512,648.5h18M542,648.5h36M620,648.5h21M731,648.5h33M788,648.5h9M1280,648.5h3M401,651.5h18M428,651.5h21M452,651.5h18M512,651.5h18M551,651.5h15M638,651.5h3M737,651.5h12M758,651.5h6M785,651.5h15M809,651.5h12M827,651.5h6M1274,651.5h9M1358,651.5h9M401,654.5h48M512,654.5h21M554,654.5h9M641,654.5h3M791,654.5h45M1355,654.5h18M149,657.5h6M389,657.5h3M401,657.5h18M440,657.5h12M488,657.5h6M512,657.5h18M557,657.5h9M644,657.5h6M671,657.5h6M704,657.5h6M731,657.5h6M791,657.5h45M1361,657.5h6M146,660.5h12M356,660.5h9M380,660.5h18M407,660.5h6M440,660.5h15M488,660.5h12M509,660.5h21M560,660.5h15M650,660.5h21M701,660.5h9M719,660.5h18M764,660.5h12M791,660.5h9M812,660.5h21M962,660.5h9M1142,660.5h18M1250,660.5h18M131,663.5h27M245,663.5h9M353,663.5h6M374,663.5h15M395,663.5h15M440,663.5h18M464,663.5h90M569,663.5h6M671,663.5h3M701,663.5h6M716,663.5h30M752,663.5h54M809,663.5h18M956,663.5h15M980,663.5h15M1142,663.5h18M1178,663.5h9M1235,663.5h18M1265,663.5h9M1277,663.5h12M128,666.5h30M245,666.5h12M368,666.5h12M386,666.5h6M398,666.5h12M443,666.5h3M455,666.5h15M479,666.5h36M518,666.5h60M674,666.5h3M698,666.5h54M764,666.5h54M947,666.5h54M1139,666.5h48M1226,666.5h6M1265,666.5h21M125,669.5h30M389,669.5h21M428,669.5h12M464,669.5h6M479,669.5h99M674,669.5h27M710,669.5h39M764,669.5h51M944,669.5h45M992,669.5h24M1139,669.5h48M1226,669.5h3M1268,669.5h18M1313,669.5h3M125,672.5h30M407,672.5h6M431,672.5h6M449,672.5h21M479,672.5h93M686,672.5h12M713,672.5h12M740,672.5h6M758,672.5h15M779,672.5h9M791,672.5h24M947,672.5h6M959,672.5h15M980,672.5h9M998,672.5h24M1040,672.5h36M1139,672.5h15M1163,672.5h24M1223,672.5h3M1271,672.5h12M128,675.5h9M140,675.5h12M245,675.5h12M407,675.5h33M452,675.5h9M476,675.5h96M689,675.5h6M734,675.5h6M761,675.5h24M794,675.5h6M806,675.5h21M944,675.5h9M959,675.5h15M995,675.5h18M1019,675.5h33M1064,675.5h18M1124,675.5h30M1163,675.5h30M1202,675.5h6M1220,675.5h3M1271,675.5h3M1280,675.5h6M1490,675.5h6M80,678.5h3M92,678.5h15M116,678.5h3M128,678.5h33M242,678.5h18M413,678.5h45M467,678.5h69M539,678.5h30M686,678.5h6M698,678.5h6M734,678.5h84M941,678.5h15M962,678.5h12M989,678.5h18M1022,678.5h27M1067,678.5h18M1121,678.5h15M1163,678.5h18M1184,678.5h27M1280,678.5h3M1301,678.5h6M1334,678.5h9M1346,678.5h6M1424,678.5h9M1436,678.5h6M1487,678.5h6M1511,678.5h3M80,681.5h9M104,681.5h9M119,681.5h15M137,681.5h30M245,681.5h15M422,681.5h3M437,681.5h15M473,681.5h96M689,681.5h6M701,681.5h6M719,681.5h39M764,681.5h21M788,681.5h9M944,681.5h30M992,681.5h54M1082,681.5h27M1121,681.5h9M1175,681.5h33M1280,681.5h9M1295,681.5h9M1334,681.5h36M1391,681.5h3M1421,681.5h6M1439,681.5h39M1499,681.5h3M1505,681.5h9M1532,681.5h6M80,684.5h12M122,684.5h27M152,684.5h12M245,684.5h15M482,684.5h21M527,684.5h60M602,684.5h9M692,684.5h15M713,684.5h81M800,684.5h24M947,684.5h57M1016,684.5h24M1067,684.5h9M1091,684.5h30M1139,684.5h6M1178,684.5h24M1259,684.5h6M1289,684.5h12M1322,684.5h57M1385,684.5h6M1418,684.5h9M1436,684.5h6M1451,684.5h27M1493,684.5h6M1505,684.5h6M80,687.5h18M122,687.5h9M134,687.5h12M251,687.5h9M302,687.5h9M485,687.5h24M524,687.5h21M548,687.5h6M578,687.5h6M605,687.5h6M692,687.5h24M746,687.5h24M788,687.5h6M809,687.5h9M965,687.5h12M989,687.5h12M1013,687.5h24M1067,687.5h15M1085,687.5h27M1139,687.5h6M1181,687.5h18M1244,687.5h27M1295,687.5h6M1316,687.5h66M1385,687.5h6M1400,687.5h36M1451,687.5h18M1487,687.5h3M1493,687.5h6M80,690.5h27M128,690.5h15M146,690.5h3M161,690.5h3M275,690.5h3M284,690.5h18M311,690.5h3M386,690.5h9M488,690.5h12M524,690.5h24M569,690.5h18M692,690.5h18M743,690.5h9M764,690.5h6M779,690.5h12M803,690.5h6M947,690.5h12M974,690.5h12M1013,690.5h21M1064,690.5h57M1136,690.5h6M1163,690.5h3M1184,690.5h6M1193,690.5h6M1238,690.5h18M1259,690.5h9M1292,690.5h18M1313,690.5h6M1325,690.5h9M1340,690.5h24M1388,690.5h21M1427,690.5h3M1451,690.5h3M1475,690.5h9M1490,690.5h6M1508,690.5h3M80,693.5h6M89,693.5h9M101,693.5h9M131,693.5h24M275,693.5h6M284,693.5h3M314,693.5h3M380,693.5h18M407,693.5h3M527,693.5h12M593,693.5h12M701,693.5h12M722,693.5h18M746,693.5h6M776,693.5h15M803,693.5h15M941,693.5h6M974,693.5h21M1010,693.5h15M1058,693.5h15M1094,693.5h27M1136,693.5h3M1181,693.5h3M1193,693.5h6M1208,693.5h3M1235,693.5h18M1256,693.5h15M1289,693.5h27M1346,693.5h3M1364,693.5h6M1397,693.5h9M1424,693.5h3M1442,693.5h6M1472,693.5h9M1484,693.5h6M1502,693.5h6M1511,693.5h6M80,696.5h3M98,696.5h15M134,696.5h9M149,696.5h6M278,696.5h9M317,696.5h9M383,696.5h18M530,696.5h9M605,696.5h9M710,696.5h24M800,696.5h18M935,696.5h18M965,696.5h18M986,696.5h21M1019,696.5h3M1031,696.5h21M1073,696.5h12M1094,696.5h30M1130,696.5h6M1145,696.5h27M1178,696.5h6M1193,696.5h6M1205,696.5h3M1232,696.5h12M1256,696.5h18M1292,696.5h12M1307,696.5h6M1364,696.5h12M1394,696.5h12M1436,696.5h9M1478,696.5h9M1496,696.5h18M80,699.5h6M110,699.5h9M134,699.5h9M176,699.5h3M287,699.5h3M302,699.5h12M317,699.5h6M329,699.5h6M395,699.5h3M401,699.5h6M614,699.5h9M725,699.5h3M794,699.5h9M818,699.5h3M932,699.5h3M944,699.5h6M953,699.5h12M977,699.5h42M1028,699.5h6M1079,699.5h9M1091,699.5h27M1133,699.5h15M1193,699.5h12M1217,699.5h24M1253,699.5h21M1298,699.5h9M1331,699.5h3M1364,699.5h12M1382,699.5h12M1397,699.5h6M1433,699.5h33M1475,699.5h3M1493,699.5h12M1508,699.5h3M83,702.5h3M98,702.5h12M113,702.5h3M119,702.5h3M128,702.5h9M143,702.5h3M176,702.5h6M230,702.5h3M293,702.5h3M305,702.5h9M323,702.5h3M329,702.5h12M398,702.5h12M617,702.5h15M704,702.5h6M785,702.5h12M815,702.5h6M929,702.5h6M941,702.5h15M974,702.5h3M980,702.5h24M1022,702.5h3M1103,702.5h12M1133,702.5h6M1199,702.5h3M1220,702.5h9M1232,702.5h9M1247,702.5h15M1325,702.5h3M1343,702.5h3M1361,702.5h12M1376,702.5h12M1433,702.5h18M1457,702.5h6M1466,702.5h6M1481,702.5h3M1493,702.5h15M1532,702.5h3M86,705.5h3M95,705.5h3M107,705.5h6M116,705.5h12M131,705.5h18M176,705.5h6M230,705.5h12M293,705.5h15M311,705.5h6M329,705.5h18M398,705.5h15M476,705.5h3M626,705.5h15M707,705.5h9M770,705.5h12M818,705.5h3M935,705.5h3M950,705.5h12M971,705.5h9M983,705.5h18M1010,705.5h9M1103,705.5h12M1133,705.5h6M1199,705.5h3M1223,705.5h33M1340,705.5h6M1358,705.5h12M1373,705.5h6M1382,705.5h3M1430,705.5h18M1454,705.5h9M1466,705.5h3M1475,705.5h6M1493,705.5h6M1520,705.5h15M89,708.5h6M110,708.5h3M119,708.5h3M125,708.5h6M137,708.5h9M176,708.5h6M239,708.5h9M281,708.5h6M290,708.5h6M299,708.5h3M308,708.5h3M317,708.5h3M332,708.5h6M341,708.5h12M401,708.5h12M647,708.5h6M674,708.5h21M701,708.5h6M716,708.5h3M767,708.5h3M779,708.5h3M818,708.5h3M962,708.5h6M989,708.5h9M1004,708.5h12M1037,708.5h6M1085,708.5h3M1139,708.5h6M1196,708.5h3M1229,708.5h12M1247,708.5h6M1316,708.5h9M1340,708.5h3M1349,708.5h18M1370,708.5h12M1427,708.5h51M1490,708.5h6M1514,708.5h18M80,711.5h6M92,711.5h3M110,711.5h3M122,711.5h3M131,711.5h3M140,711.5h6M236,711.5h3M242,711.5h15M269,711.5h3M278,711.5h6M314,711.5h3M335,711.5h3M371,711.5h12M389,711.5h6M404,711.5h9M425,711.5h3M596,711.5h6M656,711.5h36M704,711.5h6M722,711.5h9M761,711.5h3M773,711.5h15M803,711.5h15M968,711.5h3M983,711.5h12M1007,711.5h6M1205,711.5h6M1223,711.5h6M1241,711.5h12M1310,711.5h12M1334,711.5h6M1343,711.5h21M1427,711.5h15M1463,711.5h21M1487,711.5h12M1502,711.5h3M1511,711.5h9M1523,711.5h3M80,714.5h6M92,714.5h3M110,714.5h3M134,714.5h3M143,714.5h6M173,714.5h3M239,714.5h3M245,714.5h3M251,714.5h9M275,714.5h6M299,714.5h12M317,714.5h6M335,714.5h6M377,714.5h27M425,714.5h3M599,714.5h18M656,714.5h9M683,714.5h24M737,714.5h12M767,714.5h12M791,714.5h42M848,714.5h3M908,714.5h3M935,714.5h6M977,714.5h3M995,714.5h15M1193,714.5h3M1202,714.5h6M1223,714.5h3M1229,714.5h18M1268,714.5h3M1274,714.5h3M1304,714.5h9M1331,714.5h6M1343,714.5h12M1424,714.5h3M1436,714.5h3M1466,714.5h30M1508,714.5h6M1520,714.5h12M80,717.5h18M125,717.5h3M134,717.5h3M146,717.5h6M170,717.5h9M242,717.5h6M254,717.5h3M260,717.5h6M275,717.5h9M299,717.5h6M308,717.5h18M338,717.5h6M380,717.5h6M398,717.5h6M425,717.5h9M443,717.5h9M494,717.5h9M608,717.5h21M668,717.5h6M683,717.5h12M710,717.5h6M785,717.5h18M821,717.5h27M935,717.5h3M959,717.5h18M992,717.5h12M1193,717.5h9M1220,717.5h24M1265,717.5h12M1301,717.5h6M1346,717.5h3M1367,717.5h15M1436,717.5h3M1469,717.5h15M1487,717.5h9M1505,717.5h6M1520,717.5h9M80,720.5h3M92,720.5h9M113,720.5h3M125,720.5h3M134,720.5h6M170,720.5h6M224,720.5h9M257,720.5h3M266,720.5h3M275,720.5h15M296,720.5h12M311,720.5h6M323,720.5h3M428,720.5h9M446,720.5h9M605,720.5h6M614,720.5h6M665,720.5h12M710,720.5h6M785,720.5h6M815,720.5h3M833,720.5h3M851,720.5h6M920,720.5h3M932,720.5h9M953,720.5h15M971,720.5h6M989,720.5h15M1196,720.5h3M1214,720.5h12M1229,720.5h12M1265,720.5h18M1298,720.5h6M1361,720.5h21M1433,720.5h9M1469,720.5h6M1487,720.5h6M1496,720.5h6M1508,720.5h3M1514,720.5h15M80,723.5h3M95,723.5h3M101,723.5h3M116,723.5h3M125,723.5h3M137,723.5h6M152,723.5h3M227,723.5h3M236,723.5h3M260,723.5h3M266,723.5h3M278,723.5h15M299,723.5h3M305,723.5h15M323,723.5h6M338,723.5h6M446,723.5h12M548,723.5h3M710,723.5h15M740,723.5h3M773,723.5h18M818,723.5h6M833,723.5h3M848,723.5h9M893,723.5h6M920,723.5h21M950,723.5h12M986,723.5h6M1001,723.5h3M1199,723.5h21M1232,723.5h6M1259,723.5h3M1271,723.5h12M1295,723.5h6M1361,723.5h18M1427,723.5h12M1490,723.5h9M1505,723.5h9M1520,723.5h15M80,726.5h3M92,726.5h3M98,726.5h3M107,726.5h3M143,726.5h6M239,726.5h6M263,726.5h3M269,726.5h6M284,726.5h3M293,726.5h9M308,726.5h6M317,726.5h9M338,726.5h3M404,726.5h12M485,726.5h6M713,726.5h3M728,726.5h9M821,726.5h3M842,726.5h9M923,726.5h6M947,726.5h12M980,726.5h6M998,726.5h6M1199,726.5h9M1214,726.5h6M1226,726.5h6M1244,726.5h6M1268,726.5h15M1292,726.5h3M1298,726.5h3M1316,726.5h6M1367,726.5h6M1379,726.5h3M1424,726.5h6M1499,726.5h9M1520,726.5h12M80,729.5h6M104,729.5h3M110,729.5h3M146,729.5h3M236,729.5h3M248,729.5h9M263,729.5h21M314,729.5h12M341,729.5h9M716,729.5h6M725,729.5h6M749,729.5h3M824,729.5h30M926,729.5h3M935,729.5h21M971,729.5h6M1007,729.5h3M1211,729.5h21M1241,729.5h12M1262,729.5h36M1310,729.5h3M1322,729.5h3M1340,729.5h6M1364,729.5h9M1385,729.5h3M1400,729.5h3M1421,729.5h6M1496,729.5h9M1529,729.5h3M80,732.5h9M113,732.5h3M137,732.5h15M266,732.5h6M278,732.5h6M320,732.5h6M344,732.5h9M398,732.5h12M716,732.5h6M746,732.5h18M767,732.5h6M809,732.5h30M848,732.5h6M923,732.5h3M941,732.5h9M968,732.5h6M1004,732.5h6M1073,732.5h6M1190,732.5h6M1208,732.5h12M1229,732.5h3M1235,732.5h6M1247,732.5h15M1265,732.5h12M1280,732.5h9M1310,732.5h3M1316,732.5h9M1334,732.5h12M1355,732.5h12M1376,732.5h3M1391,732.5h6M1403,732.5h3M1409,732.5h6M1472,732.5h9M1493,732.5h6M1514,732.5h6M1523,732.5h6M1535,732.5h3M80,735.5h9M125,735.5h3M137,735.5h3M209,735.5h3M251,735.5h3M269,735.5h6M320,735.5h6M401,735.5h6M410,735.5h6M710,735.5h3M758,735.5h3M770,735.5h12M797,735.5h12M833,735.5h3M851,735.5h3M917,735.5h6M953,735.5h24M998,735.5h3M1010,735.5h6M1073,735.5h9M1142,735.5h3M1169,735.5h9M1244,735.5h3M1253,735.5h9M1271,735.5h6M1283,735.5h3M1328,735.5h6M1340,735.5h9M1358,735.5h6M1370,735.5h6M1385,735.5h3M1400,735.5h9M1436,735.5h3M1469,735.5h12M1490,735.5h3M1511,735.5h15M1532,735.5h6M80,738.5h12M122,738.5h18M272,738.5h6M317,738.5h15M356,738.5h3M404,738.5h18M713,738.5h3M752,738.5h15M800,738.5h15M818,738.5h21M848,738.5h6M914,738.5h30M953,738.5h3M962,738.5h15M1001,738.5h12M1046,738.5h30M1136,738.5h3M1151,738.5h30M1253,738.5h12M1268,738.5h6M1280,738.5h3M1292,738.5h3M1319,738.5h3M1355,738.5h27M1400,738.5h9M1430,738.5h6M1466,738.5h12M1484,738.5h9M1508,738.5h6M1520,738.5h3M1532,738.5h6M80,741.5h18M116,741.5h24M167,741.5h9M278,741.5h12M317,741.5h3M329,741.5h9M413,741.5h12M716,741.5h3M752,741.5h12M779,741.5h12M800,741.5h3M818,741.5h6M830,741.5h3M899,741.5h21M944,741.5h12M971,741.5h3M1010,741.5h18M1049,741.5h9M1064,741.5h3M1079,741.5h12M1127,741.5h12M1172,741.5h3M1178,741.5h6M1265,741.5h48M1316,741.5h3M1340,741.5h6M1355,741.5h3M1376,741.5h3M1397,741.5h12M1427,741.5h12M1478,741.5h12M1505,741.5h6M1514,741.5h9M1532,741.5h3M101,744.5h3M113,744.5h3M119,744.5h21M167,744.5h3M179,744.5h6M245,744.5h6M260,744.5h6M269,744.5h6M284,744.5h9M323,744.5h15M344,744.5h3M566,744.5h6M716,744.5h6M749,744.5h21M788,744.5h12M824,744.5h24M866,744.5h6M905,744.5h3M917,744.5h6M941,744.5h15M965,744.5h3M1004,744.5h27M1061,744.5h9M1076,744.5h15M1169,744.5h6M1178,744.5h6M1262,744.5h3M1274,744.5h12M1295,744.5h3M1310,744.5h3M1316,744.5h3M1337,744.5h3M1373,744.5h9M1403,744.5h6M1427,744.5h12M1505,744.5h6M1520,744.5h3M1532,744.5h3M80,747.5h6M107,747.5h12M125,747.5h6M137,747.5h6M152,747.5h6M179,747.5h3M218,747.5h18M242,747.5h3M260,747.5h9M287,747.5h9M326,747.5h6M713,747.5h9M752,747.5h6M767,747.5h6M791,747.5h12M824,747.5h6M848,747.5h3M863,747.5h12M941,747.5h3M956,747.5h6M974,747.5h24M1001,747.5h6M1010,747.5h27M1064,747.5h15M1172,747.5h3M1262,747.5h3M1271,747.5h3M1313,747.5h9M1367,747.5h24M1415,747.5h24M1505,747.5h3M1517,747.5h6M83,750.5h6M98,750.5h3M119,750.5h3M131,750.5h9M146,750.5h3M158,750.5h3M176,750.5h6M221,750.5h18M290,750.5h9M305,750.5h6M350,750.5h3M440,750.5h9M719,750.5h9M731,750.5h30M779,750.5h9M791,750.5h15M809,750.5h12M830,750.5h3M845,750.5h6M860,750.5h3M872,750.5h3M941,750.5h3M950,750.5h3M959,750.5h3M983,750.5h6M992,750.5h6M1001,750.5h18M1079,750.5h12M1313,750.5h9M1373,750.5h6M1385,750.5h3M1412,750.5h3M1421,750.5h3M1430,750.5h3M1436,750.5h3M1508,750.5h12M80,753.5h9M101,753.5h3M137,753.5h15M218,753.5h9M236,753.5h9M284,753.5h9M311,753.5h6M347,753.5h12M443,753.5h6M707,753.5h6M734,753.5h6M746,753.5h3M788,753.5h12M821,753.5h3M851,753.5h6M872,753.5h3M902,753.5h6M935,753.5h15M962,753.5h12M1004,753.5h12M1070,753.5h18M1313,753.5h6M1373,753.5h3M1412,753.5h6M1427,753.5h3M1433,753.5h3M1439,753.5h3M80,756.5h3M104,756.5h15M128,756.5h3M137,756.5h6M146,756.5h12M167,756.5h3M191,756.5h15M218,756.5h27M257,756.5h12M284,756.5h6M305,756.5h6M314,756.5h6M350,756.5h12M713,756.5h9M770,756.5h3M779,756.5h21M806,756.5h6M824,756.5h6M833,756.5h15M878,756.5h6M899,756.5h3M938,756.5h12M956,756.5h24M986,756.5h18M1283,756.5h9M1316,756.5h3M1358,756.5h3M1370,756.5h3M1427,756.5h12M1490,756.5h3M83,759.5h3M104,759.5h18M140,759.5h12M191,759.5h9M209,759.5h3M221,759.5h3M254,759.5h18M287,759.5h6M305,759.5h3M311,759.5h6M356,759.5h6M713,759.5h6M788,759.5h6M824,759.5h9M902,759.5h6M941,759.5h15M977,759.5h12M995,759.5h6M1289,759.5h6M1325,759.5h3M1370,759.5h9M1427,759.5h3M104,762.5h3M122,762.5h6M134,762.5h6M191,762.5h3M209,762.5h3M257,762.5h3M290,762.5h6M305,762.5h3M314,762.5h3M341,762.5h6M350,762.5h9M713,762.5h6M848,762.5h6M941,762.5h12M974,762.5h6M986,762.5h12M1073,762.5h3M1289,762.5h3M1319,762.5h15M1370,762.5h6M1382,762.5h9M1400,762.5h3M1421,762.5h3M128,765.5h9M194,765.5h3M203,765.5h9M257,765.5h6M290,765.5h6M299,765.5h12M317,765.5h3M344,765.5h3M353,765.5h6M716,765.5h9M785,765.5h3M794,765.5h6M818,765.5h6M899,765.5h3M914,765.5h6M941,765.5h12M962,765.5h6M980,765.5h6M1145,765.5h6M1301,765.5h3M1319,765.5h3M1328,765.5h6M1379,765.5h27M1463,765.5h3M80,768.5h3M95,768.5h3M104,768.5h3M212,768.5h3M293,768.5h3M305,768.5h9M320,768.5h3M368,768.5h3M500,768.5h3M725,768.5h6M794,768.5h3M812,768.5h3M827,768.5h3M896,768.5h6M914,768.5h12M944,768.5h9M956,768.5h18M986,768.5h3M1280,768.5h6M1316,768.5h3M1325,768.5h9M1376,768.5h6M1397,768.5h12M1469,768.5h6M1508,768.5h6M92,771.5h9M107,771.5h3M134,771.5h3M251,771.5h6M308,771.5h15M338,771.5h9M374,771.5h3M557,771.5h6M722,771.5h6M785,771.5h6M815,771.5h6M830,771.5h12M875,771.5h6M902,771.5h15M950,771.5h3M959,771.5h6M980,771.5h12M1277,771.5h6M1313,771.5h12M1328,771.5h3M1373,771.5h3M1397,771.5h9M1442,771.5h6M1466,771.5h3M1472,771.5h3M1481,771.5h3M1505,771.5h6M98,774.5h6M107,774.5h9M251,774.5h12M284,774.5h9M296,774.5h6M311,774.5h12M341,774.5h12M725,774.5h15M809,774.5h12M836,774.5h6M908,774.5h9M944,774.5h3M959,774.5h9M974,774.5h3M986,774.5h3M1277,774.5h3M1394,774.5h3M1436,774.5h3M1445,774.5h3M1460,774.5h6M1469,774.5h6M1478,774.5h6M80,777.5h3M89,777.5h3M98,777.5h24M131,777.5h3M179,777.5h3M248,777.5h9M260,777.5h3M287,777.5h9M299,777.5h9M320,777.5h3M335,777.5h3M347,777.5h9M548,777.5h12M638,777.5h3M701,777.5h3M725,777.5h9M812,777.5h6M824,777.5h9M872,777.5h3M878,777.5h3M908,777.5h21M941,777.5h15M974,777.5h6M1382,777.5h12M1397,777.5h9M1433,777.5h3M1442,777.5h3M1463,777.5h9M1478,777.5h3M80,780.5h3M92,780.5h12M119,780.5h9M134,780.5h6M203,780.5h3M251,780.5h15M293,780.5h6M302,780.5h6M320,780.5h3M338,780.5h3M344,780.5h3M449,780.5h3M518,780.5h6M545,780.5h18M707,780.5h3M719,780.5h15M806,780.5h3M821,780.5h3M851,780.5h9M872,780.5h9M932,780.5h12M977,780.5h12M1322,780.5h3M1376,780.5h12M1391,780.5h9M1403,780.5h6M1433,780.5h9M1454,780.5h3M1478,780.5h3M80,783.5h3M92,783.5h3M101,783.5h6M128,783.5h18M206,783.5h3M254,783.5h9M269,783.5h3M296,783.5h30M341,783.5h9M707,783.5h18M815,783.5h6M839,783.5h21M863,783.5h6M875,783.5h12M926,783.5h15M944,783.5h3M959,783.5h21M1373,783.5h18M1397,783.5h6M1445,783.5h9M80,786.5h6M92,786.5h18M134,786.5h15M158,786.5h6M260,786.5h15M293,786.5h15M323,786.5h6M548,786.5h3M713,786.5h3M836,786.5h9M854,786.5h6M881,786.5h3M893,786.5h6M920,786.5h12M941,786.5h3M968,786.5h9M1379,786.5h9M1436,786.5h12M80,789.5h15M101,789.5h3M107,789.5h3M137,789.5h15M266,789.5h3M278,789.5h3M299,789.5h9M326,789.5h12M455,789.5h3M515,789.5h9M713,789.5h6M821,789.5h9M845,789.5h21M881,789.5h3M890,789.5h6M920,789.5h9M938,789.5h15M974,789.5h3M1376,789.5h9M1406,789.5h6M1421,789.5h3M1430,789.5h12M86,792.5h6M110,792.5h3M143,792.5h9M287,792.5h6M299,792.5h12M335,792.5h9M452,792.5h6M509,792.5h9M521,792.5h3M533,792.5h21M710,792.5h6M722,792.5h3M761,792.5h6M818,792.5h6M839,792.5h3M854,792.5h30M902,792.5h30M935,792.5h3M947,792.5h3M965,792.5h3M1334,792.5h12M1394,792.5h6M1406,792.5h3M1415,792.5h3M1424,792.5h9M149,795.5h3M290,795.5h9M311,795.5h3M503,795.5h9M521,795.5h6M530,795.5h18M554,795.5h3M713,795.5h3M719,795.5h3M734,795.5h3M764,795.5h6M821,795.5h30M857,795.5h27M902,795.5h6M938,795.5h12M965,795.5h3M1031,795.5h3M1319,795.5h15M1343,795.5h3M1391,795.5h6M1403,795.5h3M1421,795.5h6M215,798.5h3M293,798.5h9M476,798.5h3M500,798.5h24M536,798.5h3M716,798.5h3M722,798.5h12M842,798.5h6M875,798.5h9M893,798.5h21M917,798.5h18M962,798.5h9M1310,798.5h12M1325,798.5h24M1385,798.5h18M1418,798.5h3M1475,798.5h3M1481,798.5h9M140,801.5h3M149,801.5h6M221,801.5h3M251,801.5h3M479,801.5h3M494,801.5h6M509,801.5h12M533,801.5h6M686,801.5h15M719,801.5h9M764,801.5h6M872,801.5h21M932,801.5h9M959,801.5h12M1313,801.5h6M1337,801.5h9M1382,801.5h3M1394,801.5h6M1469,801.5h3M1475,801.5h18M1526,801.5h9M83,804.5h15M107,804.5h3M119,804.5h6M128,804.5h3M140,804.5h6M152,804.5h6M221,804.5h6M239,804.5h3M263,804.5h3M332,804.5h12M485,804.5h3M500,804.5h15M539,804.5h3M689,804.5h12M716,804.5h9M821,804.5h12M845,804.5h6M869,804.5h24M938,804.5h18M1310,804.5h3M1376,804.5h3M1394,804.5h3M1466,804.5h3M1478,804.5h3M1487,804.5h12M1529,804.5h9M83,807.5h9M98,807.5h18M125,807.5h9M152,807.5h9M224,807.5h6M311,807.5h3M341,807.5h21M467,807.5h3M656,807.5h15M695,807.5h3M719,807.5h15M824,807.5h3M845,807.5h15M875,807.5h9M932,807.5h6M941,807.5h6M1316,807.5h3M1370,807.5h6M1475,807.5h9M1487,807.5h3M1496,807.5h3M1535,807.5h3M86,810.5h6M110,810.5h6M155,810.5h6M350,810.5h9M440,810.5h3M449,810.5h6M473,810.5h9M662,810.5h6M716,810.5h3M773,810.5h15M815,810.5h39M863,810.5h12M887,810.5h12M914,810.5h6M929,810.5h6M938,810.5h9M1310,810.5h9M1367,810.5h6M1475,810.5h3M1487,810.5h9M83,813.5h3M380,813.5h3M437,813.5h9M473,813.5h3M596,813.5h12M665,813.5h6M716,813.5h15M743,813.5h9M773,813.5h12M821,813.5h6M836,813.5h18M920,813.5h12M1040,813.5h15M1310,813.5h12M1409,813.5h3M1469,813.5h3M1508,813.5h3M1517,813.5h9M80,816.5h9M116,816.5h6M227,816.5h9M428,816.5h9M476,816.5h3M494,816.5h12M662,816.5h6M698,816.5h6M743,816.5h6M776,816.5h9M815,816.5h12M842,816.5h9M875,816.5h24M911,816.5h9M935,816.5h6M968,816.5h6M1307,816.5h15M1505,816.5h6M1514,816.5h12M80,819.5h9M119,819.5h9M428,819.5h9M494,819.5h3M506,819.5h6M575,819.5h6M599,819.5h9M695,819.5h12M731,819.5h45M785,819.5h6M797,819.5h12M839,819.5h6M851,819.5h6M860,819.5h12M884,819.5h9M935,819.5h6M962,819.5h9M1001,819.5h18M1475,819.5h3M1502,819.5h3M1517,819.5h6M80,822.5h3M89,822.5h3M107,822.5h6M119,822.5h9M143,822.5h3M197,822.5h3M299,822.5h3M467,822.5h9M497,822.5h6M575,822.5h6M605,822.5h6M629,822.5h6M719,822.5h3M728,822.5h6M749,822.5h27M779,822.5h9M839,822.5h24M866,822.5h15M914,822.5h3M929,822.5h12M971,822.5h6M1004,822.5h6M1022,822.5h18M1472,822.5h6M1499,822.5h6M1514,822.5h6M80,825.5h6M89,825.5h9M107,825.5h3M116,825.5h3M122,825.5h6M146,825.5h6M194,825.5h12M215,825.5h3M383,825.5h12M401,825.5h9M491,825.5h15M578,825.5h6M632,825.5h6M659,825.5h15M716,825.5h3M737,825.5h9M761,825.5h9M782,825.5h6M833,825.5h3M845,825.5h6M917,825.5h9M1406,825.5h3M1493,825.5h9M1508,825.5h3M1517,825.5h3M83,828.5h3M92,828.5h24M119,828.5h3M149,828.5h3M191,828.5h12M209,828.5h12M620,828.5h6M662,828.5h3M677,828.5h3M716,828.5h6M758,828.5h12M782,828.5h3M812,828.5h9M830,828.5h3M845,828.5h21M878,828.5h12M908,828.5h6M938,828.5h12M1382,828.5h6M1502,828.5h3M1514,828.5h6M86,831.5h3M98,831.5h6M113,831.5h3M122,831.5h3M194,831.5h9M215,831.5h18M662,831.5h6M674,831.5h6M719,831.5h6M752,831.5h3M761,831.5h9M776,831.5h15M812,831.5h9M833,831.5h3M842,831.5h15M872,831.5h6M914,831.5h21M947,831.5h3M1379,831.5h9M1496,831.5h6M1511,831.5h3M80,834.5h3M116,834.5h3M122,834.5h3M218,834.5h21M575,834.5h6M647,834.5h3M659,834.5h21M716,834.5h3M734,834.5h3M752,834.5h6M782,834.5h12M830,834.5h33M875,834.5h6M890,834.5h18M920,834.5h15M947,834.5h3M971,834.5h3M1349,834.5h3M1382,834.5h6M1391,834.5h3M1493,834.5h6M1505,834.5h9M92,837.5h3M221,837.5h9M578,837.5h3M653,837.5h27M713,837.5h3M737,837.5h6M746,837.5h12M764,837.5h9M782,837.5h24M827,837.5h30M875,837.5h6M887,837.5h18M914,837.5h6M929,837.5h3M947,837.5h21M1346,837.5h3M1499,837.5h6M1508,837.5h9M92,840.5h3M98,840.5h3M227,840.5h6M290,840.5h6M716,840.5h3M740,840.5h27M821,840.5h21M845,840.5h15M887,840.5h9M911,840.5h15M929,840.5h15M953,840.5h6M1508,840.5h6M95,843.5h3M104,843.5h3M290,843.5h9M434,843.5h6M668,843.5h9M716,843.5h6M764,843.5h15M794,843.5h15M824,843.5h27M854,843.5h6M872,843.5h6M890,843.5h3M911,843.5h3M929,843.5h6M971,843.5h6M1508,843.5h6M98,846.5h3M104,846.5h6M119,846.5h3M173,846.5h9M293,846.5h9M377,846.5h3M434,846.5h12M632,846.5h9M668,846.5h6M716,846.5h6M758,846.5h9M782,846.5h3M830,846.5h3M848,846.5h6M860,846.5h9M974,846.5h3M1430,846.5h3M1454,846.5h3M83,849.5h24M179,849.5h6M296,849.5h3M302,849.5h6M446,849.5h9M581,849.5h9M662,849.5h6M677,849.5h3M719,849.5h6M761,849.5h6M776,849.5h3M788,849.5h15M836,849.5h54M896,849.5h6M926,849.5h6M1304,849.5h9M1436,849.5h3M86,852.5h6M98,852.5h9M140,852.5h6M149,852.5h3M302,852.5h3M638,852.5h9M659,852.5h9M677,852.5h3M728,852.5h3M764,852.5h3M779,852.5h27M839,852.5h12M860,852.5h21M896,852.5h15M914,852.5h9M929,852.5h9M974,852.5h12M1433,852.5h3M1478,852.5h3M86,855.5h6M104,855.5h3M143,855.5h3M152,855.5h3M644,855.5h21M668,855.5h9M704,855.5h12M743,855.5h3M776,855.5h24M806,855.5h6M860,855.5h6M887,855.5h3M905,855.5h3M920,855.5h3M932,855.5h3M1337,855.5h3M1406,855.5h6M1475,855.5h9M1496,855.5h9M89,858.5h3M95,858.5h3M146,858.5h6M155,858.5h3M188,858.5h3M494,858.5h3M647,858.5h18M674,858.5h3M722,858.5h6M740,858.5h3M785,858.5h6M860,858.5h24M908,858.5h3M920,858.5h12M1052,858.5h6M1337,858.5h6M1403,858.5h6M1472,858.5h9M1496,858.5h12M86,861.5h15M104,861.5h9M152,861.5h6M191,861.5h3M314,861.5h3M530,861.5h9M650,861.5h12M677,861.5h3M722,861.5h3M740,861.5h15M779,861.5h3M791,861.5h6M863,861.5h6M899,861.5h6M917,861.5h21M959,861.5h12M1334,861.5h9M1394,861.5h3M1415,861.5h3M1454,861.5h9M1472,861.5h6M89,864.5h9M107,864.5h3M113,864.5h6M158,864.5h3M386,864.5h6M530,864.5h9M695,864.5h6M719,864.5h6M731,864.5h21M758,864.5h15M785,864.5h6M863,864.5h12M890,864.5h36M998,864.5h6M1007,864.5h6M1307,864.5h3M1334,864.5h6M1385,864.5h12M1412,864.5h3M1424,864.5h3M1457,864.5h6M107,867.5h18M203,867.5h6M443,867.5h6M683,867.5h15M704,867.5h3M722,867.5h15M746,867.5h6M758,867.5h18M794,867.5h6M878,867.5h3M890,867.5h6M902,867.5h30M1379,867.5h18M1409,867.5h18M1439,867.5h21M1511,867.5h12M200,870.5h6M212,870.5h3M221,870.5h9M449,870.5h3M656,870.5h6M677,870.5h6M704,870.5h9M722,870.5h9M737,870.5h12M764,870.5h15M875,870.5h6M899,870.5h9M914,870.5h12M959,870.5h6M1376,870.5h12M1391,870.5h3M1406,870.5h6M1415,870.5h6M1436,870.5h9M1508,870.5h9M140,873.5h6M194,873.5h12M212,873.5h3M440,873.5h6M449,873.5h9M533,873.5h9M650,873.5h18M704,873.5h6M719,873.5h9M740,873.5h6M749,873.5h6M764,873.5h6M776,873.5h3M833,873.5h3M839,873.5h6M854,873.5h27M920,873.5h6M959,873.5h12M1382,873.5h9M1406,873.5h3M1466,873.5h3M1508,873.5h6M131,876.5h3M137,876.5h9M197,876.5h3M206,876.5h6M320,876.5h3M440,876.5h3M596,876.5h15M650,876.5h3M662,876.5h12M710,876.5h15M740,876.5h30M782,876.5h3M815,876.5h6M839,876.5h12M869,876.5h6M878,876.5h3M920,876.5h6M953,876.5h24M1379,876.5h9M1457,876.5h3M131,879.5h15M203,879.5h9M452,879.5h3M599,879.5h3M605,879.5h6M710,879.5h27M746,879.5h9M773,879.5h15M800,879.5h51M905,879.5h12M926,879.5h3M959,879.5h3M1319,879.5h3M1376,879.5h9M1439,879.5h3M134,882.5h12M206,882.5h3M218,882.5h3M716,882.5h33M752,882.5h18M773,882.5h6M815,882.5h12M836,882.5h9M905,882.5h9M926,882.5h18M974,882.5h9M1253,882.5h3M1376,882.5h9M1391,882.5h3M1454,882.5h6M1475,882.5h9M1499,882.5h3M1511,882.5h3M107,885.5h3M134,885.5h12M221,885.5h6M281,885.5h6M395,885.5h6M662,885.5h6M707,885.5h6M722,885.5h6M731,885.5h27M776,885.5h3M875,885.5h6M905,885.5h6M920,885.5h3M929,885.5h18M971,885.5h15M1355,885.5h3M1376,885.5h3M1385,885.5h6M1451,885.5h9M1472,885.5h9M1493,885.5h6M107,888.5h6M140,888.5h3M146,888.5h6M221,888.5h9M281,888.5h9M662,888.5h6M686,888.5h39M746,888.5h12M770,888.5h6M839,888.5h9M926,888.5h9M941,888.5h6M953,888.5h6M974,888.5h9M998,888.5h15M1352,888.5h3M1448,888.5h9M1487,888.5h3M1493,888.5h6M149,891.5h9M185,891.5h9M224,891.5h9M242,891.5h3M275,891.5h6M284,891.5h3M395,891.5h9M521,891.5h6M650,891.5h9M671,891.5h27M707,891.5h21M746,891.5h3M755,891.5h12M773,891.5h3M842,891.5h3M860,891.5h12M887,891.5h39M974,891.5h6M1478,891.5h12M1493,891.5h6M116,894.5h3M155,894.5h9M188,894.5h9M233,894.5h3M245,894.5h3M278,894.5h18M524,894.5h6M602,894.5h6M620,894.5h3M668,894.5h6M680,894.5h12M698,894.5h6M746,894.5h15M773,894.5h3M836,894.5h18M902,894.5h12M941,894.5h15M968,894.5h6M1016,894.5h9M1358,894.5h3M1478,894.5h15M1502,894.5h6M161,897.5h9M191,897.5h3M248,897.5h9M293,897.5h3M668,897.5h15M704,897.5h9M734,897.5h15M758,897.5h6M770,897.5h3M800,897.5h3M809,897.5h6M824,897.5h3M830,897.5h21M902,897.5h3M929,897.5h27M1346,897.5h12M1427,897.5h3M1454,897.5h6M1499,897.5h3M1505,897.5h9M134,900.5h3M230,900.5h3M251,900.5h9M473,900.5h12M644,900.5h12M662,900.5h6M674,900.5h6M686,900.5h6M713,900.5h21M749,900.5h6M773,900.5h3M785,900.5h6M809,900.5h6M830,900.5h9M845,900.5h6M920,900.5h6M938,900.5h21M1049,900.5h3M1343,900.5h6M1421,900.5h6M1451,900.5h6M1496,900.5h9M1508,900.5h6M254,903.5h6M476,903.5h6M665,903.5h3M677,903.5h3M710,903.5h3M719,903.5h18M746,903.5h3M776,903.5h9M815,903.5h9M845,903.5h3M902,903.5h3M968,903.5h6M980,903.5h3M1319,903.5h3M1418,903.5h6M1508,903.5h6M257,906.5h3M476,906.5h3M668,906.5h3M677,906.5h3M710,906.5h30M749,906.5h3M788,906.5h3M812,906.5h6M842,906.5h3M857,906.5h9M893,906.5h21M959,906.5h6M971,906.5h6M1079,906.5h6M1310,906.5h12M1415,906.5h6" stroke="#f9f9f9"/>
<path d="M140,171.5h6M158,171.5h3M263,171.5h12M284,171.5h30M449,171.5h6M506,171.5h9M203,174.5h9M266,174.5h6M290,174.5h24M203,177.5h6M293,177.5h21M500,177.5h9M299,180.5h15M497,180.5h15M302,183.5h12M194,186.5h3M275,186.5h3M299,186.5h18M197,189.5h3M293,189.5h27M503,189.5h12M293,192.5h21M503,192.5h12M209,195.5h6M296,195.5h18M503,195.5h12M209,198.5h6M299,198.5h15M503,198.5h9M302,201.5h12M506,201.5h9M302,204.5h9M509,204.5h9M305,207.5h3M506,207.5h15M305,210.5h6M509,210.5h9M218,213.5h6M302,213.5h9M296,216.5h18M962,216.5h6M200,219.5h9M293,219.5h21M506,219.5h9M956,219.5h48M1340,219.5h6M197,222.5h15M293,222.5h21M506,222.5h12M944,222.5h39M992,222.5h21M197,225.5h12M293,225.5h21M506,225.5h12M941,225.5h78M293,228.5h21M506,228.5h3M941,228.5h84M299,231.5h27M941,231.5h9M956,231.5h9M968,231.5h60M1352,231.5h3M302,234.5h24M941,234.5h6M962,234.5h21M1013,234.5h15M1307,234.5h6M305,237.5h21M938,237.5h3M968,237.5h15M1013,237.5h15M1301,237.5h21M305,240.5h30M446,240.5h6M923,240.5h21M974,240.5h3M980,240.5h12M1013,240.5h12M1316,240.5h6M317,243.5h21M440,243.5h6M908,243.5h45M968,243.5h27M1013,243.5h12M296,246.5h9M320,246.5h18M851,246.5h9M881,246.5h12M902,246.5h6M914,246.5h12M947,246.5h51M1016,246.5h15M293,249.5h15M323,249.5h18M854,249.5h12M881,249.5h21M908,249.5h9M953,249.5h45M1022,249.5h9M1307,249.5h9M296,252.5h45M854,252.5h12M887,252.5h12M905,252.5h6M962,252.5h15M986,252.5h15M1004,252.5h27M1307,252.5h9M296,255.5h42M443,255.5h9M857,255.5h9M890,255.5h18M992,255.5h21M296,258.5h42M437,258.5h33M548,258.5h3M890,258.5h15M293,261.5h45M353,261.5h3M434,261.5h42M479,261.5h9M890,261.5h9M1262,261.5h3M293,264.5h45M350,264.5h6M434,264.5h57M893,264.5h3M296,267.5h12M311,267.5h27M350,267.5h6M422,267.5h24M458,267.5h33M257,270.5h6M290,270.5h66M416,270.5h27M464,270.5h30M254,273.5h12M275,273.5h57M335,273.5h24M413,273.5h24M467,273.5h27M548,273.5h9M269,276.5h78M353,276.5h6M392,276.5h33M470,276.5h24M548,276.5h9M602,276.5h6M302,279.5h12M317,279.5h30M353,279.5h12M371,279.5h51M473,279.5h18M596,279.5h15M1256,279.5h6M299,282.5h54M362,282.5h9M380,282.5h39M470,282.5h12M551,282.5h24M596,282.5h15M299,285.5h57M362,285.5h9M377,285.5h42M425,285.5h9M464,285.5h15M530,285.5h42M599,285.5h9M1232,285.5h6M299,288.5h138M461,288.5h15M536,288.5h39M1229,288.5h18M305,291.5h69M377,291.5h63M446,291.5h24M536,291.5h39M614,291.5h15M1229,291.5h21M323,294.5h9M341,294.5h27M380,294.5h84M500,294.5h3M536,294.5h42M581,294.5h18M617,294.5h6M1229,294.5h3M326,297.5h36M380,297.5h24M410,297.5h36M488,297.5h18M536,297.5h39M581,297.5h18M329,300.5h33M386,300.5h15M431,300.5h15M488,300.5h15M539,300.5h21M590,300.5h3M332,303.5h30M437,303.5h6M542,303.5h15M344,306.5h15M551,306.5h3M1247,306.5h15M326,309.5h15M551,309.5h12M1247,309.5h12M326,312.5h15M509,312.5h12M560,312.5h9M488,315.5h36M488,318.5h30M485,321.5h15M506,321.5h6M482,324.5h18M485,327.5h12M485,330.5h12M485,333.5h3M602,333.5h3M476,336.5h9M1037,345.5h9M824,348.5h3M860,348.5h6M809,351.5h18M860,351.5h15M884,351.5h6M806,354.5h24M860,354.5h12M884,354.5h3M890,354.5h3M803,357.5h27M860,357.5h12M884,357.5h3M890,357.5h3M803,360.5h24M863,360.5h6M602,363.5h6M806,363.5h6M833,372.5h6M653,378.5h12M827,378.5h6M884,378.5h9M650,381.5h15M881,381.5h3M890,381.5h3M1037,381.5h6M608,384.5h6M647,384.5h18M881,384.5h3M890,384.5h3M638,387.5h21M884,387.5h3M893,387.5h3M641,390.5h9M887,390.5h6M887,393.5h6M1013,393.5h6M1265,393.5h9M638,396.5h9M1259,396.5h15M611,399.5h12M638,399.5h9M1025,399.5h9M1259,399.5h12M611,402.5h15M641,402.5h3M1025,402.5h12M1256,402.5h12M611,405.5h15M1028,405.5h3M611,408.5h18M611,411.5h21M1022,411.5h15M611,414.5h12M632,414.5h3M1022,414.5h21M1049,414.5h3M614,417.5h6M632,417.5h3M1022,417.5h36M614,420.5h6M632,420.5h3M1007,420.5h9M1019,420.5h45M617,423.5h6M632,423.5h3M1007,423.5h9M1019,423.5h15M1046,423.5h21M614,426.5h9M632,426.5h6M737,426.5h3M1004,426.5h27M1052,426.5h15M614,429.5h6M635,429.5h3M1004,429.5h30M1052,429.5h18M614,432.5h9M638,432.5h3M1004,432.5h36M1052,432.5h21M269,435.5h9M617,435.5h6M638,435.5h3M1004,435.5h18M1031,435.5h9M1049,435.5h24M272,438.5h9M620,438.5h6M638,438.5h3M1004,438.5h6M1013,438.5h6M1037,438.5h33M620,441.5h6M638,441.5h6M1004,441.5h15M1034,441.5h39M620,444.5h24M1004,444.5h69M623,447.5h15M1010,447.5h60M1031,450.5h12M1007,474.5h6M938,477.5h9M1004,477.5h3M1292,477.5h6M935,480.5h6M947,480.5h3M1286,480.5h15M935,483.5h3M947,483.5h3M1004,483.5h3M1286,483.5h3M1298,483.5h3M947,486.5h3M1004,486.5h9M1286,486.5h3M1301,486.5h3M938,489.5h12M1286,489.5h6M1301,489.5h3M1286,492.5h21M1286,495.5h21M1286,498.5h18M1310,498.5h6M1283,501.5h36M1283,504.5h36M1283,507.5h36M1280,510.5h9M1301,510.5h18M404,513.5h15M1280,513.5h12M1307,513.5h12M404,516.5h51M1280,516.5h9M1301,516.5h18M407,519.5h48M557,519.5h9M1280,519.5h12M1298,519.5h27M410,522.5h51M500,522.5h24M536,522.5h33M1286,522.5h24M1313,522.5h6M1322,522.5h3M416,525.5h45M488,525.5h78M1286,525.5h24M1316,525.5h3M1322,525.5h3M416,528.5h48M473,528.5h84M1283,528.5h30M1316,528.5h9M419,531.5h135M566,531.5h15M590,531.5h9M1280,531.5h27M344,534.5h3M443,534.5h111M563,534.5h15M593,534.5h3M620,534.5h21M1280,534.5h24M341,537.5h12M407,537.5h6M443,537.5h114M566,537.5h9M608,537.5h30M1286,537.5h21M371,540.5h6M407,540.5h6M446,540.5h54M503,540.5h36M548,540.5h15M611,540.5h24M737,540.5h6M746,540.5h3M1289,540.5h15M314,543.5h12M446,543.5h138M620,543.5h15M731,543.5h6M749,543.5h3M1289,543.5h6M314,546.5h9M455,546.5h33M494,546.5h87M626,546.5h9M731,546.5h3M749,546.5h3M329,549.5h3M458,549.5h30M494,549.5h63M560,549.5h18M731,549.5h12M746,549.5h3M764,549.5h6M461,552.5h120M743,552.5h3M467,555.5h30M506,555.5h75M1106,555.5h6M470,558.5h27M503,558.5h39M545,558.5h36M674,558.5h15M722,558.5h3M1106,558.5h6M473,561.5h108M668,561.5h24M971,561.5h24M1016,561.5h6M473,564.5h99M671,564.5h18M968,564.5h33M1016,564.5h12M1043,564.5h3M476,567.5h90M677,567.5h15M770,567.5h15M971,567.5h36M1037,567.5h12M485,570.5h72M770,570.5h9M974,570.5h39M1040,570.5h9M497,573.5h36M539,573.5h15M974,573.5h51M1043,573.5h6M506,576.5h42M977,576.5h51M1043,576.5h9M515,579.5h30M713,579.5h6M980,579.5h54M1040,579.5h12M527,582.5h15M707,582.5h12M992,582.5h51M1049,582.5h6M695,585.5h24M734,585.5h9M983,585.5h60M1049,585.5h9M695,588.5h9M731,588.5h12M755,588.5h9M791,588.5h3M986,588.5h6M1004,588.5h39M1049,588.5h9M701,591.5h6M734,591.5h9M746,591.5h21M791,591.5h6M1004,591.5h39M1049,591.5h9M701,594.5h9M746,594.5h24M788,594.5h9M1007,594.5h9M1025,594.5h27M1058,594.5h9M728,597.5h6M746,597.5h27M788,597.5h6M1022,597.5h15M1043,597.5h6M1061,597.5h6M395,600.5h3M716,600.5h6M725,600.5h15M752,600.5h18M395,603.5h6M713,603.5h27M404,606.5h24M683,606.5h12M701,606.5h36M392,609.5h45M680,609.5h15M701,609.5h9M719,609.5h15M761,609.5h9M386,612.5h21M428,612.5h9M452,612.5h3M680,612.5h30M722,612.5h30M764,612.5h6M386,615.5h15M413,615.5h6M425,615.5h9M449,615.5h6M683,615.5h24M725,615.5h27M389,618.5h39M479,618.5h9M389,621.5h6M404,621.5h21M479,621.5h12M386,624.5h9M479,624.5h15M389,627.5h6M449,627.5h3M467,627.5h27M506,627.5h12M470,630.5h15M506,630.5h12M491,633.5h30M440,636.5h12M488,636.5h6M518,636.5h12M440,639.5h24M476,639.5h18M524,639.5h3M458,642.5h6M470,642.5h27M512,642.5h12M428,645.5h9M473,645.5h9M494,645.5h6M506,645.5h6M593,645.5h24M431,648.5h6M476,648.5h9M488,648.5h9M506,648.5h6M578,648.5h12M614,648.5h6M449,651.5h3M470,651.5h27M506,651.5h6M566,651.5h18M620,651.5h18M449,654.5h63M563,654.5h18M620,654.5h6M635,654.5h6M419,657.5h21M452,657.5h36M494,657.5h18M566,657.5h18M620,657.5h9M638,657.5h6M413,660.5h12M434,660.5h6M455,660.5h33M500,660.5h9M575,660.5h9M623,660.5h18M644,660.5h6M389,663.5h6M410,663.5h15M431,663.5h9M458,663.5h6M575,663.5h6M626,663.5h15M647,663.5h24M1253,663.5h12M392,666.5h6M410,666.5h33M446,666.5h9M578,666.5h3M635,666.5h39M1232,666.5h33M410,669.5h18M440,669.5h24M578,669.5h3M641,669.5h33M701,669.5h9M989,669.5h3M1229,669.5h24M1259,669.5h9M413,672.5h18M437,672.5h12M572,672.5h6M656,672.5h9M674,672.5h12M698,672.5h15M725,672.5h15M773,672.5h6M953,672.5h6M974,672.5h6M989,672.5h9M1154,672.5h9M1226,672.5h21M1262,672.5h9M440,675.5h12M572,675.5h6M587,675.5h6M680,675.5h9M695,675.5h39M800,675.5h6M953,675.5h6M974,675.5h21M1013,675.5h6M1052,675.5h12M1154,675.5h9M1223,675.5h3M1229,675.5h18M1259,675.5h12M1274,675.5h6M569,678.5h30M677,678.5h9M704,678.5h6M713,678.5h21M956,678.5h6M974,678.5h15M1007,678.5h15M1049,678.5h18M1136,678.5h27M1181,678.5h3M1211,678.5h12M1232,678.5h15M1250,678.5h9M1262,678.5h18M134,681.5h3M569,681.5h21M596,681.5h15M680,681.5h9M707,681.5h12M758,681.5h6M785,681.5h3M974,681.5h18M1046,681.5h36M1130,681.5h45M1208,681.5h9M1229,681.5h51M587,684.5h15M611,684.5h3M683,684.5h9M707,684.5h6M794,684.5h6M1004,684.5h12M1040,684.5h27M1076,684.5h15M1121,684.5h18M1145,684.5h12M1160,684.5h18M1202,684.5h57M1265,684.5h24M1442,684.5h9M545,687.5h3M584,687.5h6M599,687.5h6M611,687.5h6M689,687.5h3M716,687.5h30M770,687.5h18M794,687.5h15M977,687.5h12M1001,687.5h12M1037,687.5h30M1082,687.5h3M1112,687.5h12M1133,687.5h6M1145,687.5h9M1157,687.5h24M1199,687.5h18M1220,687.5h24M1271,687.5h24M1382,687.5h3M1436,687.5h15M1490,687.5h3M143,690.5h3M302,690.5h9M587,690.5h30M677,690.5h15M710,690.5h33M752,690.5h12M770,690.5h9M791,690.5h12M986,690.5h27M1034,690.5h30M1121,690.5h15M1142,690.5h21M1166,690.5h18M1199,690.5h39M1256,690.5h3M1268,690.5h24M1319,690.5h6M1334,690.5h6M1364,690.5h24M1409,690.5h18M1430,690.5h21M1484,690.5h6M98,693.5h3M281,693.5h3M287,693.5h18M311,693.5h3M605,693.5h24M635,693.5h3M692,693.5h9M713,693.5h9M740,693.5h6M752,693.5h6M764,693.5h12M791,693.5h12M995,693.5h15M1025,693.5h33M1073,693.5h21M1121,693.5h15M1139,693.5h42M1199,693.5h9M1211,693.5h24M1253,693.5h3M1271,693.5h18M1316,693.5h30M1349,693.5h15M1370,693.5h27M1406,693.5h18M1427,693.5h15M1481,693.5h3M287,696.5h30M614,696.5h30M677,696.5h9M692,696.5h18M734,696.5h21M794,696.5h6M1022,696.5h9M1085,696.5h9M1136,696.5h9M1172,696.5h6M1199,696.5h6M1208,696.5h24M1244,696.5h12M1274,696.5h18M1313,696.5h36M1352,696.5h12M1376,696.5h18M1406,696.5h3M1412,696.5h24M290,699.5h12M323,699.5h6M623,699.5h27M665,699.5h12M686,699.5h39M728,699.5h12M752,699.5h24M785,699.5h9M803,699.5h6M815,699.5h3M935,699.5h3M941,699.5h3M965,699.5h12M1019,699.5h9M1088,699.5h3M1205,699.5h12M1241,699.5h12M1274,699.5h24M1307,699.5h24M1334,699.5h30M1376,699.5h6M1394,699.5h3M1403,699.5h9M1424,699.5h9M1505,699.5h3M80,702.5h3M116,702.5h3M137,702.5h6M296,702.5h9M326,702.5h3M632,702.5h6M644,702.5h3M671,702.5h9M695,702.5h9M710,702.5h6M725,702.5h12M755,702.5h30M797,702.5h18M935,702.5h6M956,702.5h6M968,702.5h6M1004,702.5h18M1202,702.5h6M1211,702.5h9M1241,702.5h6M1262,702.5h18M1283,702.5h6M1292,702.5h15M1310,702.5h15M1328,702.5h15M1346,702.5h9M1358,702.5h3M1373,702.5h3M1388,702.5h18M1418,702.5h9M1430,702.5h3M1451,702.5h6M1535,702.5h3M98,705.5h9M641,705.5h12M671,705.5h15M701,705.5h6M716,705.5h18M755,705.5h3M767,705.5h3M782,705.5h15M815,705.5h3M962,705.5h9M980,705.5h3M1001,705.5h9M1202,705.5h3M1208,705.5h15M1256,705.5h21M1292,705.5h9M1307,705.5h33M1346,705.5h12M1370,705.5h3M1385,705.5h15M1409,705.5h12M1427,705.5h3M1448,705.5h6M1463,705.5h3M95,708.5h3M107,708.5h3M122,708.5h3M233,708.5h6M296,708.5h3M302,708.5h6M653,708.5h6M668,708.5h6M695,708.5h6M719,708.5h3M743,708.5h9M764,708.5h3M782,708.5h21M815,708.5h3M968,708.5h6M980,708.5h9M998,708.5h6M1199,708.5h3M1205,708.5h24M1253,708.5h21M1280,708.5h15M1304,708.5h3M1310,708.5h6M1325,708.5h15M1343,708.5h6M1367,708.5h3M1382,708.5h9M1394,708.5h6M1403,708.5h12M1424,708.5h3M107,711.5h3M128,711.5h3M239,711.5h3M284,711.5h30M692,711.5h12M710,711.5h12M731,711.5h18M755,711.5h6M788,711.5h15M971,711.5h12M995,711.5h3M1004,711.5h3M1196,711.5h9M1211,711.5h3M1217,711.5h6M1253,711.5h3M1262,711.5h12M1277,711.5h15M1307,711.5h3M1322,711.5h12M1340,711.5h3M1364,711.5h24M1394,711.5h15M1421,711.5h6M1520,711.5h3M95,714.5h3M125,714.5h9M242,714.5h3M281,714.5h18M311,714.5h6M707,714.5h6M719,714.5h18M749,714.5h9M764,714.5h3M779,714.5h12M941,714.5h36M1196,714.5h6M1208,714.5h3M1217,714.5h6M1247,714.5h6M1262,714.5h6M1271,714.5h3M1277,714.5h12M1298,714.5h6M1313,714.5h18M1337,714.5h6M1355,714.5h9M1367,714.5h21M1391,714.5h15M1418,714.5h6M1427,714.5h9M1514,714.5h6M98,717.5h15M128,717.5h6M257,717.5h3M284,717.5h15M716,717.5h30M752,717.5h6M776,717.5h9M803,717.5h18M938,717.5h3M950,717.5h9M1202,717.5h6M1214,717.5h6M1244,717.5h6M1259,717.5h6M1277,717.5h9M1292,717.5h9M1307,717.5h6M1316,717.5h3M1328,717.5h18M1349,717.5h3M1355,717.5h12M1382,717.5h18M1412,717.5h6M1421,717.5h15M1511,717.5h9M83,720.5h9M101,720.5h12M128,720.5h6M260,720.5h6M290,720.5h6M611,720.5h3M716,720.5h42M773,720.5h12M791,720.5h6M812,720.5h3M836,720.5h3M848,720.5h3M941,720.5h12M968,720.5h3M1199,720.5h15M1226,720.5h3M1241,720.5h12M1259,720.5h6M1283,720.5h15M1304,720.5h3M1355,720.5h6M1382,720.5h12M1406,720.5h9M1427,720.5h6M1511,720.5h3M83,723.5h12M104,723.5h6M113,723.5h3M128,723.5h9M233,723.5h3M263,723.5h3M293,723.5h3M725,723.5h15M743,723.5h9M767,723.5h6M791,723.5h12M809,723.5h9M836,723.5h12M941,723.5h9M992,723.5h9M1220,723.5h12M1238,723.5h15M1256,723.5h3M1262,723.5h9M1283,723.5h12M1301,723.5h9M1355,723.5h6M1379,723.5h12M1406,723.5h6M1424,723.5h3M83,726.5h9M95,726.5h3M110,726.5h33M233,726.5h6M266,726.5h3M314,726.5h3M341,726.5h6M716,726.5h12M737,726.5h15M770,726.5h24M818,726.5h3M929,726.5h18M986,726.5h12M1220,726.5h6M1232,726.5h12M1250,726.5h18M1283,726.5h9M1301,726.5h6M1310,726.5h6M1322,726.5h12M1355,726.5h12M1373,726.5h6M1382,726.5h12M1403,726.5h6M1418,726.5h6M86,729.5h18M113,729.5h3M134,729.5h12M722,729.5h3M731,729.5h6M740,729.5h9M752,729.5h3M767,729.5h9M788,729.5h6M821,729.5h3M929,729.5h6M977,729.5h18M1001,729.5h6M1232,729.5h9M1253,729.5h9M1298,729.5h3M1325,729.5h6M1334,729.5h6M1346,729.5h6M1361,729.5h3M1373,729.5h12M1388,729.5h12M1403,729.5h18M89,732.5h3M104,732.5h9M116,732.5h9M134,732.5h3M722,732.5h12M743,732.5h3M773,732.5h3M785,732.5h24M926,732.5h15M974,732.5h30M1232,732.5h3M1289,732.5h9M1325,732.5h3M1331,732.5h3M1346,732.5h9M1367,732.5h9M1379,732.5h12M1406,732.5h3M89,735.5h3M104,735.5h21M128,735.5h3M134,735.5h3M407,735.5h3M713,735.5h3M722,735.5h15M755,735.5h3M782,735.5h15M836,735.5h6M845,735.5h6M923,735.5h30M977,735.5h21M1001,735.5h9M1262,735.5h9M1286,735.5h12M1310,735.5h18M1364,735.5h6M1376,735.5h9M92,738.5h3M98,738.5h24M716,738.5h3M728,738.5h9M746,738.5h6M767,738.5h3M776,738.5h15M797,738.5h3M815,738.5h3M839,738.5h9M944,738.5h9M977,738.5h24M1265,738.5h3M1283,738.5h9M1295,738.5h6M1304,738.5h15M98,741.5h18M320,741.5h9M719,741.5h6M749,741.5h3M764,741.5h3M776,741.5h3M791,741.5h9M824,741.5h6M974,741.5h6M1004,741.5h6M1175,741.5h3M1313,741.5h3M1535,741.5h3M104,744.5h9M116,744.5h3M170,744.5h9M722,744.5h3M737,744.5h12M908,744.5h9M968,744.5h36M1175,744.5h3M1265,744.5h9M1313,744.5h3M1511,744.5h3M1535,744.5h3M119,747.5h6M173,747.5h6M722,747.5h6M743,747.5h9M758,747.5h9M830,747.5h3M845,747.5h3M944,747.5h12M962,747.5h3M968,747.5h6M998,747.5h3M1265,747.5h6M1508,747.5h3M89,750.5h9M122,750.5h9M140,750.5h6M761,750.5h6M773,750.5h6M833,750.5h12M863,750.5h9M944,750.5h6M962,750.5h21M998,750.5h3M1379,750.5h6M1415,750.5h6M1433,750.5h3M89,753.5h3M98,753.5h3M125,753.5h3M131,753.5h6M227,753.5h9M713,753.5h9M731,753.5h3M749,753.5h3M776,753.5h12M800,753.5h21M857,753.5h3M869,753.5h3M974,753.5h30M1376,753.5h3M1382,753.5h3M1430,753.5h3M83,756.5h9M101,756.5h3M134,756.5h3M722,756.5h9M737,756.5h3M800,756.5h6M812,756.5h12M848,756.5h30M980,756.5h6M1373,756.5h3M1379,756.5h3M80,759.5h3M86,759.5h9M101,759.5h3M134,759.5h6M200,759.5h9M308,759.5h3M719,759.5h9M770,759.5h18M794,759.5h6M803,759.5h9M821,759.5h3M833,759.5h3M845,759.5h12M869,759.5h18M899,759.5h3M956,759.5h21M989,759.5h6M1424,759.5h3M80,762.5h18M194,762.5h15M308,762.5h6M719,762.5h6M782,762.5h15M845,762.5h3M854,762.5h3M866,762.5h15M899,762.5h42M953,762.5h21M80,765.5h27M197,765.5h6M296,765.5h3M311,765.5h6M725,765.5h6M740,765.5h9M782,765.5h3M800,765.5h3M812,765.5h6M824,765.5h6M848,765.5h6M866,765.5h15M896,765.5h3M920,765.5h12M938,765.5h3M953,765.5h9M968,765.5h12M1322,765.5h6M83,768.5h12M98,768.5h6M302,768.5h3M314,768.5h6M731,768.5h3M746,768.5h3M782,768.5h3M797,768.5h3M809,768.5h3M830,768.5h3M866,768.5h15M893,768.5h3M926,768.5h18M953,768.5h3M974,768.5h12M1319,768.5h6M80,771.5h12M101,771.5h6M296,771.5h3M305,771.5h3M728,771.5h6M782,771.5h3M791,771.5h6M809,771.5h6M842,771.5h15M869,771.5h6M881,771.5h3M887,771.5h15M917,771.5h6M941,771.5h9M965,771.5h15M1469,771.5h3M80,774.5h18M104,774.5h3M302,774.5h9M740,774.5h6M806,774.5h3M842,774.5h3M872,774.5h12M890,774.5h18M917,774.5h27M968,774.5h6M1397,774.5h6M1439,774.5h6M1466,774.5h3M83,777.5h6M92,777.5h6M257,777.5h3M308,777.5h3M314,777.5h6M734,777.5h27M785,777.5h9M809,777.5h3M833,777.5h24M869,777.5h3M881,777.5h3M899,777.5h9M929,777.5h12M956,777.5h9M971,777.5h3M1394,777.5h3M1436,777.5h6M83,780.5h9M308,780.5h6M341,780.5h3M710,780.5h9M734,780.5h9M752,780.5h15M791,780.5h15M824,780.5h27M860,780.5h12M881,780.5h6M902,780.5h30M944,780.5h33M1388,780.5h3M1400,780.5h3M83,783.5h9M263,783.5h6M725,783.5h9M794,783.5h3M812,783.5h3M821,783.5h18M860,783.5h3M869,783.5h6M887,783.5h21M917,783.5h9M941,783.5h3M947,783.5h12M86,786.5h6M716,786.5h12M800,786.5h6M809,786.5h15M827,786.5h9M860,786.5h9M878,786.5h3M899,786.5h9M914,786.5h6M932,786.5h9M944,786.5h24M104,789.5h3M296,789.5h3M719,789.5h12M746,789.5h6M758,789.5h6M803,789.5h18M830,789.5h15M866,789.5h6M875,789.5h6M896,789.5h24M929,789.5h9M953,789.5h6M968,789.5h6M518,792.5h3M716,792.5h6M725,792.5h6M743,792.5h18M767,792.5h3M815,792.5h3M842,792.5h12M884,792.5h18M932,792.5h3M950,792.5h6M962,792.5h3M1400,792.5h6M512,795.5h9M548,795.5h6M716,795.5h3M737,795.5h3M758,795.5h6M770,795.5h6M818,795.5h3M851,795.5h6M884,795.5h3M896,795.5h6M950,795.5h6M959,795.5h6M1334,795.5h9M1397,795.5h6M719,798.5h3M734,798.5h3M761,798.5h15M824,798.5h6M836,798.5h6M848,798.5h6M869,798.5h6M884,798.5h9M914,798.5h3M935,798.5h27M500,801.5h9M728,801.5h6M752,801.5h12M770,801.5h12M803,801.5h3M821,801.5h6M839,801.5h15M869,801.5h3M941,801.5h18M1472,801.5h3M125,804.5h3M725,804.5h9M764,804.5h27M800,804.5h6M818,804.5h3M833,804.5h12M851,804.5h6M863,804.5h6M1481,804.5h6M734,807.5h6M749,807.5h36M818,807.5h6M827,807.5h6M842,807.5h3M938,807.5h3M1490,807.5h6M719,810.5h18M746,810.5h27M788,810.5h3M809,810.5h6M920,810.5h9M935,810.5h3M80,813.5h3M752,813.5h6M764,813.5h9M785,813.5h3M815,813.5h6M827,813.5h9M749,816.5h12M770,816.5h6M785,816.5h6M800,816.5h15M827,816.5h15M899,816.5h12M920,816.5h15M497,819.5h9M791,819.5h6M809,819.5h3M836,819.5h3M857,819.5h3M872,819.5h12M893,819.5h3M908,819.5h15M932,819.5h3M722,822.5h6M734,822.5h15M788,822.5h15M836,822.5h3M881,822.5h15M905,822.5h9M917,822.5h12M110,825.5h6M719,825.5h3M731,825.5h6M788,825.5h12M809,825.5h12M830,825.5h3M851,825.5h39M893,825.5h12M911,825.5h6M116,828.5h3M665,828.5h12M722,828.5h36M785,828.5h6M821,828.5h3M827,828.5h3M866,828.5h12M890,828.5h18M116,831.5h6M668,831.5h6M725,831.5h18M746,831.5h6M770,831.5h6M791,831.5h6M809,831.5h3M821,831.5h3M827,831.5h6M857,831.5h15M878,831.5h36M935,831.5h12M119,834.5h3M650,834.5h9M719,834.5h15M737,834.5h15M758,834.5h9M779,834.5h3M794,834.5h3M803,834.5h12M824,834.5h6M881,834.5h9M908,834.5h12M935,834.5h3M944,834.5h3M716,837.5h6M725,837.5h12M743,837.5h3M758,837.5h6M773,837.5h9M806,837.5h21M881,837.5h6M905,837.5h9M932,837.5h15M95,840.5h3M719,840.5h9M734,840.5h6M767,840.5h6M791,840.5h18M818,840.5h3M944,840.5h9M98,843.5h6M722,843.5h6M758,843.5h6M779,843.5h3M791,843.5h3M809,843.5h6M818,843.5h6M851,843.5h3M878,843.5h12M101,846.5h3M722,846.5h6M752,846.5h6M785,846.5h21M827,846.5h3M854,846.5h6M299,849.5h3M668,849.5h9M725,849.5h6M758,849.5h3M779,849.5h9M803,849.5h9M833,849.5h3M890,849.5h6M146,852.5h3M668,852.5h9M731,852.5h3M755,852.5h9M806,852.5h3M836,852.5h3M851,852.5h9M881,852.5h15M923,852.5h6M146,855.5h6M665,855.5h3M728,855.5h3M740,855.5h3M812,855.5h12M854,855.5h6M890,855.5h3M902,855.5h3M923,855.5h9M92,858.5h3M152,858.5h3M665,858.5h9M728,858.5h12M791,858.5h21M827,858.5h3M854,858.5h6M884,858.5h3M905,858.5h3M662,861.5h15M725,861.5h3M734,861.5h6M797,861.5h3M830,861.5h9M854,861.5h9M869,861.5h6M887,861.5h12M110,864.5h3M725,864.5h6M773,864.5h12M791,864.5h33M833,864.5h9M860,864.5h3M875,864.5h15M1004,864.5h3M1451,864.5h6M737,867.5h9M776,867.5h18M800,867.5h18M830,867.5h15M869,867.5h9M881,867.5h9M206,870.5h6M779,870.5h6M794,870.5h9M806,870.5h18M833,870.5h9M854,870.5h12M869,870.5h6M881,870.5h6M896,870.5h3M908,870.5h6M1388,870.5h3M1412,870.5h3M206,873.5h6M746,873.5h3M770,873.5h6M779,873.5h3M797,873.5h24M830,873.5h3M845,873.5h9M881,873.5h6M893,873.5h9M914,873.5h6M200,876.5h6M785,876.5h3M794,876.5h6M806,876.5h9M821,876.5h18M851,876.5h18M881,876.5h39M602,879.5h3M737,879.5h9M755,879.5h6M767,879.5h6M788,879.5h12M851,879.5h27M884,879.5h3M899,879.5h6M917,879.5h9M779,882.5h36M845,882.5h9M875,882.5h30M914,882.5h12M713,885.5h9M779,885.5h3M806,885.5h18M836,885.5h15M872,885.5h3M881,885.5h12M902,885.5h3M911,885.5h9M143,888.5h3M725,888.5h9M743,888.5h3M776,888.5h6M809,888.5h9M836,888.5h3M848,888.5h3M866,888.5h48M917,888.5h9M1490,888.5h3M113,891.5h3M287,891.5h3M698,891.5h9M728,891.5h3M743,891.5h3M776,891.5h12M821,891.5h6M836,891.5h6M845,891.5h15M872,891.5h15M1490,891.5h3M674,894.5h6M704,894.5h24M740,894.5h6M776,894.5h3M788,894.5h9M821,894.5h15M854,894.5h6M869,894.5h33M713,897.5h21M749,897.5h9M773,897.5h3M785,897.5h15M815,897.5h9M851,897.5h3M899,897.5h3M1502,897.5h3M668,900.5h6M734,900.5h15M776,900.5h9M815,900.5h15M851,900.5h3M899,900.5h6M926,900.5h12M668,903.5h9M737,903.5h9M785,903.5h30M848,903.5h3M860,903.5h12M890,903.5h12M974,903.5h6M671,906.5h6M740,906.5h9M791,906.5h21M845,906.5h12M866,906.5h6M887,906.5h6" stroke="#c3deec"/>
<path d="M983,222.5h9M950,231.5h6M947,234.5h3M956,234.5h6M983,234.5h30M941,237.5h6M962,237.5h6M983,237.5h30M944,240.5h6M968,240.5h6M977,240.5h3M992,240.5h21M953,243.5h15M995,243.5h18M908,246.5h6M998,246.5h18M902,249.5h6M998,249.5h24M899,252.5h6M1001,252.5h3M446,267.5h12M443,270.5h21M332,273.5h3M437,273.5h30M347,276.5h6M425,276.5h45M314,279.5h3M347,279.5h6M422,279.5h51M353,282.5h9M419,282.5h51M356,285.5h6M419,285.5h6M434,285.5h30M437,288.5h24M440,291.5h6M332,294.5h9M887,354.5h3M887,357.5h3M884,381.5h6M884,384.5h6M887,387.5h6M623,414.5h9M620,417.5h12M620,420.5h12M623,423.5h9M1034,423.5h12M623,426.5h9M1031,426.5h21M620,429.5h15M1034,429.5h18M623,432.5h15M1040,432.5h12M623,435.5h15M1022,435.5h9M1040,435.5h9M626,438.5h12M1010,438.5h3M1019,438.5h18M626,441.5h12M1019,441.5h15M941,480.5h6M938,483.5h9M1289,483.5h9M938,486.5h9M1289,486.5h12M1292,489.5h9M1289,510.5h12M1292,513.5h15M1289,516.5h12M1292,519.5h6M1319,522.5h3M1319,525.5h3M743,540.5h3M737,543.5h3M746,543.5h3M734,546.5h6M746,546.5h3M743,549.5h3M542,558.5h3M533,573.5h6M1043,582.5h6M1043,585.5h6M1043,588.5h6M1043,591.5h6M407,612.5h21M401,615.5h12M419,615.5h6M494,636.5h24M494,639.5h9M509,639.5h15M497,642.5h15M500,645.5h6M497,648.5h9M590,648.5h9M602,648.5h12M497,651.5h9M584,651.5h6M605,651.5h15M581,654.5h9M608,654.5h12M626,654.5h9M584,657.5h6M614,657.5h6M629,657.5h9M425,660.5h9M584,660.5h3M617,660.5h6M641,660.5h3M425,663.5h6M581,663.5h6M620,663.5h6M641,663.5h6M581,666.5h6M620,666.5h15M581,669.5h3M629,669.5h12M1253,669.5h6M578,672.5h18M626,672.5h30M665,672.5h9M1247,672.5h15M578,675.5h9M593,675.5h6M626,675.5h15M647,675.5h33M1226,675.5h3M1247,675.5h12M599,678.5h9M617,678.5h60M710,678.5h3M1223,678.5h9M1247,678.5h3M1259,678.5h3M590,681.5h6M611,681.5h57M674,681.5h6M1217,681.5h12M614,684.5h9M677,684.5h6M1157,684.5h3M590,687.5h9M617,687.5h24M677,687.5h12M1124,687.5h9M1154,687.5h3M1217,687.5h3M617,690.5h21M668,690.5h9M305,693.5h6M629,693.5h6M638,693.5h6M659,693.5h6M674,693.5h18M758,693.5h6M644,696.5h3M656,696.5h12M671,696.5h6M686,696.5h6M755,696.5h24M785,696.5h9M1349,696.5h3M1409,696.5h3M650,699.5h15M677,699.5h9M740,699.5h12M776,699.5h9M809,699.5h6M938,699.5h3M1412,699.5h12M638,702.5h6M647,702.5h9M668,702.5h3M680,702.5h15M716,702.5h9M737,702.5h6M749,702.5h6M962,702.5h6M1208,702.5h3M1280,702.5h3M1289,702.5h3M1307,702.5h3M1355,702.5h3M1406,702.5h12M1427,702.5h3M653,705.5h3M665,705.5h6M686,705.5h15M734,705.5h21M758,705.5h9M797,705.5h3M812,705.5h3M1205,705.5h3M1277,705.5h15M1301,705.5h6M1400,705.5h9M1421,705.5h6M98,708.5h9M659,708.5h9M722,708.5h21M752,708.5h12M803,708.5h12M974,708.5h6M1202,708.5h3M1274,708.5h6M1295,708.5h9M1307,708.5h3M1391,708.5h3M1400,708.5h3M1415,708.5h9M95,711.5h6M104,711.5h3M125,711.5h3M749,711.5h6M998,711.5h6M1214,711.5h3M1256,711.5h6M1274,711.5h3M1292,711.5h15M1388,711.5h6M1409,711.5h12M98,714.5h12M713,714.5h6M758,714.5h6M1211,714.5h6M1253,714.5h9M1289,714.5h9M1364,714.5h3M1388,714.5h3M1406,714.5h12M746,717.5h6M758,717.5h6M770,717.5h6M941,717.5h9M1208,717.5h6M1250,717.5h9M1286,717.5h6M1313,717.5h3M1319,717.5h9M1352,717.5h3M1400,717.5h12M1418,717.5h3M758,720.5h15M797,720.5h15M839,720.5h9M1253,720.5h6M1307,720.5h42M1352,720.5h3M1394,720.5h12M1415,720.5h12M110,723.5h3M230,723.5h3M296,723.5h3M752,723.5h15M803,723.5h6M1253,723.5h3M1310,723.5h33M1352,723.5h3M1391,723.5h15M1412,723.5h12M752,726.5h18M794,726.5h18M815,726.5h3M1307,726.5h3M1334,726.5h21M1394,726.5h9M1409,726.5h9M116,729.5h18M737,729.5h3M755,729.5h12M776,729.5h12M794,729.5h15M818,729.5h3M995,729.5h6M1301,729.5h3M1307,729.5h3M1331,729.5h3M1352,729.5h9M92,732.5h12M125,732.5h9M734,732.5h9M776,732.5h9M1298,732.5h3M1307,732.5h3M1328,732.5h3M92,735.5h12M131,735.5h3M716,735.5h6M737,735.5h18M842,735.5h3M1298,735.5h12M95,738.5h3M719,738.5h9M737,738.5h9M770,738.5h6M791,738.5h6M1301,738.5h3M725,741.5h24M767,741.5h9M980,741.5h12M998,741.5h6M725,744.5h12M1514,744.5h6M728,747.5h15M833,747.5h12M965,747.5h3M1511,747.5h6M767,750.5h6M92,753.5h6M128,753.5h3M722,753.5h9M752,753.5h3M773,753.5h3M860,753.5h9M1379,753.5h3M92,756.5h3M98,756.5h3M131,756.5h3M731,756.5h6M740,756.5h9M767,756.5h3M1376,756.5h3M95,759.5h6M728,759.5h9M764,759.5h6M800,759.5h3M812,759.5h9M836,759.5h9M857,759.5h12M887,759.5h12M98,762.5h6M725,762.5h3M740,762.5h9M776,762.5h6M797,762.5h6M806,762.5h33M842,762.5h3M857,762.5h9M881,762.5h6M893,762.5h6M731,765.5h9M749,765.5h3M761,765.5h12M776,765.5h6M803,765.5h9M830,765.5h18M854,765.5h12M881,765.5h6M890,765.5h6M932,765.5h6M296,768.5h6M734,768.5h12M749,768.5h15M779,768.5h3M800,768.5h9M833,768.5h9M857,768.5h9M881,768.5h12M299,771.5h6M734,771.5h18M779,771.5h3M797,771.5h3M803,771.5h6M857,771.5h12M884,771.5h3M923,771.5h18M746,774.5h24M785,774.5h15M803,774.5h3M845,774.5h15M869,774.5h3M884,774.5h6M311,777.5h3M761,777.5h9M773,777.5h12M794,777.5h6M806,777.5h3M857,777.5h12M884,777.5h3M893,777.5h6M965,777.5h6M314,780.5h6M743,780.5h9M767,780.5h12M785,780.5h6M887,780.5h15M734,783.5h45M785,783.5h9M797,783.5h6M806,783.5h6M908,783.5h9M728,786.5h6M794,786.5h6M806,786.5h3M824,786.5h3M869,786.5h9M908,786.5h6M731,789.5h3M743,789.5h3M752,789.5h6M764,789.5h6M794,789.5h9M872,789.5h3M959,789.5h9M731,792.5h12M770,792.5h3M809,792.5h6M956,792.5h6M740,795.5h18M776,795.5h12M812,795.5h6M887,795.5h9M956,795.5h3M737,798.5h3M758,798.5h3M776,798.5h9M800,798.5h6M821,798.5h3M830,798.5h6M854,798.5h15M734,801.5h3M746,801.5h6M782,801.5h3M800,801.5h3M806,801.5h3M818,801.5h3M827,801.5h12M854,801.5h15M734,804.5h30M791,804.5h9M806,804.5h12M857,804.5h6M740,807.5h9M785,807.5h18M812,807.5h6M833,807.5h9M737,810.5h9M791,810.5h18M758,813.5h6M788,813.5h3M803,813.5h12M761,816.5h9M791,816.5h9M812,819.5h6M827,819.5h9M896,819.5h12M923,819.5h9M803,822.5h6M824,822.5h12M896,822.5h9M722,825.5h9M800,825.5h9M821,825.5h9M890,825.5h3M905,825.5h6M791,828.5h6M809,828.5h3M824,828.5h3M743,831.5h3M797,831.5h12M824,831.5h3M767,834.5h12M797,834.5h6M815,834.5h9M938,834.5h6M722,837.5h3M728,840.5h6M773,840.5h3M785,840.5h6M809,840.5h9M728,843.5h3M737,843.5h21M782,843.5h9M815,843.5h3M728,846.5h24M806,846.5h6M824,846.5h3M731,849.5h6M749,849.5h9M812,849.5h3M830,849.5h3M734,852.5h21M809,852.5h3M830,852.5h6M731,855.5h9M824,855.5h9M842,855.5h12M893,855.5h9M812,858.5h15M830,858.5h6M848,858.5h6M887,858.5h6M902,858.5h3M728,861.5h6M800,861.5h18M827,861.5h3M839,861.5h15M875,861.5h12M824,864.5h9M842,864.5h18M818,867.5h12M845,867.5h24M785,870.5h9M803,870.5h3M824,870.5h9M842,870.5h12M866,870.5h3M887,870.5h9M782,873.5h15M821,873.5h9M887,873.5h6M902,873.5h12M788,876.5h6M800,876.5h6M761,879.5h6M878,879.5h6M887,879.5h12M854,882.5h21M782,885.5h24M824,885.5h12M851,885.5h6M866,885.5h6M893,885.5h9M734,888.5h9M782,888.5h27M818,888.5h18M851,888.5h15M914,888.5h3M731,891.5h12M788,891.5h6M812,891.5h9M827,891.5h9M728,894.5h12M779,894.5h9M797,894.5h6M818,894.5h3M860,894.5h9M776,897.5h3M782,897.5h3M854,897.5h3M872,897.5h27M854,900.5h6M881,900.5h18M851,903.5h9M872,903.5h18M872,906.5h3M884,906.5h3" stroke="#6bacd0"/>
<path d="M950,234.5h6M947,237.5h15M950,240.5h18M740,543.5h6M740,546.5h6M503,639.5h6M599,648.5h3M590,651.5h15M590,654.5h18M590,657.5h24M587,660.5h30M587,663.5h33M587,666.5h33M584,669.5h45M596,672.5h30M599,675.5h27M641,675.5h6M608,678.5h9M668,681.5h6M623,684.5h54M641,687.5h36M638,690.5h30M644,693.5h15M665,693.5h9M647,696.5h9M668,696.5h3M779,696.5h6M656,702.5h12M743,702.5h6M656,705.5h9M800,705.5h12M101,711.5h3M764,717.5h6M1349,720.5h3M1343,723.5h9M812,726.5h3M809,729.5h9M1304,729.5h3M1301,732.5h6M992,741.5h6M755,753.5h18M95,756.5h3M749,756.5h18M737,759.5h27M728,762.5h12M749,762.5h27M803,762.5h3M839,762.5h3M887,762.5h6M752,765.5h9M773,765.5h3M887,765.5h3M764,768.5h15M842,768.5h15M752,771.5h27M800,771.5h3M770,774.5h15M800,774.5h3M860,774.5h9M770,777.5h3M800,777.5h6M887,777.5h6M779,780.5h6M779,783.5h6M803,783.5h3M734,786.5h60M734,789.5h9M770,789.5h24M773,792.5h36M788,795.5h24M740,798.5h18M785,798.5h15M806,798.5h15M737,801.5h9M785,801.5h15M809,801.5h9M803,807.5h9M791,813.5h12M818,819.5h9M809,822.5h15M797,828.5h12M776,840.5h9M731,843.5h6M812,846.5h12M737,849.5h12M815,849.5h15M812,852.5h18M833,855.5h9M836,858.5h12M893,858.5h9M818,861.5h9M857,885.5h9M794,891.5h18M803,894.5h15M779,897.5h3M857,897.5h15M860,900.5h21M875,906.5h9" stroke="#2b6fb0"/></g>
<path d="M60,800L235,813.75L270,816L302,820L320,816L370,817.5L395,824L420,825L445,827.5L470,830L507,827.5L532,822.5L582,819.5L595,824L620,827.5L650,831L700,830L737.5,828.75L775,823.75L812.5,817.5L825,816L832,818.75L850,813.75L875,808.75L925,805L975,802.5L1000,803L1037.5,801L1070,798L1095,807.5L1117.5,817.5L1175,815L1200,807.5L1232.5,808.75L1262.5,806L1300,801L1305,813.75L1350,813.75L1380,816L1440,818L1440,930L60,930ZM280,160L280,250L470,245L487,233L497,227L506,221L531,213L556,210L581,211.5L612.5,218L620,219.7L638.75,215L650,213.5L676,213L704,213L725,207.5L740,206.5L775.6,210.3L788.75,200L807.5,190.6L822.5,186L830,183L880,182L935,190L942.5,189.7L940,207L934,222.5L943,225L952,215L964,204L974,191L999,188L1030,186.5L1061,185.6L1092.5,185.6L1124,186.5L1155,187.5L1202,189.7L1203,200.6L1211,213L1217.5,218L1232,240L1330,240L1330,160Z" fill="#cccccc"/>
<path d="M502.8,245.1L517.8,241.5L523.2,242.3L521.5,238.7L516.1,234.4L530.3,229.8L542.3,226.0L554.9,222.9L566.3,224.8L579.0,227.1L594.9,229.4L607.9,232.1L618.0,229.8L631.0,227.5L635.9,226.3L641.4,229.8L653.5,229.0L669.0,233.7L671.2,235.6L683.0,236.0L688.4,237.6L692.3,234.8L706.7,236.4L718.6,236.4L725.0,234.4L729.1,229.8L727.6,224.1L732.9,220.3L736.2,224.1L738.0,229.0L741.7,232.5L749.1,232.5L749.7,237.6L756.4,232.5L758.5,228.6L767.2,229.0L768.7,233.7L766.1,237.6L768.0,239.5L759.5,242.3L753.5,242.3L752.6,248.3L746.0,250.7L739.6,252.4L730.8,257.7L724.8,263.9L721.8,268.1L721.4,273.5L726.1,274.4L726.8,279.9L735.0,280.8L741.3,282.9L749.2,287.2L759.1,288.5L759.3,297.2L763.0,303.3L766.2,306.0L769.8,304.6L770.8,300.3L769.7,291.5L776.1,287.2L779.1,280.8L776.9,274.4L773.7,273.1L777.5,266.0L776.4,258.5L784.3,258.5L790.6,258.9L796.8,262.6L801.6,263.9L803.1,271.0L807.3,275.2L812.9,273.5L816.1,268.9L818.9,266.4L824.3,273.1L828.5,279.9L831.4,285.1L836.7,288.5L841.9,291.1L845.6,295.4L850.0,299.4L849.6,303.3L844.5,305.1L839.5,308.6L836.0,310.4L829.0,310.4L818.5,310.4L811.5,313.9L806.2,316.6L800.9,322.4L797.2,325.5L802.7,321.5L809.8,316.6L816.8,314.8L821.1,316.6L818.0,320.2L814.4,320.2L819.4,323.7L818.8,326.9L822.4,328.7L826.0,330.0L830.4,330.0L833.1,325.5L836.7,326.9L835.8,330.0L832.6,332.2L824.3,335.4L816.8,340.4L814.6,336.7L818.9,332.7L820.6,330.9L815.2,332.7L811.6,333.6L806.2,336.7L800.7,339.5L798.1,344.4L800.6,348.5L795.1,349.9L789.5,351.2L785.7,353.5L784.8,358.0L781.8,360.8L780.0,359.0L780.9,364.0L777.8,369.9L776.6,370.8L779.1,377.7L774.4,380.9L769.7,384.1L765.0,387.3L761.8,389.6L757.9,392.8L756.1,399.6L757.4,405.6L759.2,409.3L760.6,416.6L760.1,422.1L756.9,424.4L753.9,419.3L750.5,412.5L750.7,407.4L747.8,402.8L745.1,401.5L740.8,403.3L736.3,400.1L730.4,400.6L725.8,401.0L724.4,405.1L725.5,406.5L721.2,405.6L716.6,404.2L710.9,403.3L704.9,404.7L700.9,407.4L694.7,412.0L692.7,417.9L692.8,423.9L690.4,431.7L690.1,437.6L692.2,444.0L695.5,450.0L697.4,453.2L702.4,455.9L708.4,455.0L712.5,453.7L716.5,452.7L718.6,448.2L719.2,443.1L724.8,441.7L728.8,440.4L733.1,441.3L731.0,446.3L730.1,450.9L729.1,455.5L727.0,459.1L726.9,463.7L724.8,466.5L729.2,466.5L736.0,466.5L742.0,466.5L746.8,470.6L745.8,477.5L745.3,484.3L744.5,488.9L747.2,493.5L750.8,497.6L754.8,499.0L759.7,497.1L763.7,495.3L767.7,496.7L770.1,499.9L771.7,503.1L769.7,504.9L768.1,506.3L766.5,502.6L765.7,499.9L761.7,498.5L758.8,501.3L758.4,505.4L755.6,505.8L752.8,502.6L748.3,501.7L745.1,500.3L740.8,495.3L736.4,493.5L736.4,488.9L731.7,482.0L728.9,479.7L724.5,478.8L719.8,476.5L713.8,475.2L708.0,469.2L702.9,465.1L698.1,466.5L694.0,467.4L686.1,464.6L680.3,461.9L673.3,457.8L666.6,455.0L661.6,451.4L658.4,445.9L660.2,440.8L658.6,435.8L655.6,432.1L651.3,426.6L646.9,422.1L645.4,417.0L641.8,413.4L639.3,411.1L635.5,406.5L634.2,401.0L633.2,396.4L627.7,394.1L627.2,398.3L628.2,402.8L631.5,407.4L633.3,412.5L636.3,417.9L638.2,422.5L640.5,428.0L643.1,431.2L643.3,434.0L641.7,434.4L639.1,431.7L634.7,427.1L633.9,422.5L630.8,417.9L626.8,414.7L624.4,412.0L627.8,409.3L626.0,404.2L622.6,400.6L620.5,396.0L619.0,390.5L618.1,386.4L614.7,383.6L611.1,382.2L607.1,381.3L607.0,377.7L604.1,372.6L603.9,369.9L602.6,366.7L601.3,364.0L599.3,359.4L598.3,354.4L600.6,349.4L601.0,343.5L604.5,335.8L606.5,328.2L606.7,318.8L612.5,319.7L613.4,322.8L614.9,318.8L613.6,314.8L609.3,312.6L605.2,309.1L601.0,306.0L601.0,301.1L597.8,295.9L596.6,292.0L595.8,288.1L594.1,284.2L591.7,279.9L591.3,275.7L586.8,274.8L582.1,275.7L579.8,272.3L575.6,269.8L570.7,268.1L562.8,267.7L558.0,264.7L550.2,267.2L544.3,268.9L535.7,271.4L540.3,266.0L546.2,263.1L539.5,264.7L533.0,268.9L527.2,273.1L521.3,277.4L514.3,280.8L505.0,285.1L496.5,288.1L488.7,289.8L480.1,291.5L488.6,287.2L496.6,285.1L506.0,280.8L513.1,277.4L516.4,273.5L510.9,274.0L506.9,272.7L500.5,274.0L504.5,268.9L499.3,268.5L496.6,265.6L496.7,261.0L502.9,256.9L509.1,254.8L517.8,253.6L521.4,249.5L515.9,249.9L508.2,249.9L505.4,247.5L502.8,245.1ZM769.7,500.3L772.5,499.4L775.8,495.8L777.8,491.2L780.7,488.4L786.7,487.5L791.9,484.3L794.7,482.5L792.7,486.6L794.7,488.9L799.2,486.6L800.0,483.9L802.0,486.6L806.8,489.8L808.0,491.2L815.2,490.7L820.1,493.0L824.1,491.2L832.1,490.3L829.7,492.6L834.2,494.4L837.0,498.1L840.2,500.8L844.3,504.0L848.3,508.1L852.4,512.2L858.5,512.2L864.5,512.7L869.8,516.4L874.2,520.0L876.7,525.5L880.8,531.0L880.8,535.6L876.7,539.2L880.8,540.2L886.8,541.5L888.9,542.9L892.9,542.5L899.0,546.1L903.0,550.7L907.0,550.2L915.1,552.5L921.2,552.1L927.2,556.2L932.4,561.2L939.2,562.6L941.2,566.7L941.9,573.6L940.5,580.4L936.8,586.4L932.6,590.5L929.3,596.5L925.2,598.8L924.2,605.6L923.9,612.5L922.8,620.7L920.5,628.5L918.3,633.1L914.9,640.0L910.7,644.5L904.8,645.0L900.0,645.9L893.6,649.1L887.5,653.7L884.2,658.3L883.9,665.1L882.8,670.2L877.9,675.7L873.7,682.1L868.9,686.6L864.3,693.5L861.5,697.2L857.6,699.0L853.0,699.0L847.0,696.7L844.7,694.9L844.7,697.6L848.7,700.8L848.6,704.9L850.8,706.3L847.5,713.2L841.8,716.4L834.2,717.7L829.7,716.8L829.2,725.0L824.7,727.3L819.1,725.9L819.1,731.4L823.8,732.3L823.8,735.0L819.0,735.9L817.8,742.7L815.2,745.4L809.8,749.4L812.7,753.9L815.9,755.2L815.1,759.2L809.8,764.1L806.2,768.1L803.8,771.7L806.6,777.4L807.0,780.4L809.7,784.8L814.8,787.4L817.5,787.8L813.1,790.0L810.3,793.0L806.3,791.7L801.3,790.4L796.1,787.4L792.7,784.8L788.4,780.4L784.8,776.1L782.9,770.8L781.5,762.8L780.9,756.1L780.7,752.1L784.6,748.5L787.0,744.0L785.3,736.8L785.9,731.4L786.5,726.8L787.5,722.3L788.1,715.4L787.2,709.5L789.8,704.0L791.6,699.5L793.8,692.6L794.1,685.7L794.4,676.6L795.1,669.7L797.0,662.8L798.2,653.7L798.5,646.8L799.3,637.7L799.3,629.9L798.4,623.5L794.0,618.9L788.8,615.2L783.2,611.6L778.8,609.3L774.7,602.9L771.4,594.6L768.6,588.7L765.7,582.3L762.9,575.9L759.6,569.9L755.1,566.7L754.3,560.8L757.9,555.3L759.9,551.2L755.9,549.8L756.3,543.8L758.3,540.6L759.5,536.0L763.5,533.8L764.7,531.0L767.6,527.8L770.4,523.2L770.0,518.7L770.1,513.6L770.1,508.6L768.1,506.3ZM795.1,198.3L808.0,195.6L815.5,192.5L810.5,190.0L822.7,188.0L839.5,186.0L858.6,185.2L874.6,183.1L890.8,182.3L910.4,183.3L924.2,186.0L921.1,188.6L939.9,187.4L946.3,189.4L936.1,192.5L933.2,195.6L936.3,200.6L936.3,205.1L940.0,209.4L937.2,211.9L934.8,215.5L932.0,218.5L938.8,221.1L940.7,225.6L932.1,225.6L937.5,228.3L932.0,233.3L922.2,234.8L913.8,236.4L909.3,241.5L902.5,244.7L894.4,246.7L893.4,251.6L889.7,256.5L888.2,261.8L887.5,266.8L884.0,268.5L878.6,265.6L871.4,264.3L866.6,259.7L862.9,255.6L859.1,250.7L855.4,245.5L851.7,240.3L851.1,235.6L856.6,232.5L854.8,229.8L847.1,226.7L848.0,222.9L843.4,220.3L841.5,215.9L836.8,211.2L832.2,206.9L824.0,205.1L813.4,205.8L806.7,205.5L800.1,202.3L805.4,201.0L797.6,199.3ZM817.5,260.2L814.3,255.6L806.4,252.8L814.3,257.7L806.4,258.9L798.6,256.5L794.0,252.4L787.9,249.5L778.6,250.3L777.3,247.5L788.1,245.5L791.4,241.5L794.5,237.6L790.2,234.0L783.0,231.7L777.5,227.9L773.0,229.0L767.3,227.9L760.1,227.9L754.4,227.1L747.4,225.6L746.1,222.2L746.0,218.5L749.8,214.1L758.2,213.7L760.4,216.6L757.0,220.3L760.9,222.2L762.9,218.5L769.2,214.1L774.7,214.1L780.0,216.6L785.5,217.4L790.9,221.1L799.4,222.2L805.1,225.2L809.5,229.8L808.0,233.3L815.4,235.6L821.5,238.3L827.6,240.7L824.8,244.3L821.8,247.5L815.6,244.3L809.5,242.7L817.3,249.5L818.0,254.4ZM749.9,245.5L756.3,243.5L760.6,245.5L767.7,250.7L765.9,253.6L759.3,256.5L752.0,252.4L749.3,249.5ZM715.7,230.6L725.9,230.9L726.9,232.9L719.4,233.3ZM741.1,439.0L744.8,435.3L748.7,434.0L754.7,433.5L760.6,434.4L766.5,437.2L771.2,439.9L777.1,443.1L783.4,446.8L780.2,448.2L770.3,448.2L771.9,445.4L766.4,441.7L762.5,439.9L756.5,438.5L752.6,436.7L746.7,438.1ZM782.5,455.0L786.5,448.2L793.3,448.6L800.4,449.5L806.4,454.1L802.0,455.5L796.0,456.4L793.2,458.2L788.9,455.9ZM767.0,455.0L772.2,454.6L774.9,456.9L771.3,457.8ZM811.2,455.0L817.2,455.0L816.8,456.9L811.6,456.9ZM839.0,321.5L842.3,316.6L844.8,310.4L850.3,304.2L851.3,308.6L848.4,311.7L853.8,313.9L858.4,314.4L861.2,317.9L862.6,322.4L860.0,326.0L856.3,323.7L852.8,325.1L850.1,321.9L845.4,321.9ZM597.6,307.7L603.4,309.1L607.1,310.8L610.4,314.8L611.2,317.9L606.3,316.6L602.0,313.5L598.4,310.4ZM820.3,311.7L829.1,313.9L829.9,315.3L823.9,314.4ZM821.3,325.5L828.8,326.9L827.8,329.1L822.4,327.3ZM832.5,490.3L836.2,489.8L836.2,493.0L832.6,493.0ZM832.3,773.9L842.8,773.0L843.3,775.2L835.6,777.4L832.2,776.1ZM521.7,279.5L530.5,275.7L529.5,278.6L522.7,281.6ZM586.9,293.3L591.0,294.1L589.9,300.3L587.0,298.9ZM1043.9,375.4L1046.1,374.9L1051.8,378.1L1055.5,377.7L1059.5,378.6L1062.7,375.8L1068.0,374.5L1076.6,370.8L1084.2,370.8L1091.5,369.9L1101.7,368.5L1106.6,369.9L1105.2,373.1L1107.8,376.8L1106.5,382.2L1108.8,385.0L1112.0,387.3L1120.1,388.6L1128.5,391.4L1131.9,396.0L1141.3,399.6L1147.1,399.6L1147.9,395.1L1146.9,391.4L1152.0,388.6L1158.1,390.0L1162.7,392.8L1167.1,394.6L1175.2,396.0L1183.4,397.8L1186.8,396.0L1192.3,395.1L1196.7,396.9L1198.1,401.9L1200.5,406.5L1204.4,411.1L1209.1,417.9L1213.2,424.8L1216.1,429.4L1217.7,434.0L1222.8,438.5L1225.1,443.1L1226.1,449.5L1231.5,455.9L1237.0,466.9L1242.5,471.5L1249.2,477.5L1254.5,482.0L1254.9,486.2L1258.6,491.2L1262.6,491.2L1270.4,488.0L1278.4,487.5L1284.2,485.2L1287.4,485.2L1287.2,491.2L1285.3,498.1L1282.2,504.9L1280.1,510.4L1276.5,518.7L1272.7,524.1L1268.7,527.8L1264.8,531.0L1258.8,537.0L1252.7,543.8L1248.6,548.4L1245.3,552.1L1243.1,557.6L1240.0,564.4L1240.9,570.4L1241.2,578.2L1243.0,586.4L1244.5,591.9L1243.4,598.8L1243.7,606.5L1239.7,612.5L1232.9,618.4L1226.4,621.6L1221.7,626.2L1216.4,629.9L1216.4,635.4L1217.4,641.3L1216.2,648.2L1213.5,652.3L1204.9,656.0L1202.9,658.3L1202.6,665.1L1198.5,672.0L1192.4,676.1L1186.8,682.5L1179.1,688.9L1172.1,693.1L1166.2,694.9L1158.0,695.3L1152.2,695.8L1143.7,698.5L1139.7,696.7L1138.8,694.4L1138.8,688.9L1140.7,684.4L1139.2,674.3L1137.4,670.2L1134.5,665.1L1133.8,660.6L1133.0,653.7L1133.9,644.5L1132.7,639.0L1130.6,633.1L1128.3,626.2L1126.3,619.4L1127.0,612.5L1129.7,605.6L1134.3,597.8L1136.9,589.6L1135.4,582.7L1134.4,578.2L1132.0,567.6L1131.8,564.4L1129.9,559.8L1127.2,556.2L1123.2,552.1L1120.5,547.9L1118.5,542.9L1120.6,539.2L1121.3,536.5L1122.1,531.5L1122.4,525.5L1121.1,521.4L1118.6,518.7L1115.8,518.7L1110.9,519.1L1106.9,519.6L1103.9,515.0L1100.6,510.9L1096.1,510.0L1088.5,510.9L1086.5,512.7L1082.5,513.6L1078.5,515.4L1074.5,517.3L1070.5,515.9L1066.4,515.4L1060.4,515.9L1056.4,517.7L1052.4,519.1L1048.3,517.3L1044.2,514.1L1038.8,510.4L1035.9,507.7L1031.8,504.9L1028.8,500.3L1028.3,496.7L1025.4,493.9L1022.4,490.3L1020.3,488.0L1016.9,485.2L1014.0,482.5L1013.4,477.9L1010.2,472.0L1012.8,467.8L1014.5,463.7L1014.4,456.9L1014.0,450.9L1012.4,446.3L1010.2,443.6L1009.9,439.5L1012.2,434.0L1013.9,429.8L1017.0,425.7L1018.0,419.8L1021.4,415.7L1023.2,411.5L1028.3,408.8L1032.9,405.1L1034.0,400.1L1032.8,395.1L1033.9,390.5L1036.3,386.8L1039.5,385.4L1042.2,383.6L1043.6,379.0ZM1279.2,594.2L1281.3,601.0L1281.4,609.3L1278.9,612.5L1276.6,619.4L1273.5,626.2L1270.3,633.1L1265.5,644.5L1261.4,652.8L1252.9,656.0L1248.6,653.7L1248.1,646.8L1248.5,640.0L1253.6,633.1L1254.4,628.5L1254.3,621.6L1257.1,613.9L1263.9,611.1L1269.7,607.0L1273.2,601.0L1277.0,596.5ZM-320.1,374.0L-313.8,371.3L-305.0,370.8L-295.7,367.2L-286.4,362.1L-284.0,358.5L-273.3,353.0L-264.1,349.9L-255.1,345.8L-250.4,341.7L-244.9,340.4L-241.0,341.3L-238.2,342.2L-231.7,339.5L-221.6,336.3L-219.9,338.6L-224.7,343.1L-224.5,345.8L-224.8,348.1L-225.2,350.8L-223.0,352.6L-223.2,355.3L-221.6,356.2L-226.4,360.8L-225.9,361.7L-231.6,365.3L-227.2,364.0L-221.5,360.8L-219.8,357.6L-215.1,354.4L-213.4,354.0L-213.1,356.2L-212.6,357.1L-210.2,355.3L-210.7,352.6L-211.3,351.2L-212.4,349.4L-209.5,347.6L-213.3,347.1L-213.4,344.9L-209.6,339.9L-209.7,337.2L-205.6,333.6L-202.8,331.8L-196.5,330.9L-200.9,333.6L-196.5,332.2L-197.0,334.5L-199.9,337.2L-199.6,340.4L-198.5,342.6L-198.5,344.4L-198.2,348.1L-201.0,350.3L-205.8,354.4L-207.1,357.6L-208.5,361.2L-209.5,364.0L-211.5,366.2L-214.6,370.8L-213.3,372.6L-210.2,372.2L-207.2,367.6L-202.3,365.3L-201.8,366.7L-199.5,364.4L-199.4,360.8L-197.9,359.4L-195.9,356.2L-191.7,353.5L-191.8,356.2L-188.6,355.3L-186.6,352.6L-182.4,352.1L-179.5,352.6L-181.5,355.3L-185.0,358.5L-186.6,362.1L-188.0,363.5L-192.5,369.9L-190.4,371.3L-187.0,371.3L-184.2,373.1L-180.1,370.4L-176.9,372.2L-175.9,374.5L-170.1,373.1L-165.8,370.8L-162.1,371.7L-160.6,371.7L-166.2,376.8L-171.0,381.8L-174.0,384.1L-180.1,389.1L-183.3,392.3L-187.7,395.5L-191.8,396.9L-195.8,396.0L-199.3,401.9L-201.7,408.3L-199.5,412.5L-196.1,408.8L-191.2,404.2L-195.8,410.2L-196.3,414.3L-194.9,420.2L-195.6,427.1L-193.4,429.4L-192.6,434.9L-193.4,440.8L-192.8,447.7L-191.1,453.7L-189.4,460.1L-188.2,463.7L-189.6,470.6L-190.1,478.4L-189.6,481.1L-183.5,480.7L-176.8,477.9L-168.0,475.2L-165.0,472.9L-156.5,469.7L-151.1,467.8L-149.2,464.2L-141.9,461.4L-134.7,457.8L-129.7,454.6L-124.1,452.3L-121.7,445.4L-117.5,444.5L-110.2,436.3L-113.0,431.2L-118.5,429.4L-119.3,425.7L-116.1,418.9L-118.4,420.2L-122.6,423.4L-127.8,427.1L-135.5,428.5L-139.2,428.0L-137.8,424.8L-135.8,419.8L-139.9,422.5L-141.4,425.7L-142.0,422.1L-140.4,417.9L-142.2,413.4L-141.5,408.8L-140.9,404.7L-137.2,401.9L-132.7,401.0L-130.6,401.9L-131.5,407.0L-131.4,411.5L-128.4,413.8L-124.6,417.0L-118.5,416.6L-114.4,414.7L-112.6,416.6L-113.7,421.2L-112.2,422.1L-107.9,423.0L-101.8,423.4L-95.5,424.4L-86.7,423.9L-78.4,423.0L-77.6,425.7L-77.5,430.3L-75.1,431.2L-73.7,434.0L-68.0,434.4L-74.1,437.2L-72.2,443.1L-68.7,444.5L-63.5,443.1L-60.0,437.6L-60.3,440.8L-61.5,443.1L-64.0,452.3L-64.9,461.4L-64.9,468.3L-63.7,480.2L-61.3,488.0L-60.6,493.5L-58.8,500.3L-56.6,502.2L-53.3,498.5L-49.8,496.7L-47.9,492.1L-45.5,492.1L-44.9,486.6L-41.5,479.3L-40.3,470.6L-36.8,466.5L-34.9,466.9L-29.5,463.3L-24.1,458.2L-15.1,450.9L-11.2,448.6L-6.3,445.4L-4.2,441.3L0.0,440.4L4.1,439.9L10.5,438.5L14.5,435.8L16.1,437.2L15.6,441.3L15.8,444.5L17.4,447.2L19.5,450.9L20.8,454.6L19.3,461.4L17.3,466.0L21.1,466.9L25.0,464.2L28.7,462.3L30.5,461.4L31.5,463.7L30.2,470.6L30.8,475.2L31.0,482.0L30.3,488.9L29.2,493.5L27.7,498.1L27.1,503.1L29.6,502.6L31.6,506.3L34.1,510.0L34.1,514.5L34.9,520.0L37.4,525.5L40.9,529.2L45.6,532.4L47.2,533.3L49.2,532.8L48.2,527.8L46.0,523.2L46.4,517.3L45.3,515.0L42.1,510.9L39.5,507.7L36.1,506.3L35.1,500.3L34.4,496.7L31.5,496.7L32.7,491.2L34.7,486.6L36.7,482.0L37.8,478.4L39.9,477.5L41.5,477.9L40.8,481.6L42.8,481.6L46.1,483.4L48.1,485.7L48.4,488.9L50.0,491.2L52.8,491.2L54.7,492.1L54.6,495.8L53.7,499.9L56.7,498.1L61.2,494.8L62.4,492.1L64.0,491.6L68.4,489.4L72.4,486.6L74.4,482.0L75.2,477.5L75.1,476.1L75.3,469.2L73.4,465.6L71.5,463.3L68.7,458.7L68.6,455.9L66.9,453.7L68.6,448.6L72.0,446.3L73.5,444.0L78.3,440.8L80.8,440.4L83.9,440.8L85.5,442.2L84.8,446.3L86.7,446.3L88.6,442.2L93.0,440.8L97.3,439.5L101.8,437.6L104.7,437.2L110.3,435.3L115.9,432.6L123.1,427.1L129.3,422.5L131.3,420.2L136.2,414.3L139.5,411.1L144.9,405.6L147.5,402.4L144.8,400.6L144.7,399.2L149.5,397.3L151.4,394.1L149.9,390.5L151.4,382.7L149.3,379.0L156.5,374.0L163.0,370.8L167.3,369.9L168.5,368.1L164.9,367.2L159.0,368.1L155.0,368.5L153.9,364.4L155.2,360.8L160.7,359.9L165.2,356.7L173.7,352.1L177.5,353.0L169.9,358.5L169.5,361.2L177.3,357.6L183.4,356.2L184.9,358.5L182.4,362.1L178.5,365.3L180.6,366.7L184.2,367.6L180.3,372.2L178.4,376.8L176.2,380.0L178.9,381.3L184.5,379.5L187.3,378.6L191.1,374.5L194.0,369.0L193.7,364.4L192.5,359.9L196.8,356.2L206.0,352.1L209.3,348.1L214.2,345.8L221.3,342.2L224.4,343.5L239.2,335.8L249.7,329.1L260.2,322.4L271.6,315.7L280.1,306.8L288.0,301.1L291.7,297.2L288.5,295.9L287.1,293.7L282.9,292.8L287.0,289.4L277.3,290.7L289.1,285.1L296.7,281.6L309.7,276.5L319.1,272.3L324.8,270.6L333.4,271.0L344.5,269.8L350.3,269.8L355.8,271.4L363.5,270.2L372.2,264.7L380.7,261.0L389.1,260.6L400.3,257.3L406.2,257.7L398.0,261.8L390.2,266.0L381.7,268.1L367.2,276.5L359.0,280.8L347.8,289.4L339.9,298.1L336.9,305.5L336.2,307.3L345.6,302.4L350.6,298.1L360.5,291.5L369.1,289.4L373.2,283.8L377.9,284.2L382.9,277.4L381.4,276.5L391.1,270.2L397.9,268.1L401.8,268.1L409.5,266.0L415.0,268.1L424.2,263.9L435.1,260.6L446.5,257.7L452.1,258.5L455.4,253.6L455.2,248.7L460.1,248.3L468.8,245.5L473.2,242.3L478.0,245.5L482.8,249.9L490.1,247.5L498.9,243.5L498.0,239.9L488.1,237.6L479.8,233.7L474.0,230.6L467.2,228.6L455.0,227.9L449.3,231.7L446.0,229.4L436.8,229.8L425.1,229.8L423.1,229.0L420.4,224.1L405.6,224.5L403.3,221.8L400.7,219.6L388.8,218.1L379.8,218.5L365.7,222.2L354.3,222.2L342.9,224.1L345.8,220.3L349.3,214.8L342.2,214.1L335.0,216.6L325.2,216.6L314.5,214.1L315.9,212.3L305.5,213.0L291.6,215.9L294.4,213.0L313.5,207.6L328.0,205.8L325.3,203.4L319.6,202.3L318.1,199.9L297.1,204.1L280.6,205.5L262.2,207.6L243.2,211.2L240.4,213.7L224.6,215.9L220.8,214.4L212.6,220.3L210.6,219.2L205.1,218.5L195.5,220.3L198.4,217.0L183.1,222.2L167.1,231.7L153.2,237.6L141.4,241.5L157.5,233.7L177.8,224.1L192.0,217.4L189.1,215.5L178.3,218.5L166.3,224.1L149.8,229.8L145.1,234.4L143.6,231.7L141.5,230.6L133.7,228.6L123.6,232.9L113.2,233.7L102.7,234.4L103.8,232.5L88.4,235.6L78.0,235.6L74.7,233.7L73.5,233.3L62.9,239.5L56.6,242.3L53.6,243.5L52.2,241.5L39.6,244.7L31.4,248.7L21.2,250.7L24.7,247.5L14.9,251.6L12.9,249.9L25.0,241.5L27.8,239.5L30.2,241.9L38.3,243.1L50.8,240.7L60.0,236.8L58.7,235.6L57.5,232.1L51.6,230.2L47.8,228.6L48.5,227.1L53.2,226.3L51.5,224.1L44.7,223.7L35.3,224.8L23.9,227.1L11.9,229.0L-0.5,231.7L-12.3,234.8L-21.8,237.6L-40.0,243.5L-52.1,247.5L-63.0,250.7L-73.4,253.6L-79.2,254.8L-88.4,256.9L-100.4,259.7L-110.0,263.9L-114.3,266.4L-124.2,271.0L-125.2,272.3L-130.3,276.1L-129.5,276.5L-125.4,276.1L-112.8,272.3L-106.7,271.0L-101.2,268.5L-107.9,272.3L-112.3,274.8L-115.9,277.8L-123.7,282.9L-127.1,285.1L-130.0,287.2L-126.8,287.6L-121.7,285.1L-114.4,284.2L-106.4,280.8L-99.2,277.4L-90.8,273.5L-80.8,270.6L-74.2,268.1L-73.2,265.1L-62.4,259.7L-53.0,256.5L-42.2,253.6L-36.5,252.4L-24.7,248.3L-15.6,245.1L-7.7,244.3L-11.0,247.5L-23.9,251.6L-39.1,255.2L-49.1,259.7L-57.2,263.9L-60.6,266.4L-62.3,268.9L-52.6,267.2L-42.1,266.0L-37.4,265.6L-38.2,268.5L-47.7,269.8L-54.2,269.8L-59.2,270.2L-65.6,271.4L-70.4,274.0L-69.5,275.2L-78.1,279.5L-81.5,280.8L-84.0,280.3L-80.6,277.8L-86.6,279.1L-95.4,282.9L-101.3,286.4L-112.7,290.7L-119.4,292.0L-117.7,290.2L-126.1,291.5L-137.4,293.7L-136.2,291.5L-143.7,292.8L-149.0,293.7L-148.2,292.0L-146.1,290.2L-140.1,287.2L-133.5,284.2L-129.0,282.9L-122.1,278.6L-120.1,277.8L-124.4,278.6L-133.9,280.8L-142.5,285.1L-146.2,287.2L-149.7,289.8L-154.5,292.8L-157.2,294.1L-161.3,295.4L-166.2,295.9L-169.7,296.3L-177.6,298.1L-186.6,302.0L-188.8,302.9L-194.6,305.1L-197.8,306.0L-203.9,307.3L-209.7,310.4L-213.6,311.7L-220.0,313.5L-224.5,313.9L-224.5,312.6L-231.5,317.0L-233.7,317.5L-237.6,316.6L-244.6,318.4L-247.7,321.0L-244.7,322.4L-243.8,323.7L-247.5,328.7L-251.0,331.3L-257.0,335.4L-265.4,340.4L-268.1,341.3L-273.4,340.4L-279.8,339.9L-286.4,339.5L-290.9,340.8L-297.3,343.1L-299.9,346.2L-305.6,350.8L-312.2,355.3L-318.6,359.0L-322.8,362.1L-321.7,363.5L-324.7,365.8L-329.7,369.9L-325.5,369.9L-321.1,369.0L-322.0,372.2L-321.7,374.5ZM1045.9,374.0L1048.7,371.3L1056.9,370.8L1061.3,367.2L1063.8,362.1L1060.9,358.5L1063.5,353.0L1067.7,349.9L1070.1,345.8L1068.0,341.7L1071.2,340.4L1076.7,341.3L1081.0,342.2L1083.0,339.5L1087.7,336.3L1093.2,338.6L1096.0,343.1L1100.6,345.8L1104.0,348.1L1108.0,350.8L1113.1,352.6L1117.0,355.3L1119.9,356.2L1121.8,360.8L1123.6,361.7L1122.9,365.3L1125.5,364.0L1126.7,360.8L1123.7,357.6L1123.7,354.4L1124.7,354.0L1128.5,356.2L1130.3,357.1L1130.0,355.3L1125.3,352.6L1122.6,351.2L1118.6,349.4L1118.6,347.6L1114.0,347.1L1110.2,344.9L1105.8,339.9L1101.1,337.2L1099.0,333.6L1098.7,331.8L1103.4,330.9L1103.7,333.6L1105.7,332.2L1109.1,334.5L1110.9,337.2L1116.6,340.4L1121.5,342.6L1124.4,344.4L1130.6,348.1L1131.5,350.3L1133.0,354.4L1136.4,357.6L1140.3,361.2L1143.2,364.0L1144.3,366.2L1147.3,370.8L1151.0,372.6L1153.5,372.2L1150.4,367.6L1152.3,365.3L1154.6,366.7L1153.9,364.4L1148.8,360.8L1148.3,359.4L1145.6,356.2L1145.7,353.5L1149.7,356.2L1151.6,355.3L1149.4,352.6L1153.0,352.1L1156.5,352.6L1158.7,355.3L1159.9,358.5L1163.5,362.1L1164.0,363.5L1168.2,369.9L1172.1,371.3L1175.5,371.3L1180.7,373.1L1181.2,370.4L1186.8,372.2L1190.6,374.5L1194.7,373.1L1196.1,370.8L1201.0,371.7L1202.5,371.7L1203.2,376.8L1204.6,381.8L1204.3,384.1L1204.0,389.1L1204.2,392.3L1203.3,395.5L1200.6,396.9L1195.7,396.0L1198.1,401.9L1201.7,408.3L1207.4,412.5L1207.7,408.8L1208.5,404.2L1209.2,410.2L1212.2,414.3L1218.2,420.2L1222.3,427.1L1225.9,429.4L1230.1,434.9L1232.7,440.8L1236.9,447.7L1241.9,453.7L1246.8,460.1L1249.8,463.7L1251.5,470.6L1254.1,478.4L1255.6,481.1L1261.6,480.7L1267.3,477.9L1275.0,475.2L1277.1,472.9L1284.2,469.7L1288.8,467.8L1289.0,464.2L1294.9,461.4L1300.3,457.8L1303.7,454.6L1308.1,452.3L1306.8,445.4L1310.6,444.5L1313.3,436.3L1307.5,431.2L1300.8,429.4L1297.7,425.7L1296.0,418.9L1294.7,420.2L1292.8,423.4L1290.1,427.1L1283.3,428.5L1279.3,428.0L1278.6,424.8L1277.0,419.8L1274.9,422.5L1275.6,425.7L1272.4,422.1L1271.0,417.9L1265.5,413.4L1262.3,408.8L1259.1,404.7L1260.2,401.9L1263.8,401.0L1266.8,401.9L1270.7,407.0L1274.8,411.5L1279.7,413.8L1286.1,417.0L1291.8,416.6L1294.4,414.7L1297.7,416.6L1300.1,421.2L1302.3,422.1L1307.2,423.0L1313.6,423.4L1320.5,424.4L1329.1,423.9L1336.7,423.0L1339.4,425.7L1342.5,430.3L1345.4,431.2L1348.4,434.0L1354.5,434.4L1349.9,437.2L1355.1,443.1L1359.4,444.5L1363.9,443.1L1364.3,437.6L1365.8,440.8L1365.8,443.1L1368.1,452.3L1372.0,461.4L1375.2,468.3L1381.1,480.2L1386.2,488.0L1388.4,493.5L1391.9,500.3L1394.5,502.2L1397.0,498.5L1400.0,496.7L1400.7,492.1L1403.1,492.1L1402.1,486.6L1403.1,479.3L1400.9,470.6L1402.5,466.5L1404.6,466.9L1408.3,463.3L1411.2,458.2L1416.4,450.9L1419.0,448.6L1422.3,445.4L1422.1,441.3L1425.9,440.4L1429.7,439.9L1435.3,438.5L1437.8,435.8L1440.1,437.2L1441.9,441.3L1443.9,444.5L1446.9,447.2L1451.0,450.9L1454.2,454.6L1456.2,461.4L1456.4,466.0L1460.6,466.9L1463.2,464.2L1466.0,462.3L1467.4,461.4L1469.5,463.7L1471.3,470.6L1473.8,475.2L1476.6,482.0L1478.0,488.9L1478.2,493.5L1477.9,498.1L1478.4,503.1L1480.8,502.6L1483.6,506.3L1486.7,510.0L1487.4,514.5L1489.0,520.0L1492.1,525.5L1495.9,529.2L1500.9,532.4L1502.5,533.3L1504.5,532.8L1503.1,527.8L1500.5,523.2L1500.2,517.3L1498.8,515.0L1494.8,510.9L1491.7,507.7L1488.0,506.3L1485.8,500.3L1484.2,496.7L1481.4,496.7L1481.1,491.2L1481.7,486.6L1482.2,482.0L1482.0,478.4L1483.8,477.5L1485.5,477.9L1486.1,481.6L1488.1,481.6L1492.0,483.4L1494.8,485.7L1496.1,488.9L1498.4,491.2L1501.2,491.2L1503.3,492.1L1504.2,495.8L1504.3,499.9L1506.9,498.1L1510.5,494.8L1511.0,492.1L1512.5,491.6L1516.2,489.4L1519.4,486.6L1519.9,482.0L1519.1,477.5L1518.5,476.1L1515.9,469.2L1512.2,465.6L1509.3,463.3L1504.2,458.7L1502.7,455.9L1499.8,453.7L1498.9,448.6L1501.1,446.3L1501.3,444.0L1504.4,440.8L1506.6,440.4L1509.9,440.8L1512.3,442.2L1513.8,446.3L1515.8,446.3L1515.5,442.2L1519.1,440.8L1522.6,439.5L1526.1,437.6L1528.7,437.2L1533.3,435.3L1537.2,432.6L1541.0,427.1L1544.1,422.5L1544.4,420.2L1544.7,414.3L1545.3,411.1L1545.8,405.6L1545.4,402.4L1541.0,400.6L1539.5,399.2L1542.4,397.3L1541.0,394.1L1535.4,390.5L1528.1,382.7L1521.6,379.0L1522.5,374.0L1524.9,370.8L1528.0,369.9L1526.8,368.1L1522.0,367.2L1517.3,368.1L1513.9,368.5L1507.2,364.4L1503.5,360.8L1507.6,359.9L1507.5,356.7L1509.0,352.1L1514.2,353.0L1514.8,358.5L1518.4,361.2L1520.8,357.6L1525.0,356.2L1529.8,358.5L1532.6,362.1L1533.1,365.3L1537.1,366.7L1541.9,367.6L1544.0,372.2L1547.9,376.8L1549.6,380.0L1554.0,381.3L1557.3,379.5L1559.0,378.6L1557.7,374.5L1553.5,369.0L1547.1,364.4L1539.4,359.9L1538.4,356.2L1541.3,352.1L1538.1,348.1L1539.4,345.8L1540.5,342.2L1545.8,343.5L1547.6,335.8L1546.4,329.1L1544.9,322.4L1543.7,315.7L1534.5,306.8L1530.2,301.1L1525.1,297.2L1519.0,295.9L1512.7,293.7L1506.4,292.8L1502.5,289.4L1495.8,290.7L1494.3,285.1L1493.6,281.6L1493.8,276.5L1492.5,272.3L1493.9,270.6L1503.6,271.0L1511.4,269.8L1517.2,269.8L1527.0,271.4L1531.5,270.2L1525.8,264.7L1524.3,261.0L1531.6,260.6L1533.7,257.3L1540.8,257.7L1543.9,261.8L1547.2,266.0L1544.3,268.1L1551.4,276.5L1553.8,280.8L1563.3,289.4L1575.3,298.1L1588.5,305.5L1591.5,307.3L1590.6,302.4L1586.0,298.1L1581.0,291.5L1584.6,289.4L1575.4,283.8L1581.0,284.2L1569.2,277.4L1565.6,276.5L1559.1,270.2L1560.4,268.1L1564.3,268.1L1566.5,266.0L1577.5,268.1L1575.6,263.9L1577.6,260.6L1581.1,257.7L1588.9,258.5L1578.6,253.6L1564.5,248.7L1568.3,248.3L1568.9,245.5L1563.9,242.3L1578.0,245.5L1595.6,249.9L1595.9,247.5L1593.1,243.5L1581.6,239.9L1564.5,237.6L1544.2,233.7L1528.7,230.6L1515.8,228.6L1501.0,227.9L1507.7,231.7L1497.0,229.4L1489.0,229.8L1477.3,229.8L1472.8,229.0L1454.0,224.1L1440.4,224.5L1429.2,221.8L1418.9,219.6L1401.7,218.1L1394.0,218.5L1392.9,222.2L1381.5,222.2L1376.4,224.1L1366.6,220.3L1350.1,214.8L1340.4,214.1L1342.6,216.6L1332.8,216.6L1312.6,214.1L1307.2,212.3L1299.5,213.0L1296.5,215.9L1288.5,213.0L1286.3,207.6L1293.4,205.8L1280.1,203.4L1270.0,202.3L1257.7,199.9L1255.0,204.1L1244.4,205.5L1234.9,207.6L1230.2,211.2L1237.2,213.7L1229.5,215.9L1220.3,214.4L1233.3,220.3L1227.5,219.2L1219.3,218.5L1216.3,220.3L1207.4,217.0L1210.3,222.2L1225.5,231.7L1229.6,237.6L1229.7,241.5L1221.9,233.7L1211.4,224.1L1202.3,217.4L1192.7,215.5L1192.6,218.5L1199.9,224.1L1202.0,229.8L1211.9,234.4L1201.9,231.7L1196.2,230.6L1182.3,228.6L1185.6,232.9L1177.6,233.7L1169.5,234.4L1164.5,232.5L1158.9,235.6L1148.5,235.6L1139.2,233.7L1136.7,233.3L1145.3,239.5L1147.3,242.3L1147.8,243.5L1140.5,241.5L1137.3,244.7L1140.8,248.7L1136.3,250.7L1130.5,247.5L1132.4,251.6L1125.8,249.9L1113.3,241.5L1110.2,239.5L1119.7,241.9L1131.4,243.1L1136.8,240.7L1134.1,236.8L1129.1,235.6L1117.0,232.1L1105.0,230.2L1096.3,228.6L1092.1,227.1L1094.3,226.3L1085.0,224.1L1077.0,223.7L1071.3,224.8L1067.4,227.1L1061.7,229.0L1057.9,231.7L1055.7,234.8L1054.7,237.6L1054.2,243.5L1053.8,247.5L1052.1,250.7L1049.8,253.6L1047.4,254.8L1043.9,256.9L1039.8,259.7L1041.5,263.9L1043.8,266.4L1045.9,271.0L1048.2,272.3L1052.8,276.1L1054.7,276.5L1057.8,276.1L1060.6,272.3L1063.5,271.0L1062.4,268.5L1065.5,272.3L1067.6,274.8L1071.5,277.8L1076.3,282.9L1078.2,285.1L1080.3,287.2L1084.6,287.6L1083.5,285.1L1088.7,284.2L1088.4,280.8L1087.1,277.4L1085.8,273.5L1088.3,270.6L1088.3,268.1L1081.6,265.1L1077.9,259.7L1078.2,256.5L1081.0,253.6L1083.3,252.4L1083.5,248.3L1083.3,245.1L1088.8,244.3L1094.9,247.5L1093.6,251.6L1088.7,255.2L1091.2,259.7L1094.3,263.9L1097.5,266.4L1102.4,268.9L1107.7,267.2L1114.9,266.0L1118.5,265.6L1125.4,268.5L1119.2,269.8L1112.7,269.8L1108.8,270.2L1105.7,271.4L1107.3,274.0L1111.4,275.2L1113.5,279.5L1113.3,280.8L1109.8,280.3L1106.8,277.8L1104.0,279.1L1104.7,282.9L1107.1,286.4L1105.9,290.7L1102.2,292.0L1099.9,290.2L1094.5,291.5L1088.2,293.7L1084.3,291.5L1079.9,292.8L1076.6,293.7L1073.3,292.0L1071.5,290.2L1070.2,287.2L1069.7,284.2L1071.0,282.9L1067.4,278.6L1067.2,277.8L1065.1,278.6L1060.9,280.8L1062.8,285.1L1064.2,287.2L1066.8,289.8L1069.0,292.8L1069.3,294.1L1068.2,295.4L1064.4,295.9L1061.8,296.3L1057.8,298.1L1057.5,302.0L1057.2,302.9L1056.0,305.1L1054.7,306.0L1051.4,307.3L1051.9,310.4L1050.7,311.7L1047.8,313.5L1044.1,313.9L1041.5,312.6L1043.1,317.0L1041.8,317.5L1036.2,316.6L1032.6,318.4L1034.5,321.0L1039.9,322.4L1043.3,323.7L1048.5,328.7L1049.7,331.3L1050.6,335.4L1050.8,340.4L1049.6,341.3L1042.7,340.4L1035.6,339.9L1028.2,339.5L1026.0,340.8L1023.3,343.1L1026.0,346.2L1027.6,350.8L1028.0,355.3L1027.0,359.0L1027.4,362.1L1030.3,363.5L1030.5,365.8L1031.0,369.9L1035.2,369.9L1038.4,369.0L1041.7,372.2L1044.9,374.5ZM1026.5,310.8L1031.3,309.5L1033.9,309.9L1035.0,308.2L1040.2,308.2L1046.3,307.7L1049.6,306.4L1047.7,305.1L1047.9,299.8L1042.6,298.5L1041.5,295.9L1039.2,293.7L1034.3,291.1L1031.2,287.2L1029.1,285.5L1024.9,285.1L1025.9,283.3L1026.7,279.9L1026.5,278.2L1020.7,277.8L1018.8,278.6L1020.1,274.8L1020.6,274.0L1014.1,274.0L1014.5,278.6L1014.3,282.1L1017.2,285.1L1019.8,287.2L1021.4,289.4L1020.7,290.2L1026.0,289.8L1027.0,292.4L1029.6,294.6L1030.4,296.3L1025.7,296.8L1026.3,298.9L1028.3,300.7L1025.4,302.9L1029.3,304.2L1033.8,305.1L1032.4,306.0L1029.3,306.8ZM1019.6,296.8L1021.1,301.6L1015.8,303.3L1010.0,304.6L1007.2,301.6L1008.8,298.1L1005.5,293.7L1009.7,291.5L1010.2,288.5L1016.3,288.5L1019.4,291.1L1019.1,293.7ZM942.5,245.5L947.2,241.9L954.2,244.3L959.6,242.7L965.2,241.5L971.5,245.5L975.2,248.3L972.2,250.7L964.0,253.6L955.9,252.8L949.4,252.0L950.2,249.9L943.3,247.9L948.9,246.3ZM1008.1,194.0L1019.0,192.5L1030.5,191.5L1046.7,192.5L1043.0,195.6L1038.0,197.9L1036.6,201.3L1033.5,203.4L1022.7,200.6L1011.5,197.3ZM1151.1,224.1L1159.5,225.2L1169.6,225.2L1157.3,218.5L1150.4,213.0L1152.7,208.7L1163.0,204.8L1169.6,202.3L1161.7,202.3L1150.2,205.1L1143.2,208.7L1144.4,214.8L1148.3,220.3ZM1224.4,195.6L1240.8,197.3L1247.4,195.6L1223.0,189.4L1213.2,189.4ZM389.2,207.6L405.1,209.4L422.6,208.7L416.5,205.8L401.7,205.1ZM482.1,224.1L491.7,221.8L494.4,223.3L485.7,224.8ZM1110.9,365.3L1122.3,364.4L1122.5,371.3L1111.5,367.2ZM1090.6,352.1L1095.5,351.2L1098.3,359.9L1094.1,360.8ZM1089.7,344.9L1092.2,342.6L1094.3,349.9L1091.4,349.0ZM1155.9,376.3L1167.0,377.7L1166.5,379.5L1156.9,378.1ZM1190.3,379.0L1197.8,376.3L1196.6,379.5L1191.7,380.9ZM1403.4,494.8L1409.2,500.3L1412.5,505.8L1412.0,509.5L1407.8,512.2L1404.8,509.5L1403.8,502.6ZM137.9,423.9L138.0,427.1L134.0,434.0L130.4,438.5L129.3,434.0L133.7,427.1ZM1510.7,451.4L1513.0,447.7L1518.9,447.7L1518.4,453.2L1515.1,455.9L1511.4,454.1ZM191.5,383.6L201.0,377.2L207.2,376.3L212.9,376.3L217.1,372.2L224.2,367.6L223.5,370.8L228.8,368.1L232.3,365.3L239.8,358.5L243.0,354.0L246.2,350.8L250.9,349.9L248.6,354.0L247.6,358.5L242.5,364.0L239.8,365.3L237.3,369.9L233.3,374.5L233.7,375.8L228.6,379.0L229.0,376.8L226.0,378.1L223.5,380.9L221.4,380.4L216.2,380.9L215.1,382.2L209.1,385.9L208.0,382.7L209.7,380.9L204.8,380.9L200.2,382.2L197.9,382.2L191.6,384.1ZM191.2,384.1L193.6,385.4L192.5,389.1L187.5,395.5L183.9,397.3L182.6,396.0L184.6,391.9L184.0,389.1L185.2,386.8L188.6,385.4ZM197.6,383.6L204.0,382.2L205.5,384.5L202.5,386.8L196.7,389.1L195.6,386.8ZM246.0,349.4L249.6,345.8L252.8,344.9L256.4,344.4L259.3,347.1L266.5,342.6L271.8,341.3L274.2,336.7L269.6,338.1L266.8,335.4L265.3,331.3L261.7,335.8L256.4,341.3L253.1,341.3L248.4,344.9ZM267.7,329.1L275.7,325.5L275.2,322.4L281.5,315.7L287.5,314.8L289.9,306.8L295.7,300.3L301.3,292.4L296.0,295.9L288.6,302.4L281.9,311.3L274.4,320.2ZM125.5,454.6L131.9,454.6L130.7,461.4L126.6,466.9L125.4,472.9L128.8,474.2L134.0,476.1L133.9,481.6L131.0,479.7L128.3,477.0L124.3,476.5L121.3,475.6L121.4,472.9L119.9,470.6L120.0,464.6L122.7,463.3L123.6,459.1ZM137.3,494.4L140.7,500.3L140.4,507.2L139.0,510.4L135.5,513.6L135.0,509.5L130.0,510.9L130.4,506.3L127.7,504.9L122.6,507.7L123.9,502.6L129.1,499.9L133.0,500.3ZM134.6,482.0L139.2,483.4L139.2,488.9L135.8,493.5L134.7,492.6L134.3,487.1ZM124.9,485.2L129.1,486.6L130.1,491.2L128.6,496.7L125.5,495.8L127.7,491.2L124.1,491.2ZM103.6,500.8L109.3,496.7L114.5,487.5L112.7,492.1L107.9,498.5ZM119.7,477.9L123.6,478.4L122.4,482.9L120.4,482.9ZM68.2,532.4L71.1,530.1L77.7,526.9L84.7,524.6L89.1,518.7L93.3,516.4L97.7,511.8L101.3,507.2L104.7,510.4L107.6,514.1L110.3,515.4L106.5,518.7L103.9,520.9L104.1,525.5L104.7,530.1L108.2,534.7L103.7,535.6L102.4,539.2L102.5,543.8L99.7,545.2L98.7,550.7L97.7,555.3L97.0,557.6L91.8,558.0L90.8,555.3L84.7,553.9L79.9,555.3L73.4,553.0L72.3,547.0L68.9,541.5L68.8,539.2L68.1,534.7ZM1523.5,532.4L1526.3,530.1L1532.6,526.9L1539.4,524.6L1543.1,518.7L1546.9,516.4L1550.6,511.8L1553.4,507.2L1557.3,510.4L1560.9,514.1L1563.8,515.4L1560.4,518.7L1558.1,520.9L1558.8,525.5L1559.8,530.1L1563.6,534.7L1559.2,535.6L1558.1,539.2L1558.0,543.8L1555.1,545.2L1553.7,550.7L1552.2,555.3L1551.3,557.6L1546.0,558.0L1545.4,555.3L1539.4,553.9L1534.4,555.3L1528.1,553.0L1527.5,547.0L1524.5,541.5L1524.5,539.2L1523.6,534.7ZM1467.2,513.6L1476.2,515.4L1479.7,519.6L1481.4,521.9L1486.9,526.4L1490.3,530.1L1495.2,532.4L1501.4,537.0L1502.6,541.5L1505.3,546.1L1511.2,552.1L1510.9,557.6L1509.5,565.8L1504.7,565.3L1500.6,561.2L1495.6,556.6L1491.0,550.7L1488.4,543.8L1483.2,537.0L1481.0,531.0L1476.9,527.8L1471.7,521.9L1467.8,517.3ZM54.4,570.4L57.3,566.3L60.5,566.7L67.7,569.9L75.8,570.8L77.7,568.5L84.7,570.8L92.3,574.5L92.4,578.6L85.4,577.7L78.5,576.8L70.2,574.5L66.2,575.0L59.9,572.7ZM1506.7,570.4L1510.3,566.3L1513.5,566.7L1520.1,569.9L1528.0,570.8L1530.3,568.5L1536.9,570.8L1543.8,574.5L1543.0,578.6L1536.2,577.7L1529.5,576.8L1521.6,574.5L1517.6,575.0L1511.7,572.7ZM96.6,576.8L102.8,577.7L110.8,577.2L111.0,579.5L103.1,580.4L97.7,579.5ZM114.0,577.7L126.8,576.8L127.1,579.1L115.1,580.0ZM111.4,582.7L118.9,584.6L116.7,586.4ZM130.0,586.4L133.4,581.8L143.1,577.7L141.3,580.4L133.9,585.9ZM112.6,537.0L115.9,533.3L124.7,534.7L132.9,531.9L133.7,533.8L128.7,537.4L116.6,537.4L113.7,539.2L112.6,543.4L116.7,545.7L125.9,543.4L124.0,547.0L119.6,548.4L122.3,554.4L126.3,559.8L124.1,564.4L119.9,561.2L117.1,555.3L114.6,553.0L115.3,564.9L111.7,564.9L111.0,555.3L108.0,551.6L109.8,545.2L111.7,539.2ZM143.1,529.2L145.0,534.7L147.9,532.4L147.7,537.9L144.9,542.5L143.7,537.9L142.9,534.7ZM145.3,553.0L156.6,553.9L155.6,556.6L146.2,555.3ZM137.2,553.9L142.1,554.4L141.4,556.6L137.8,556.2ZM157.1,542.9L161.1,541.1L169.6,542.9L170.2,548.4L173.6,554.4L179.5,549.3L185.5,546.6L191.6,548.4L197.7,551.2L208.0,555.3L214.3,559.4L217.8,564.4L224.8,566.7L226.2,569.9L223.1,570.4L224.5,573.6L227.6,576.8L234.2,582.7L239.9,587.3L236.8,587.8L228.5,585.9L224.1,582.7L219.5,576.8L213.3,574.5L209.5,577.2L207.8,580.4L199.8,581.4L194.6,576.8L188.1,577.2L190.0,571.3L186.3,564.4L178.0,560.3L169.7,557.1L165.7,557.6L164.7,553.0L169.5,551.2L163.4,550.7L158.4,546.1ZM227.9,564.9L234.8,564.4L240.5,558.5L243.7,558.9L242.8,564.4L237.0,568.1L230.9,567.6ZM237.4,551.6L244.4,556.2L246.7,560.8L245.4,560.3L241.6,555.3L237.0,552.5ZM253.2,563.1L258.5,569.0L257.4,570.8L253.9,566.7ZM274.4,581.8L279.8,583.7L278.7,584.6L274.9,583.2ZM299.7,631.3L310.9,637.7L313.5,641.3L307.1,638.6L300.9,633.1ZM350.5,618.9L355.7,619.4L355.5,622.6L351.0,622.1ZM206.6,588.2L211.7,596.5L214.2,604.7L221.2,610.2L224.5,617.1L230.6,627.6L238.4,632.2L242.0,636.3L249.3,642.2L250.7,646.8L258.5,652.8L262.5,656.0L265.2,665.1L268.5,670.2L269.3,677.9L270.5,683.0L269.2,689.9L269.3,694.4L270.2,700.4L270.1,706.3L272.5,710.9L265.9,712.7L263.0,718.2L254.5,713.2L251.3,716.8L243.1,715.0L237.9,713.2L232.3,708.6L229.1,704.0L226.2,702.2L222.6,699.0L219.1,695.8L219.5,700.4L216.0,697.2L215.6,690.3L214.5,688.0L213.7,692.6L212.7,699.0L209.1,697.2L201.8,690.3L197.9,686.2L191.1,685.7L186.9,683.4L178.9,684.4L172.5,687.1L167.6,688.9L163.1,691.2L156.8,694.4L149.7,694.9L144.4,699.5L132.1,696.7L129.3,692.6L131.1,691.7L128.2,685.7L122.0,678.9L116.8,671.1L112.3,665.1L107.3,658.3L105.3,653.7L104.3,646.8L103.7,639.0L106.1,642.2L107.4,638.1L113.0,634.0L119.7,632.2L124.8,630.3L129.7,626.2L131.4,621.6L130.7,617.1L132.8,614.3L136.2,618.4L136.7,613.9L137.8,609.3L141.0,605.6L144.6,603.3L146.0,602.0L151.3,607.0L152.9,608.8L157.3,607.0L156.2,601.0L158.5,597.4L160.7,596.0L163.3,595.1L167.2,594.2L167.2,591.4L164.7,590.5L171.1,593.3L177.4,595.1L183.3,594.2L185.1,595.6L184.3,601.0L182.7,605.6L181.5,607.9L186.2,611.6L191.9,613.9L197.3,617.1L205.0,619.4L205.6,612.5L205.5,605.6L204.4,598.8L205.0,594.2L205.6,589.6ZM261.1,725.5L268.9,727.3L274.6,726.4L278.2,731.4L280.3,736.8L277.5,738.6L274.2,738.1L268.6,733.6L263.8,729.1ZM352.1,696.7L359.9,700.8L364.6,707.7L368.6,707.2L370.7,711.3L376.0,713.2L380.3,711.8L381.1,717.7L378.2,719.5L379.9,723.2L376.8,729.5L374.2,728.2L373.0,723.6L366.0,719.1L367.9,716.8L365.6,710.9L361.8,706.3L354.4,699.5ZM364.6,724.5L372.4,728.2L372.9,731.4L372.2,738.1L373.9,739.9L368.8,741.8L370.9,748.5L368.4,752.1L364.1,752.1L356.0,749.4L355.0,744.9L357.1,740.4L362.5,735.9L363.2,730.4L363.4,725.9ZM1291.0,762.8L1297.1,763.2L1294.0,765.9L1289.4,765.5ZM644.0,220.0L651.0,213.5L662.0,212.5L673.0,213.5L670.0,217.0L663.0,220.0L660.0,224.0L650.0,225.0ZM663.0,221.5L670.0,217.5L677.0,216.0L684.0,218.0L692.0,220.0L694.0,215.5L701.0,215.5L705.0,223.0L710.0,228.0L709.0,232.0L700.0,232.0L690.0,233.5L684.0,236.0L669.0,236.0L667.0,230.0L664.0,226.0ZM674.5,207.0L682.0,204.5L692.0,206.5L700.0,205.5L705.0,207.0L704.0,209.5L692.0,210.0L682.0,210.0L676.0,209.0ZM661.5,205.0L668.0,202.0L680.0,200.5L681.0,202.5L673.0,204.5L664.0,206.5ZM690.0,199.5L694.5,197.0L700.0,197.0L699.0,199.5L693.0,200.8ZM712.5,196.0L718.0,195.5L725.0,197.5L724.0,199.0L717.0,198.5ZM729.5,197.0L734.0,196.5L735.0,198.2L730.5,198.5ZM717.0,206.0L723.0,204.3L728.0,205.0L727.0,208.0L720.0,209.0ZM730.0,208.5L735.0,207.8L736.0,209.5L731.5,210.2ZM712.0,218.0L717.0,214.5L725.0,214.5L727.0,219.0L723.0,222.0L716.0,221.0ZM730.5,216.0L735.0,213.5L743.0,214.0L744.0,216.0L736.0,220.0L732.0,220.0ZM740.0,206.0L746.0,204.5L760.0,206.0L774.0,208.0L775.0,210.0L765.0,211.0L750.0,210.0L742.0,209.0ZM737.0,192.0L744.0,189.5L753.0,190.0L760.0,192.5L758.0,196.0L750.0,197.5L743.0,196.0ZM752.0,187.0L765.0,185.0L780.0,185.0L800.0,184.0L815.0,183.5L820.0,187.0L810.0,191.0L800.0,196.0L790.0,198.0L780.0,202.0L778.0,205.0L765.0,204.0L753.0,203.0L758.0,200.0L765.0,198.0L762.0,194.0L770.0,191.0L760.0,189.0Z" fill="#4d4d4d" stroke="#fff" stroke-width="1.3" stroke-linejoin="round"/>
<g clip-path="url(#inl)"><use href="#oc"/></g>
<path d="M1162.9,349.4L1161.2,341.3L1161.3,333.6L1162.4,328.2L1167.5,327.8L1174.0,330.0L1176.9,335.8L1181.7,334.5L1186.2,332.7L1186.1,325.5L1191.0,324.6L1189.8,329.1L1190.3,333.6L1198.1,338.1L1208.1,343.5L1213.0,349.0L1208.4,351.7L1201.0,351.7L1195.0,350.8L1187.8,347.1L1182.2,347.1L1177.5,349.0L1173.0,351.2L1168.0,350.8ZM1228.1,326.9L1234.0,324.6L1241.7,325.5L1245.7,332.2L1241.6,334.5L1238.7,335.8L1244.9,340.4L1252.2,344.9L1258.4,351.7L1263.0,358.5L1265.2,365.3L1269.1,369.9L1262.0,370.8L1255.5,369.0L1249.4,366.2L1245.1,358.5L1244.7,354.0L1237.6,347.1L1231.5,342.6L1227.1,335.8L1223.5,331.3Z" fill="none" stroke="#fff" stroke-width="1.2"/>
<path d="M240,828L263.75,835.5L295,838.75L327.5,834.5L345,838.75L370,840L400,846L432.5,852.5L460,855.5L466,862.5L462.5,868.75L480,880L485,882.5L480,887.5L507.5,895L547.5,898.75L582.5,898.75L620,900L634,899.5L610,892L602,889L610,886L587,882.5L570,880L575,877.5L595,873.75L600,871L625,867.5L662.5,865L700,867.5L710,861L720,867.5L750,863L785,865L807.5,858.75L808,848L810,840L820,831L830,827L838,825L832,830L823,836L819,842L825,852.5L827.5,862.5L815,871L785,876L783.75,882.5L800,888.75L830,895L850,892.5L872.5,891L905,886L892.5,882.5L912.5,876L950,865L975,857L1000,856L1032.5,851L1075,851L1110,845L1117.5,849.5L1150,841L1180,835.5L1190,841L1213.75,843.75L1200,853.75L1195,858L1212.5,853.75L1250,842.5L1280,837.5L1300,840L1330,834.5L1332.5,838.75L1353.75,836L1400,832L1400,930L240,930Z" fill="#4d4d4d" stroke="#fff" stroke-width="1.3" stroke-linejoin="round"/><ellipse cx="857" cy="884" rx="13" ry="4" fill="#4d4d4d" stroke="#fff" stroke-width="1.2" transform="rotate(-12 857 884)"/><path d="M790,858 L797,848 L803,847 L805,856 L797,859Z" fill="#4d4d4d" stroke="#fff" stroke-width="1.2"/>
</g>
<path d="M1195.4,908.4L1208.9,904.7L1224.5,899.6L1241.7,893.3L1260.2,886.0L1279.3,877.9L1298.0,869.1L1315.1,860.0L1331.0,850.6L1346.2,840.9L1360.9,831.0L1375.3,820.8L1389.3,810.4L1402.8,799.9L1415.7,789.1L1428.1,778.2L1439.7,767.2L1450.3,756.1L1460.3,744.9L1469.8,733.6L1478.8,722.3L1486.8,710.9L1494.1,699.5L1500.8,688.0L1506.7,676.6L1511.9,665.1L1516.2,653.7L1519.8,642.2L1522.9,630.8L1525.9,619.4L1528.6,607.9L1530.8,596.5L1532.5,585.0L1533.8,573.6L1534.8,562.1L1535.5,550.7L1535.8,539.2L1535.5,527.8L1534.8,516.4L1533.8,504.9L1532.5,493.5L1530.8,482.0L1528.6,470.6L1525.9,459.1L1522.9,447.7L1519.8,436.3L1516.2,424.8L1511.9,413.4L1506.7,401.9L1500.8,390.5L1494.1,379.0L1486.8,367.6L1478.8,356.2L1469.8,344.9L1460.3,333.6L1450.3,322.4L1439.7,311.3L1428.1,300.3L1415.7,289.4L1402.8,278.6L1389.3,268.1L1375.3,257.7L1360.9,247.5L1346.2,237.6L1331.0,227.9L1315.1,218.5L1298.0,209.4L1279.3,200.6L1260.2,192.5L1241.7,185.2L1224.5,178.9L1208.9,173.8L1195.4,170.1L420.6,170.1L407.1,173.8L391.5,178.9L374.3,185.2L355.8,192.5L336.7,200.6L318.0,209.4L300.9,218.5L285.0,227.9L269.8,237.6L255.1,247.5L240.7,257.7L226.7,268.1L213.2,278.6L200.3,289.4L187.9,300.3L176.3,311.3L165.7,322.4L155.7,333.6L146.2,344.9L137.2,356.2L129.2,367.6L121.9,379.0L115.2,390.5L109.3,401.9L104.1,413.4L99.8,424.8L96.2,436.3L93.1,447.7L90.1,459.1L87.4,470.6L85.2,482.0L83.5,493.5L82.2,504.9L81.2,516.4L80.5,527.8L80.2,539.2L80.5,550.7L81.2,562.1L82.2,573.6L83.5,585.0L85.2,596.5L87.4,607.9L90.1,619.4L93.1,630.8L96.2,642.2L99.8,653.7L104.1,665.1L109.3,676.6L115.2,688.0L121.9,699.5L129.2,710.9L137.2,722.3L146.2,733.6L155.7,744.9L165.7,756.1L176.3,767.2L187.9,778.2L200.3,789.1L213.2,799.9L226.7,810.4L240.7,820.8L255.1,831.0L269.8,840.9L285.0,850.6L300.9,860.0L318.0,869.1L336.7,877.9L355.8,886.0L374.3,893.3L391.5,899.6L407.1,904.7L420.6,908.4Z" fill="none" stroke="#fff" stroke-width="1"/>
<rect x="113" y="940.8" width="78" height="26" fill="#cccccc"/>
<rect x="226.75" y="940.8" width="162.35" height="26" fill="#2b6fb0"/>
<rect x="394.75" y="940.8" width="161.05" height="26" fill="#6bacd0"/>
<rect x="561.25" y="940.8" width="160.75" height="26" fill="#c3deec"/>
<rect x="727.5" y="940.8" width="160.8" height="26" fill="#f9f9f9"/>
<rect x="894" y="940.8" width="160.6" height="26" fill="#facdb5"/>
<rect x="1060" y="940.8" width="161" height="26" fill="#e28068"/>
<rect x="1226.5" y="940.8" width="163.3" height="26" fill="#b82832"/>
<text x="110.75" y="995" font-size="22.9" font-weight="normal" fill="#364668" textLength="82.5" lengthAdjust="spacingAndGlyphs">Sea ice &amp;</text>
<text x="102.5" y="1023.5" font-size="22.9" font-weight="normal" fill="#364668" textLength="99.25" lengthAdjust="spacingAndGlyphs">ice shelves</text>
<text x="275.5" y="995" font-size="22.9" font-weight="normal" fill="#364668" textLength="67.75" lengthAdjust="spacingAndGlyphs">Coolest</text>
<text x="419.5" y="995" font-size="22.9" font-weight="normal" fill="#364668" textLength="111.25" lengthAdjust="spacingAndGlyphs">Much cooler</text>
<text x="417" y="1023.5" font-size="22.9" font-weight="normal" fill="#364668" textLength="116" lengthAdjust="spacingAndGlyphs">than average</text>
<text x="615.75" y="995" font-size="22.9" font-weight="normal" fill="#364668" textLength="56.75" lengthAdjust="spacingAndGlyphs">Cooler</text>
<text x="586.25" y="1023.5" font-size="22.9" font-weight="normal" fill="#364668" textLength="116.25" lengthAdjust="spacingAndGlyphs">than average</text>
<text x="749" y="995" font-size="22.9" font-weight="normal" fill="#364668" textLength="119" lengthAdjust="spacingAndGlyphs">Near average</text>
<text x="937.5" y="995" font-size="22.9" font-weight="normal" fill="#364668" textLength="68.75" lengthAdjust="spacingAndGlyphs">Warmer</text>
<text x="914.5" y="1023.5" font-size="22.9" font-weight="normal" fill="#364668" textLength="116" lengthAdjust="spacingAndGlyphs">than average</text>
<text x="1079.5" y="995" font-size="22.9" font-weight="normal" fill="#364668" textLength="123" lengthAdjust="spacingAndGlyphs">Much warmer</text>
<text x="1083" y="1023.5" font-size="22.9" font-weight="normal" fill="#364668" textLength="116.25" lengthAdjust="spacingAndGlyphs">than average</text>
<text x="1267" y="995" font-size="22.9" font-weight="normal" fill="#364668" textLength="79" lengthAdjust="spacingAndGlyphs">Warmest</text>
<rect x="269.25" y="1068" width="90.75" height="60.25" fill="#07428f"/>
<path d="M334.60,1094.50L335.41,1096.99L338.02,1096.99L335.91,1098.52L336.72,1101.01L334.60,1099.48L332.48,1101.01L333.29,1098.52L331.18,1096.99L333.79,1096.99ZM331.92,1104.50L332.73,1106.99L335.34,1106.99L333.23,1108.52L334.04,1111.01L331.92,1109.48L329.80,1111.01L330.61,1108.52L328.50,1106.99L331.11,1106.99ZM324.60,1111.82L325.41,1114.31L328.02,1114.31L325.91,1115.85L326.72,1118.33L324.60,1116.80L322.48,1118.33L323.29,1115.85L321.18,1114.31L323.79,1114.31ZM314.60,1114.50L315.41,1116.99L318.02,1116.99L315.91,1118.52L316.72,1121.01L314.60,1119.48L312.48,1121.01L313.29,1118.52L311.18,1116.99L313.79,1116.99ZM304.60,1111.82L305.41,1114.31L308.02,1114.31L305.91,1115.85L306.72,1118.33L304.60,1116.80L302.48,1118.33L303.29,1115.85L301.18,1114.31L303.79,1114.31ZM297.28,1104.50L298.09,1106.99L300.70,1106.99L298.59,1108.52L299.40,1111.01L297.28,1109.48L295.16,1111.01L295.97,1108.52L293.86,1106.99L296.47,1106.99ZM294.60,1094.50L295.41,1096.99L298.02,1096.99L295.91,1098.52L296.72,1101.01L294.60,1099.48L292.48,1101.01L293.29,1098.52L291.18,1096.99L293.79,1096.99ZM297.28,1084.50L298.09,1086.99L300.70,1086.99L298.59,1088.52L299.40,1091.01L297.28,1089.48L295.16,1091.01L295.97,1088.52L293.86,1086.99L296.47,1086.99ZM304.60,1077.18L305.41,1079.67L308.02,1079.67L305.91,1081.20L306.72,1083.69L304.60,1082.15L302.48,1083.69L303.29,1081.20L301.18,1079.67L303.79,1079.67ZM314.60,1074.50L315.41,1076.99L318.02,1076.99L315.91,1078.52L316.72,1081.01L314.60,1079.48L312.48,1081.01L313.29,1078.52L311.18,1076.99L313.79,1076.99ZM324.60,1077.18L325.41,1079.67L328.02,1079.67L325.91,1081.20L326.72,1083.69L324.60,1082.15L322.48,1083.69L323.29,1081.20L321.18,1079.67L323.79,1079.67ZM331.92,1084.50L332.73,1086.99L335.34,1086.99L333.23,1088.52L334.04,1091.01L331.92,1089.48L329.80,1091.01L330.61,1088.52L328.50,1086.99L331.11,1086.99Z" fill="#ffdd1a"/>
<text x="387.5" y="1094.6" font-size="19.3" font-weight="bold" fill="#878787" textLength="157.5" lengthAdjust="spacingAndGlyphs">PROGRAMME OF</text>
<text x="387.5" y="1115.6" font-size="19.3" font-weight="bold" fill="#878787" textLength="213.8" lengthAdjust="spacingAndGlyphs">THE EUROPEAN UNION</text>
<g aria-label="Copernicus"><title>Copernicus</title>
<defs><linearGradient id="cg" x1="0" y1="1" x2="1" y2="0"><stop offset="0" stop-color="#2c69ad"/><stop offset="0.55" stop-color="#5b95cf"/><stop offset="1" stop-color="#b9d6ef"/></linearGradient></defs>
<path d="M690.1,1087.2 A28.75,28.75 0 1 0 673.75,1124.5 A25.8,25.8 0 1 1 690.1,1087.2Z" fill="url(#cg)"/>
<text x="661" y="1115.5" font-size="34.5" font-weight="normal" fill="#1d3766" textLength="143" lengthAdjust="spacingAndGlyphs" stroke="#fff" stroke-width="0.7" paint-order="fill stroke">opernicus</text>
<circle cx="740.5" cy="1104.5" r="3.6" fill="#f6c21c"/>
<text x="704.5" y="1127" font-size="10" font-weight="normal" fill="#2a5c9a" textLength="99.5" lengthAdjust="spacingAndGlyphs">Europe’s eyes on Earth</text>
</g>
<text x="858.75" y="1076.4" font-size="10.9" font-weight="normal" fill="#1a72b8" textLength="89.05" lengthAdjust="spacingAndGlyphs">IMPLEMENTED BY</text>
<circle cx="878.75" cy="1106.9" r="20.6" fill="#0b6cb1"/><circle cx="894.7" cy="1106.9" r="20.6" fill="#0b6cb1"/><circle cx="878.75" cy="1106.9" r="8.75" fill="#fff"/><circle cx="894.7" cy="1106.9" r="8.75" fill="#fff"/><rect x="894.7" y="1103.1" width="22" height="7.8" fill="#fff"/><rect x="857" y="1103.1" width="21.75" height="7.8" fill="#fff"/><rect x="858.1" y="1104.7" width="17.5" height="4.4" fill="#0b6cb1"/>
<text x="923.1" y="1125" font-size="50.6" font-weight="bold" fill="#0b6cb1" textLength="178.2" lengthAdjust="spacingAndGlyphs">ECMWF</text>
<path d="M1198.4,1087.2 A28.75,28.75 0 1 0 1184.7,1124.4 A26.3,26.3 0 1 1 1198.4,1087.2Z" fill="#941f3d"/><path d="M1153.4,1099.7 C1153.8,1096.5 1156.5,1094.2 1159.4,1094 C1159.2,1089.5 1162.5,1086.2 1166.3,1086.2 C1168.8,1086.2 1171,1087.3 1172.5,1089.4 C1174,1085 1177.5,1082.2 1181.3,1082.2 C1186.8,1082.2 1190.6,1087.5 1190,1094 C1193.4,1094 1196,1096.2 1196.6,1099.4" fill="none" stroke="#941f3d" stroke-width="1.4"/><path d="M1177.6,1104 L1177.6,1093.6 A3,3 0 0 1 1183.6,1093.6 L1183.6,1104 A5.1,5.1 0 1 1 1177.6,1104Z" fill="#fff" stroke="#941f3d" stroke-width="1.3"/><circle cx="1180.6" cy="1107.6" r="2.9" fill="#941f3d"/><rect x="1179.5" y="1093.3" width="2.3" height="13" fill="#941f3d"/>
<text x="1205" y="1091.6" font-size="14.6" font-weight="normal" fill="#a23350" style="font-family:DejaVu Sans, Liberation Sans, sans-serif" textLength="59.5" lengthAdjust="spacingAndGlyphs">Climate</text>
<text x="1205" y="1110.3" font-size="14.6" font-weight="normal" fill="#a23350" style="font-family:DejaVu Sans, Liberation Sans, sans-serif" textLength="123" lengthAdjust="spacingAndGlyphs">Change Service</text>
<text x="1206.3" y="1126.6" font-size="9.3" font-weight="normal" fill="#8c8c8c" style="font-family:DejaVu Sans, Liberation Sans, sans-serif" textLength="94.5" lengthAdjust="spacingAndGlyphs">climate.copernicus.eu</text>
</svg>
</body></html>
